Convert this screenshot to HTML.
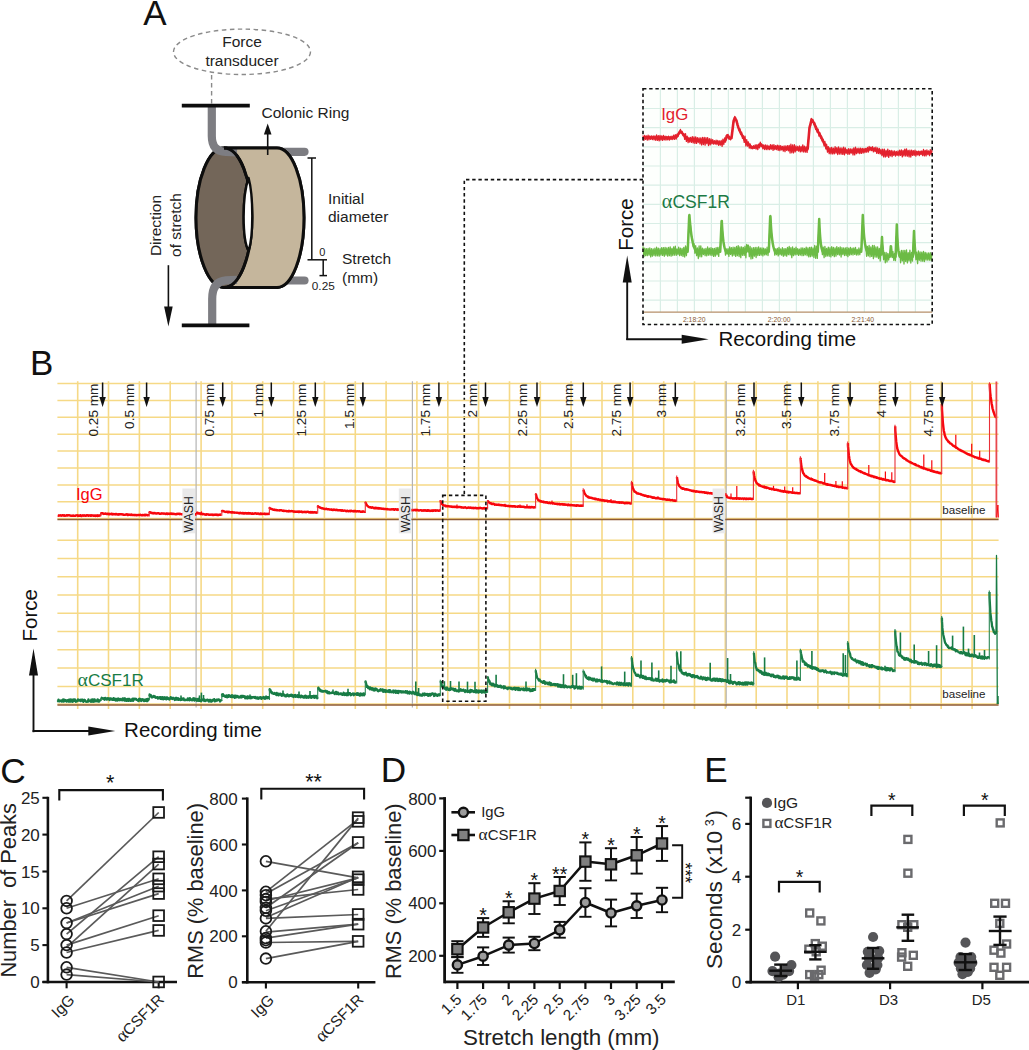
<!DOCTYPE html>
<html lang="en"><head><meta charset="utf-8"><title>Figure</title>
<style>html,body{margin:0;padding:0;background:#fff}svg{display:block}text{font-family:'Liberation Sans', Arial, sans-serif}</style></head><body>
<svg width="1029" height="1050" viewBox="0 0 1029 1050">
<rect width="1029" height="1050" fill="#fff"/>
<g id="panelA">
<text x="143.3" y="24.5" font-size="35" fill="#111" text-anchor="start">A</text>
<ellipse cx="242" cy="51.8" rx="68.5" ry="22.7" fill="none" stroke="#8a8a8a" stroke-width="1.4" stroke-dasharray="4.5 3.5"/>
<text x="242" y="46.5" font-size="15.5" fill="#222" text-anchor="middle">Force</text>
<text x="242" y="65.5" font-size="15.5" fill="#222" text-anchor="middle">transducer</text>
<line x1="211.6" y1="75" x2="211.6" y2="104" stroke="#8a8a8a" stroke-width="1.4" stroke-dasharray="4.5 3.5"/>
<line x1="283" y1="151.8" x2="304.5" y2="151.8" stroke="#7d7d82" stroke-width="8.2" stroke-linecap="round"/>
<line x1="283" y1="280.5" x2="304.5" y2="280.5" stroke="#7d7d82" stroke-width="8.2" stroke-linecap="round"/>
<path d="M224,148 L277,148 A27,69.7 0 0 1 277,287.4 L224,287.4 A28,69.7 0 0 1 224,148 Z" fill="#c5b69c" stroke="#0d0d0d" stroke-width="3" stroke-linejoin="round"/>
<ellipse cx="224" cy="217.7" rx="28" ry="69.7" fill="#736659" stroke="#0d0d0d" stroke-width="3"/>
<path d="M248.6,178 C242,196 242,239 248.6,251 C253.5,236 253.5,196 248.6,178 Z" fill="#fff" stroke="#0d0d0d" stroke-width="2.4" stroke-linejoin="round"/>
<path d="M211.8,107 L211.8,136 C211.8,147 217,151.5 226,152 L237,152.5" fill="none" stroke="#7d7d82" stroke-width="8.2" stroke-linecap="butt"/>
<path d="M212.2,324 L212.2,299 C212.2,287 217,281 226,280.3 L237,279.8" fill="none" stroke="#7d7d82" stroke-width="8.2" stroke-linecap="butt"/>
<path d="M236,148 L277,148 A27,69.7 0 0 1 277,287.4 L236,287.4 C244,279 252,250 252,217.7 C252,186 244,157 236,148 Z" fill="#c5b69c"/>
<path d="M224,148 L277,148 A27,69.7 0 0 1 277,287.4 L224,287.4" fill="none" stroke="#0d0d0d" stroke-width="3"/>
<path d="M224,148 A28,69.7 0 0 1 224,287.4" fill="none" stroke="#0d0d0d" stroke-width="3"/>
<path d="M248.6,178 C242,196 242,239 248.6,251 C253.5,236 253.5,196 248.6,178 Z" fill="#fff" stroke="#0d0d0d" stroke-width="2.4" stroke-linejoin="round"/>
<line x1="181.8" y1="105.6" x2="249.8" y2="105.6" stroke="#0d0d0d" stroke-width="3.6"/>
<line x1="181.8" y1="325.4" x2="249.4" y2="325.4" stroke="#0d0d0d" stroke-width="3.6"/>
<line x1="267.7" y1="155" x2="267.7" y2="133.6" stroke="#111" stroke-width="1.6"/>
<polygon points="267.7,123.6 271.5,134.6 263.9,134.6" fill="#111"/>
<text x="261.5" y="117.5" font-size="15.5" fill="#222" text-anchor="start">Colonic Ring</text>
<line x1="311.8" y1="158" x2="311.8" y2="259.8" stroke="#111" stroke-width="1.5"/>
<line x1="307.5" y1="158" x2="316" y2="158" stroke="#111" stroke-width="1.5"/>
<line x1="307.5" y1="259.8" x2="316" y2="259.8" stroke="#111" stroke-width="1.5"/>
<text x="328" y="204" font-size="15.5" fill="#222" text-anchor="start">Initial</text>
<text x="328" y="222" font-size="15.5" fill="#222" text-anchor="start">diameter</text>
<line x1="323.2" y1="260" x2="323.2" y2="275.6" stroke="#111" stroke-width="1.5"/>
<line x1="316" y1="259.8" x2="327" y2="259.8" stroke="#111" stroke-width="1.5"/>
<line x1="319.5" y1="275.6" x2="327" y2="275.6" stroke="#111" stroke-width="1.5"/>
<text x="319.3" y="256" font-size="11" fill="#222" text-anchor="start">0</text>
<text x="311.8" y="289.5" font-size="11.8" fill="#222" text-anchor="start">0.25</text>
<text x="342" y="264" font-size="15.5" fill="#222" text-anchor="start">Stretch</text>
<text x="342" y="282.5" font-size="15.5" fill="#222" text-anchor="start">(mm)</text>
<text x="161.3" y="225.5" font-size="15.5" fill="#222" text-anchor="middle" transform="rotate(-90 161.3 225.5)">Direction</text>
<text x="180.9" y="225" font-size="15.5" fill="#222" text-anchor="middle" transform="rotate(-90 180.9 225)">of stretch</text>
<line x1="168.4" y1="265.2" x2="168.4" y2="307.5" stroke="#111" stroke-width="1.6"/>
<polygon points="168.4,326.5 164.1,306.5 172.7,306.5" fill="#111"/>
</g>
<g id="inset">
<rect x="643" y="88.8" width="289.2" height="235.7" fill="#fdfffd"/>
<line x1="660.4" y1="88.8" x2="660.4" y2="312" stroke="#d9eee6" stroke-width="1.2"/>
<line x1="677.4" y1="88.8" x2="677.4" y2="312" stroke="#d9eee6" stroke-width="1.2"/>
<line x1="694.4" y1="88.8" x2="694.4" y2="312" stroke="#d9eee6" stroke-width="1.2"/>
<line x1="711.4" y1="88.8" x2="711.4" y2="312" stroke="#d9eee6" stroke-width="1.2"/>
<line x1="728.4" y1="88.8" x2="728.4" y2="312" stroke="#d9eee6" stroke-width="1.2"/>
<line x1="745.4" y1="88.8" x2="745.4" y2="312" stroke="#d9eee6" stroke-width="1.2"/>
<line x1="762.4" y1="88.8" x2="762.4" y2="312" stroke="#d9eee6" stroke-width="1.2"/>
<line x1="779.4" y1="88.8" x2="779.4" y2="312" stroke="#d9eee6" stroke-width="1.2"/>
<line x1="796.4" y1="88.8" x2="796.4" y2="312" stroke="#d9eee6" stroke-width="1.2"/>
<line x1="813.4" y1="88.8" x2="813.4" y2="312" stroke="#d9eee6" stroke-width="1.2"/>
<line x1="830.4" y1="88.8" x2="830.4" y2="312" stroke="#d9eee6" stroke-width="1.2"/>
<line x1="847.4" y1="88.8" x2="847.4" y2="312" stroke="#d9eee6" stroke-width="1.2"/>
<line x1="864.4" y1="88.8" x2="864.4" y2="312" stroke="#d9eee6" stroke-width="1.2"/>
<line x1="881.4" y1="88.8" x2="881.4" y2="312" stroke="#d9eee6" stroke-width="1.2"/>
<line x1="898.4" y1="88.8" x2="898.4" y2="312" stroke="#d9eee6" stroke-width="1.2"/>
<line x1="915.4" y1="88.8" x2="915.4" y2="312" stroke="#d9eee6" stroke-width="1.2"/>
<line x1="643" y1="108.5" x2="932.2" y2="108.5" stroke="#d9eee6" stroke-width="1.2"/>
<line x1="643" y1="127.7" x2="932.2" y2="127.7" stroke="#d9eee6" stroke-width="1.2"/>
<line x1="643" y1="146.8" x2="932.2" y2="146.8" stroke="#d9eee6" stroke-width="1.2"/>
<line x1="643" y1="166" x2="932.2" y2="166" stroke="#d9eee6" stroke-width="1.2"/>
<line x1="643" y1="185.2" x2="932.2" y2="185.2" stroke="#d9eee6" stroke-width="1.2"/>
<line x1="643" y1="204.4" x2="932.2" y2="204.4" stroke="#d9eee6" stroke-width="1.2"/>
<line x1="643" y1="223.5" x2="932.2" y2="223.5" stroke="#d9eee6" stroke-width="1.2"/>
<line x1="643" y1="242.7" x2="932.2" y2="242.7" stroke="#d9eee6" stroke-width="1.2"/>
<line x1="643" y1="261.9" x2="932.2" y2="261.9" stroke="#d9eee6" stroke-width="1.2"/>
<line x1="643" y1="281" x2="932.2" y2="281" stroke="#d9eee6" stroke-width="1.2"/>
<line x1="643" y1="300.2" x2="932.2" y2="300.2" stroke="#d9eee6" stroke-width="1.2"/>
<line x1="643" y1="312.2" x2="932.2" y2="312.2" stroke="#b58f68" stroke-width="1.2"/>
<text x="694.3" y="321.9" font-size="6.8" fill="#8a5a35" text-anchor="middle">2:18:20</text>
<text x="779.2" y="321.9" font-size="6.8" fill="#8a5a35" text-anchor="middle">2:20:00</text>
<text x="862.8" y="321.9" font-size="6.8" fill="#8a5a35" text-anchor="middle">2:21:40</text>
<polyline points="643,137.5 643.3,137.5 643.6,137.5 643.9,137.5 644.2,137.5 644.5,137.5 644.8,137.5 645.1,137.5 645.4,137.5 645.7,137.5 646,137.6 646.3,137.6 646.6,137.6 646.9,137.6 647.2,137.6 647.5,137.6 647.8,137.6 648.1,137.6 648.4,137.6 648.7,137.6 649,137.6 649.3,137.6 649.6,137.6 649.9,137.6 650.2,137.6 650.5,137.6 650.8,137.6 651.1,137.6 651.4,137.6 651.7,137.6 652,137.7 652.3,137.7 652.6,137.7 652.9,137.7 653.2,137.7 653.5,137.7 653.8,137.7 654.1,137.7 654.4,137.7 654.7,137.7 655,137.7 655.3,137.7 655.6,137.7 655.9,137.7 656.2,137.7 656.5,137.7 656.8,137.7 657.1,137.7 657.4,137.7 657.7,137.8 658,137.8 658.3,137.8 658.6,137.8 658.9,137.8 659.2,137.8 659.5,137.8 659.8,137.8 660.1,137.8 660.4,137.8 660.7,137.8 661,137.8 661.3,137.8 661.6,137.8 661.9,137.8 662.2,137.8 662.5,137.8 662.8,137.8 663.1,137.8 663.4,137.9 663.7,137.9 664,137.9 664.3,137.9 664.6,137.9 664.9,137.9 665.2,137.9 665.5,137.9 665.8,137.9 666.1,137.9 666.4,137.9 666.7,137.9 667,137.9 667.3,137.9 667.6,137.9 667.9,137.9 668.2,137.9 668.5,137.9 668.8,137.9 669.1,137.9 669.4,138 669.7,138 670,138 670.3,138 670.6,138 670.9,138 671.2,138 671.5,138 671.8,138 672.1,138 672.4,137.9 672.7,137.8 673,137.7 673.3,137.6 673.6,137.5 673.9,137.4 674.2,137.3 674.5,137.3 674.8,137.2 675.1,137.1 675.4,137 675.7,136.9 676,136.8 676.3,136.7 676.6,136.6 676.9,136.5 677.2,136.2 677.5,135.7 677.8,135.2 678.1,134.7 678.4,134.2 678.7,133.7 679,133.2 679.3,132.7 679.6,132.2 679.9,131.7 680.2,131.2 680.5,131.2 680.8,131.6 681.1,131.9 681.4,132.2 681.7,132.6 682,132.9 682.3,133.2 682.6,133.6 682.9,133.9 683.2,134.3 683.5,134.6 683.8,135 684.1,135.4 684.4,135.8 684.7,136.2 685,136.6 685.3,137 685.6,137.4 685.9,137.8 686.2,138.2 686.5,138.5 686.8,138.9 687.1,139.2 687.4,139.2 687.7,139.3 688,139.3 688.3,139.3 688.6,139.4 688.9,139.4 689.2,139.4 689.5,139.4 689.8,139.5 690.1,139.5 690.4,139.5 690.7,139.6 691,139.6 691.3,139.6 691.6,139.7 691.9,139.7 692.2,139.7 692.5,139.7 692.8,139.8 693.1,139.8 693.4,139.8 693.7,139.9 694,139.9 694.3,139.9 694.6,140 694.9,140 695.2,140 695.5,140 695.8,140.1 696.1,140.1 696.4,140.1 696.7,140.2 697,140.2 697.3,140.2 697.6,140.3 697.9,140.3 698.2,140.3 698.5,140.3 698.8,140.4 699.1,140.4 699.4,140.4 699.7,140.5 700,140.5 700.3,140.5 700.6,140.6 700.9,140.6 701.2,140.6 701.5,140.7 701.8,140.7 702.1,140.8 702.4,140.8 702.7,140.8 703,140.9 703.3,140.9 703.6,140.9 703.9,141 704.2,141 704.5,141.1 704.8,141.1 705.1,141.1 705.4,141.2 705.7,141.2 706,141.2 706.3,141.3 706.6,141.3 706.9,141.3 707.2,141.4 707.5,141.4 707.8,141.5 708.1,141.5 708.4,141.5 708.7,141.6 709,141.6 709.3,141.6 709.6,141.7 709.9,141.7 710.2,141.8 710.5,141.8 710.8,141.8 711.1,141.9 711.4,141.9 711.7,141.9 712,142 712.3,142 712.6,142 712.9,142.1 713.2,142.1 713.5,142.2 713.8,142.2 714.1,142.2 714.4,142.3 714.7,142.3 715,142.3 715.3,142.4 715.6,142.4 715.9,142.5 716.2,142.5 716.5,142.5 716.8,142.6 717.1,142.6 717.4,142.6 717.7,142.7 718,142.7 718.3,142.7 718.6,142.8 718.9,142.8 719.2,142.9 719.5,142.9 719.8,142.9 720.1,143 720.4,143 720.7,143 721,143.1 721.3,143.1 721.6,143.2 721.9,143.2 722.2,143 722.5,142.7 722.8,142.5 723.1,142.2 723.4,141.9 723.7,141.6 724,141.4 724.3,141.1 724.6,140.8 724.9,140.5 725.2,140.3 725.5,140 725.8,139.2 726.1,138.4 726.4,137.7 726.7,136.9 727,136.1 727.3,135.3 727.6,135.7 727.9,136.2 728.2,136.6 728.5,137 728.8,137.5 729.1,137.9 729.4,138.4 729.7,138.5 730,138.4 730.3,138.3 730.6,138.2 730.9,138.2 731.2,138.1 731.5,138 731.8,135.6 732.1,133.1 732.4,130.7 732.7,128.3 733,125.9 733.3,123.4 733.6,121 733.9,120.2 734.2,119.4 734.5,118.6 734.8,117.8 735.1,117.9 735.4,118.6 735.7,119.2 736,119.9 736.3,120.6 736.6,121.3 736.9,122.4 737.2,123.4 737.5,124.5 737.8,125.5 738.1,126.6 738.4,127.6 738.7,128.4 739,129.1 739.3,129.8 739.6,130.4 739.9,131.1 740.2,131.7 740.5,132.4 740.8,133.1 741.1,133.7 741.4,134.2 741.7,134.7 742,135.2 742.3,135.7 742.6,136.2 742.9,136.7 743.2,137.2 743.5,137.7 743.8,138.3 744.1,138.8 744.4,139.3 744.7,139.8 745,140.3 745.3,140.8 745.6,141.3 745.9,141.8 746.2,142.2 746.5,142.5 746.8,142.7 747.1,143 747.4,143.3 747.7,143.6 748,143.8 748.3,144.1 748.6,144.4 748.9,144.7 749.2,144.9 749.5,145.2 749.8,145.5 750.1,145.8 750.4,146 750.7,146.3 751,146.6 751.3,146.9 751.6,147.1 751.9,147.4 752.2,147.5 752.5,147.5 752.8,147.4 753.1,147.4 753.4,147.4 753.7,147.4 754,147.3 754.3,147.3 754.6,147.3 754.9,147.3 755.2,147.2 755.5,147.2 755.8,147.2 756.1,147.2 756.4,147.1 756.7,147.1 757,147.1 757.3,147.1 757.6,147 757.9,147 758.2,146.8 758.5,146.4 758.8,146 759.1,145.7 759.4,145.3 759.7,145 760,144.6 760.3,144.2 760.6,144.1 760.9,144.5 761.2,144.8 761.5,145.2 761.8,145.6 762.1,145.9 762.4,146.3 762.7,146.6 763,147 763.3,147 763.6,147 763.9,147 764.2,147.1 764.5,147.1 764.8,147.1 765.1,147.1 765.4,147.1 765.7,147.1 766,147.2 766.3,147.2 766.6,147.2 766.9,147.2 767.2,147.2 767.5,147.2 767.8,147.3 768.1,147.3 768.4,147.3 768.7,147.3 769,147.3 769.3,147.3 769.6,147.4 769.9,147.4 770.2,147.4 770.5,147.4 770.8,147.4 771.1,147.4 771.4,147.5 771.7,147.5 772,147.5 772.3,147.5 772.6,147.5 772.9,147.5 773.2,147.6 773.5,147.6 773.8,147.6 774.1,147.6 774.4,147.6 774.7,147.6 775,147.7 775.3,147.7 775.6,147.7 775.9,147.7 776.2,147.7 776.5,147.7 776.8,147.8 777.1,147.8 777.4,147.8 777.7,147.8 778,147.8 778.3,147.8 778.6,147.9 778.9,147.9 779.2,147.9 779.5,147.9 779.8,147.9 780.1,147.9 780.4,148 780.7,148 781,148 781.3,148 781.6,148 781.9,148 782.2,148.1 782.5,148.1 782.8,148.1 783.1,148.1 783.4,148.1 783.7,148.1 784,148.2 784.3,148.2 784.6,148.2 784.9,148.2 785.2,148.2 785.5,148.2 785.8,148.3 786.1,148.3 786.4,148.3 786.7,148.3 787,148.3 787.3,148.3 787.6,148.4 787.9,148.4 788.2,148.4 788.5,148.4 788.8,148.4 789.1,148.4 789.4,148.5 789.7,148.5 790,148.5 790.3,148.5 790.6,148.5 790.9,148.6 791.2,148.6 791.5,148.6 791.8,148.6 792.1,148.6 792.4,148.6 792.7,148.7 793,148.7 793.3,148.7 793.6,148.7 793.9,148.7 794.2,148.7 794.5,148.8 794.8,148.8 795.1,148.8 795.4,148.8 795.7,148.8 796,148.8 796.3,148.9 796.6,148.9 796.9,148.9 797.2,148.9 797.5,148.9 797.8,148.9 798.1,149 798.4,149 798.7,149 799,149 799.3,149 799.6,149 799.9,149.1 800.2,149.1 800.5,149.1 800.8,149.1 801.1,149.1 801.4,149.1 801.7,149.2 802,149.2 802.3,149.2 802.6,149.2 802.9,149.2 803.2,149.2 803.5,149.3 803.8,149.3 804.1,149.3 804.4,149.3 804.7,149.3 805,149.4 805.3,149.4 805.6,149.4 805.9,149.4 806.2,149.4 806.5,149.4 806.8,149.5 807.1,149.5 807.4,149.5 807.7,148.4 808,145 808.3,141.6 808.6,138.2 808.9,134.8 809.2,131.4 809.5,128 809.8,126.8 810.1,125.6 810.4,124.4 810.7,123.1 811,121.9 811.3,120.7 811.6,119.5 811.9,119.9 812.2,120.4 812.5,120.8 812.8,121.2 813.1,121.7 813.4,122.1 813.7,122.6 814,123 814.3,123.7 814.6,124.4 814.9,125.1 815.2,125.8 815.5,126.5 815.8,127.2 816.1,127.9 816.4,128.6 816.7,129.3 817,130 817.3,130.5 817.6,131 817.9,131.5 818.2,132 818.5,132.5 818.8,133 819.1,133.5 819.4,134 819.7,134.5 820,135 820.3,135.6 820.6,136.2 820.9,136.8 821.2,137.4 821.5,138 821.8,138.6 822.1,139.2 822.4,139.8 822.7,140.4 823,141 823.3,141.6 823.6,142.2 823.9,142.8 824.2,143.3 824.5,143.8 824.8,144.3 825.1,144.8 825.4,145.3 825.7,145.8 826,146.3 826.3,146.8 826.6,147.3 826.9,147.8 827.2,148.3 827.5,148.8 827.8,149.3 828.1,149.8 828.4,150.3 828.7,150.5 829,150.5 829.3,150.5 829.6,150.6 829.9,150.6 830.2,150.6 830.5,150.6 830.8,150.6 831.1,150.6 831.4,150.6 831.7,150.6 832,150.7 832.3,150.7 832.6,150.7 832.9,150.7 833.2,150.7 833.5,150.7 833.8,150.7 834.1,150.8 834.4,150.8 834.7,150.8 835,150.8 835.3,150.8 835.6,150.8 835.9,150.8 836.2,150.9 836.5,150.9 836.8,150.9 837.1,150.9 837.4,150.9 837.7,150.9 838,150.9 838.3,151 838.6,151 838.9,151 839.2,151 839.5,151 839.8,151 840.1,151 840.4,151.1 840.7,151.1 841,151.1 841.3,151.1 841.6,151.1 841.9,151.1 842.2,151.1 842.5,151.2 842.8,151.2 843.1,151.2 843.4,151.2 843.7,151.2 844,151.2 844.3,151.2 844.6,151.2 844.9,151.3 845.2,151.3 845.5,151.3 845.8,151.3 846.1,151.3 846.4,151.3 846.7,151.3 847,151.4 847.3,151.4 847.6,151.4 847.9,151.4 848.2,151.4 848.5,151.4 848.8,151.4 849.1,151.5 849.4,151.5 849.7,151.5 850,151.5 850.3,151.5 850.6,151.5 850.9,151.4 851.2,151.4 851.5,151.4 851.8,151.4 852.1,151.4 852.4,151.3 852.7,151.3 853,151.3 853.3,151.3 853.6,151.2 853.9,151.2 854.2,151.2 854.5,151.2 854.8,151.2 855.1,151.1 855.4,151.1 855.7,151.1 856,151.1 856.3,151.1 856.6,151 856.9,151 857.2,151 857.5,151 857.8,150.9 858.1,150.9 858.4,150.9 858.7,150.9 859,150.9 859.3,150.8 859.6,150.8 859.9,150.8 860.2,150.8 860.5,150.8 860.8,150.7 861.1,150.7 861.4,150.7 861.7,150.7 862,150.6 862.3,150.6 862.6,150.6 862.9,150.6 863.2,150.6 863.5,150.5 863.8,150.5 864.1,150.5 864.4,150.4 864.7,150.3 865,150.2 865.3,150.1 865.6,150 865.9,149.9 866.2,149.8 866.5,149.7 866.8,149.6 867.1,149.5 867.4,149.4 867.7,149.3 868,149.2 868.3,149.1 868.6,149 868.9,148.9 869.2,148.8 869.5,148.7 869.8,148.6 870.1,148.5 870.4,148.6 870.7,148.7 871,148.7 871.3,148.8 871.6,148.9 871.9,149 872.2,149 872.5,149.1 872.8,149.2 873.1,149.3 873.4,149.3 873.7,149.4 874,149.5 874.3,149.6 874.6,149.6 874.9,149.7 875.2,149.8 875.5,149.9 875.8,149.9 876.1,150 876.4,150.2 876.7,150.3 877,150.4 877.3,150.6 877.6,150.7 877.9,150.8 878.2,151 878.5,151.1 878.8,151.2 879.1,151.4 879.4,151.5 879.7,151.6 880,151.7 880.3,151.9 880.6,152 880.9,152.1 881.2,152.3 881.5,152.4 881.8,152.5 882.1,152.7 882.4,152.8 882.7,152.9 883,153.1 883.3,153.2 883.6,153.3 883.9,153.5 884.2,153.5 884.5,153.5 884.8,153.5 885.1,153.5 885.4,153.5 885.7,153.5 886,153.5 886.3,153.5 886.6,153.5 886.9,153.5 887.2,153.5 887.5,153.5 887.8,153.4 888.1,153.4 888.4,153.4 888.7,153.4 889,153.4 889.3,153.4 889.6,153.4 889.9,153.4 890.2,153.4 890.5,153.4 890.8,153.4 891.1,153.4 891.4,153.4 891.7,153.4 892,153.4 892.3,153.4 892.6,153.4 892.9,153.4 893.2,153.4 893.5,153.4 893.8,153.4 894.1,153.4 894.4,153.4 894.7,153.3 895,153.3 895.3,153.3 895.6,153.3 895.9,153.3 896.2,153.3 896.5,153.3 896.8,153.3 897.1,153.3 897.4,153.3 897.7,153.3 898,153.3 898.3,153.3 898.6,153.3 898.9,153.3 899.2,153.3 899.5,153.3 899.8,153.3 900.1,153.3 900.4,153.3 900.7,153.3 901,153.3 901.3,153.3 901.6,153.2 901.9,153.2 902.2,153.2 902.5,153.2 902.8,153.2 903.1,153.2 903.4,153.2 903.7,153.2 904,153.2 904.3,153.2 904.6,153.2 904.9,153.2 905.2,153.2 905.5,153.2 905.8,153.2 906.1,153.2 906.4,153.2 906.7,153.2 907,153.2 907.3,153.1 907.6,153.1 907.9,153.1 908.2,153.1 908.5,153.1 908.8,153.1 909.1,153.1 909.4,153.1 909.7,153.1 910,153.1 910.3,153.1 910.6,153.1 910.9,153.1 911.2,153.1 911.5,153.1 911.8,153.1 912.1,153 912.4,153 912.7,153 913,153 913.3,153 913.6,153 913.9,153 914.2,153 914.5,153 914.8,153 915.1,153 915.4,153 915.7,153 916,153 916.3,153 916.6,152.9 916.9,152.9 917.2,152.9 917.5,152.9 917.8,152.9 918.1,152.9 918.4,152.9 918.7,152.9 919,152.9 919.3,152.9 919.6,152.9 919.9,152.9 920.2,152.9 920.5,152.9 920.8,152.9 921.1,152.8 921.4,152.8 921.7,152.8 922,152.8 922.3,152.8 922.6,152.8 922.9,152.8 923.2,152.8 923.5,152.8 923.8,152.8 924.1,152.8 924.4,152.8 924.7,152.8 925,152.8 925.3,152.8 925.6,152.7 925.9,152.7 926.2,152.7 926.5,152.7 926.8,152.7 927.1,152.7 927.4,152.7 927.7,152.7 928,152.7 928.3,152.7 928.6,152.7 928.9,152.7 929.2,152.7 929.5,152.7 929.8,152.7 930.1,152.6 930.4,152.6 930.7,152.6 931,152.6 931.3,152.6 931.6,152.6 931.9,152.6 932.2,152.6" fill="none" stroke="#e3212d" stroke-width="2.6" stroke-linejoin="round"/>
<polyline points="643,135.5 643.9,140.3 644.7,135.3 645.6,139.4 646.4,135.8 647.3,140.2 648.1,135.1 649,139.9 649.8,135.8 650.7,139.4 651.5,135.8 652.4,139.7 653.2,136 654.1,139.9 654.9,135.9 655.8,140.3 656.6,135 657.5,140.3 658.3,135.6 659.2,140.9 660,135.3 660.9,140.1 661.7,135.9 662.6,140.3 663.4,135.5 664.3,139.9 665.1,136.2 666,140.2 666.8,136.4 667.7,139.8 668.5,136.2 669.4,140 670.2,136.4 671.1,139.5 671.9,136.2 672.8,139.5 673.6,135.2 674.5,139.4 675.3,134.6 676.2,139.1 677,134.1 677.9,136.7 678.7,132.3 679.6,133.6 680.4,129.3 681.3,133.2 682.1,131.3 683,135.7 683.8,133.7 684.7,139.3 685.5,133.6 686.4,141.3 687.2,136.2 688.1,142.6 688.9,137.4 689.8,142.1 690.6,137.3 691.5,142.4 692.3,136.7 693.2,142.9 694,136.9 694.9,143.3 695.7,136.9 696.6,143.4 697.4,137.7 698.3,142.5 699.1,137.9 700,143.8 700.8,137.9 701.7,145 702.5,137.5 703.4,144.5 704.2,137.3 705.1,145.1 705.9,137.7 706.8,143.7 707.6,137.6 708.5,145.5 709.3,138.6 710.2,144.9 711,138.8 711.9,143.8 712.7,139.6 713.6,144.2 714.4,140.7 715.3,144.2 716.1,140.1 717,144.5 717.8,140.3 718.7,145.4 719.5,140.8 720.4,145.2 721.2,140.5 722.1,146.4 722.9,139.2 723.8,144.5 724.6,138 725.5,142.2 726.3,135.4 727.2,137.3 728,134.4 728.9,139 729.7,136.1 730.6,139.9 731.4,136.9 732.3,133.1 733.1,123.6 734,121.5 734.8,116.3 735.7,120.3 736.5,119.4 737.4,125.6 738.2,125.3 739.1,130.5 739.9,128.9 740.8,134.3 741.6,132.2 742.5,138.4 743.3,135.9 744.2,142.3 745,136.2 745.9,146 746.7,139.7 747.6,146.2 748.4,141.8 749.3,148.1 750.1,143.9 751,148.7 751.8,146.3 752.7,148.8 753.5,145.7 754.4,148.3 755.2,144.8 756.1,149.2 756.9,144.6 757.8,149.6 758.6,144.2 759.5,147.9 760.3,142.2 761.2,146.3 762,144.3 762.9,148.9 763.7,144.8 764.6,149.5 765.4,145 766.3,149.6 767.1,145.1 768,149.7 768.8,145.9 769.7,149.7 770.5,144.6 771.4,149.1 772.2,144.9 773.1,150.3 773.9,144.6 774.8,149.6 775.6,145.7 776.5,149.7 777.3,145.1 778.2,150.4 779,145.4 779.9,150.7 780.7,145.6 781.6,149.9 782.4,146.3 783.3,151.2 784.1,145.9 785,151.7 785.8,146 786.7,150.4 787.5,145.7 788.4,150.9 789.2,145.4 790.1,153 790.9,144.2 791.8,152.8 792.6,145 793.5,152.9 794.3,144.7 795.2,151.8 796,146 796.9,150.6 797.7,146.5 798.6,151.2 799.4,146 800.3,151.9 801.1,146.5 802,151.6 802.8,144.8 803.7,152 804.5,146.1 805.4,152.1 806.2,146.9 807.1,152.4 807.9,142.7 808.8,138.1 809.6,125.4 810.5,126 811.3,118.5 812.2,122.4 813,119.9 813.9,124.5 814.7,122.8 815.6,129.4 816.4,126.3 817.3,132.3 818.1,129.2 819,136.1 819.8,132.6 820.7,138.1 821.5,136.1 822.4,141.4 823.2,139.4 824.1,145.8 824.9,141.5 825.8,148.8 826.6,144.2 827.5,152.1 828.3,146.7 829.2,153.7 830,147.7 830.9,153.9 831.7,147.3 832.6,153.9 833.4,148.2 834.3,153.8 835.1,146.7 836,153.1 836.8,147.7 837.7,154.5 838.5,146.9 839.4,154 840.2,148 841.1,154.1 841.9,147.8 842.8,154.4 843.6,147.2 844.5,154.8 845.3,147.9 846.2,153.4 847,149.4 847.9,154.3 848.7,148.6 849.6,154.1 850.4,148.8 851.3,153.2 852.1,148.9 853,154.9 853.8,147.9 854.7,154.9 855.5,147.1 856.4,153.7 857.2,148.5 858.1,153.2 858.9,148.1 859.8,153.6 860.6,148.1 861.5,153.4 862.3,148.3 863.2,153 864,148.3 864.9,152.6 865.7,148.3 866.6,152.2 867.4,147.5 868.3,152.1 869.1,146.5 870,150.5 870.8,147.1 871.7,150.7 872.5,146.7 873.4,151.9 874.2,147.7 875.1,151.7 875.9,147.1 876.8,153.3 877.6,148 878.5,153.5 879.3,148.4 880.2,154 881,149.5 881.9,155.5 882.7,149.1 883.6,156.9 884.4,149.2 885.3,157 886.1,150.5 887,156.3 887.8,149.1 888.7,157.4 889.5,150.3 890.4,155.8 891.2,150.4 892.1,156.6 892.9,150.9 893.8,155.4 894.6,151 895.5,156.1 896.3,151.3 897.2,155.3 898,151 898.9,155.8 899.7,150.2 900.6,155.3 901.4,150 902.3,156.8 903.1,150.3 904,155.9 904.8,149.1 905.7,156 906.5,148.9 907.4,156.2 908.2,150.4 909.1,156.9 909.9,150.2 910.8,157 911.6,150.2 912.5,155.3 913.3,150.6 914.2,155.4 915,150.1 915.9,156.2 916.7,151.2 917.6,154.9 918.4,151.1 919.3,155.7 920.1,151.2 921,154.6 921.8,150.9 922.7,155.6 923.5,149.5 924.4,155.9 925.2,150.3 926.1,155.8 926.9,149.9 927.8,154.6 928.6,151 929.5,155.6 930.3,149.6 931.2,154.4 932,150.2" fill="none" stroke="#e3212d" stroke-width="1.3" stroke-linejoin="round"/>
<polyline points="643,251.8 643.2,251.8 643.4,251.8 643.6,251.8 643.8,251.8 644,251.8 644.2,251.8 644.4,251.8 644.6,251.8 644.8,251.8 645,251.8 645.2,251.8 645.4,251.8 645.6,251.8 645.8,251.8 646,251.8 646.2,251.8 646.4,251.8 646.6,251.8 646.8,251.8 647,251.8 647.2,251.8 647.4,251.8 647.6,251.8 647.8,251.8 648,251.8 648.2,251.8 648.4,251.8 648.6,251.8 648.8,251.8 649,251.8 649.2,251.8 649.4,251.8 649.6,251.8 649.8,251.8 650,251.8 650.2,251.8 650.4,251.8 650.6,251.8 650.8,251.8 651,251.8 651.2,251.8 651.4,251.8 651.6,251.8 651.8,251.8 652,251.8 652.2,251.8 652.4,251.8 652.6,251.8 652.8,251.8 653,251.8 653.2,251.8 653.4,251.8 653.6,251.8 653.8,251.8 654,251.8 654.2,251.8 654.4,251.8 654.6,251.8 654.8,251.8 655,251.8 655.2,251.8 655.4,251.8 655.6,251.8 655.8,251.8 656,251.8 656.2,251.8 656.4,251.8 656.6,251.8 656.8,251.8 657,251.8 657.2,251.8 657.4,251.8 657.6,251.8 657.8,251.8 658,251.8 658.2,251.8 658.4,251.8 658.6,251.8 658.8,251.8 659,251.8 659.2,251.8 659.4,251.8 659.6,251.8 659.8,251.8 660,251.8 660.2,251.8 660.4,251.8 660.6,251.8 660.8,251.8 661,251.8 661.2,251.8 661.4,251.8 661.6,251.8 661.8,251.8 662,251.8 662.2,251.8 662.4,251.8 662.6,251.8 662.8,251.8 663,251.8 663.2,251.8 663.4,251.8 663.6,251.8 663.8,251.8 664,251.8 664.2,251.8 664.4,251.8 664.6,251.8 664.8,251.8 665,251.8 665.2,251.8 665.4,251.8 665.6,251.8 665.8,251.8 666,251.8 666.2,251.8 666.4,251.8 666.6,251.8 666.8,251.8 667,251.8 667.2,251.8 667.4,251.8 667.6,251.8 667.8,251.8 668,251.8 668.2,251.8 668.4,251.8 668.6,251.8 668.8,251.8 669,251.8 669.2,251.8 669.4,251.8 669.6,251.8 669.8,251.8 670,251.8 670.2,251.8 670.4,251.8 670.6,251.8 670.8,251.8 671,251.8 671.2,251.8 671.4,251.8 671.6,251.8 671.8,251.8 672,251.8 672.2,251.8 672.4,251.8 672.6,251.8 672.8,251.8 673,251.8 673.2,251.8 673.4,251.8 673.6,251.8 673.8,251.8 674,251.8 674.2,251.8 674.4,251.8 674.6,251.8 674.8,251.8 675,251.8 675.2,251.8 675.4,251.8 675.6,251.8 675.8,251.8 676,251.8 676.2,251.8 676.4,251.8 676.6,251.8 676.8,251.8 677,251.8 677.2,251.8 677.4,251.8 677.6,251.8 677.8,251.8 678,251.8 678.2,251.8 678.4,251.8 678.6,251.8 678.8,251.8 679,251.8 679.2,251.8 679.4,251.8 679.6,251.8 679.8,251.8 680,251.8 680.2,251.8 680.4,251.8 680.6,251.8 680.8,251.8 681,251.8 681.2,251.8 681.4,251.8 681.6,251.8 681.8,251.8 682,251.8 682.2,251.8 682.4,251.8 682.6,251.8 682.8,251.8 683,251.8 683.2,251.8 683.4,251.8 683.6,251.8 683.8,251.8 684,251.8 684.2,251.8 684.4,251.8 684.6,251.8 684.8,251.8 685,251.8 685.2,251.8 685.4,251.8 685.6,251.8 685.8,251.8 686,251.8 686.2,251.8 686.4,251.8 686.6,251.8 686.8,251.8 687,251.8 687.2,251.8 687.4,251.8 687.6,251.8 687.8,249.4 688,244.6 688.2,239.8 688.4,235 688.6,230.3 688.8,225.5 689,220.7 689.2,215.9 689.4,214.9 689.6,217.6 689.8,220.1 690,222.4 690.2,224.6 690.4,226.6 690.6,228.5 690.8,230.3 691,231.9 691.2,233.5 691.4,234.9 691.6,236.2 691.8,237.5 692,238.6 692.2,239.7 692.4,240.7 692.6,241.7 692.8,242.6 693,243.4 693.2,244.2 693.4,244.9 693.6,245.6 693.8,246.2 694,246.8 694.2,247.3 694.4,247.8 694.6,248.3 694.8,248.7 695,249.1 695.2,249.5 695.4,249.9 695.6,250.2 695.8,250.5 696,250.8 696.2,251.1 696.4,251.3 696.6,251.6 696.8,251.8 697,251.8 697.2,251.8 697.4,251.8 697.6,251.8 697.8,251.8 698,251.8 698.2,251.8 698.4,251.8 698.6,251.8 698.8,251.8 699,251.8 699.2,251.8 699.4,251.8 699.6,251.8 699.8,251.8 700,251.8 700.2,251.8 700.4,251.8 700.6,251.8 700.8,251.8 701,251.8 701.2,251.8 701.4,251.8 701.6,251.8 701.8,251.8 702,251.8 702.2,251.8 702.4,251.8 702.6,251.8 702.8,251.8 703,251.8 703.2,251.8 703.4,251.8 703.6,251.8 703.8,251.8 704,251.8 704.2,251.8 704.4,251.8 704.6,251.8 704.8,251.8 705,251.8 705.2,251.8 705.4,251.8 705.6,251.8 705.8,251.8 706,251.8 706.2,251.8 706.4,251.8 706.6,251.8 706.8,251.8 707,251.8 707.2,251.8 707.4,251.8 707.6,251.8 707.8,251.8 708,251.8 708.2,251.8 708.4,251.8 708.6,251.8 708.8,251.8 709,251.8 709.2,251.8 709.4,251.8 709.6,251.8 709.8,251.8 710,251.8 710.2,251.8 710.4,251.8 710.6,251.8 710.8,251.8 711,251.8 711.2,251.8 711.4,251.8 711.6,251.8 711.8,251.8 712,251.8 712.2,251.8 712.4,251.8 712.6,251.8 712.8,251.8 713,251.8 713.2,251.8 713.4,251.8 713.6,251.8 713.8,251.8 714,251.8 714.2,251.8 714.4,251.8 714.6,251.8 714.8,251.8 715,251.8 715.2,251.8 715.4,251.8 715.6,251.8 715.8,251.8 716,251.8 716.2,251.8 716.4,251.8 716.6,251.8 716.8,251.8 717,251.8 717.2,251.8 717.4,251.8 717.6,251.8 717.8,251.8 718,251.8 718.2,251.8 718.4,251.8 718.6,251.8 718.8,251.8 719,251.8 719.2,251.8 719.4,251.8 719.6,251.8 719.8,251.8 720,251.8 720.2,251.8 720.4,247.4 720.6,243.1 720.8,238.7 721,234.3 721.2,229.9 721.4,225.6 721.6,221.2 721.8,221 722,224.6 722.2,227.9 722.4,230.8 722.6,233.4 722.8,235.7 723,237.7 723.2,239.5 723.4,241.2 723.6,242.6 723.8,243.9 724,245.1 724.2,246.1 724.4,247 724.6,247.8 724.8,248.5 725,249.2 725.2,249.7 725.4,250.3 725.6,250.7 725.8,251.1 726,251.5 726.2,251.8 726.4,251.8 726.6,251.8 726.8,251.8 727,251.8 727.2,251.8 727.4,251.8 727.6,251.8 727.8,251.8 728,251.8 728.2,251.8 728.4,251.8 728.6,251.8 728.8,251.8 729,251.8 729.2,251.8 729.4,251.8 729.6,251.8 729.8,251.8 730,251.8 730.2,251.8 730.4,251.8 730.6,251.8 730.8,251.8 731,251.8 731.2,251.8 731.4,251.8 731.6,251.8 731.8,251.8 732,251.8 732.2,251.8 732.4,251.8 732.6,251.8 732.8,251.8 733,251.8 733.2,251.8 733.4,251.8 733.6,251.8 733.8,251.8 734,251.8 734.2,251.8 734.4,251.8 734.6,251.8 734.8,251.8 735,251.8 735.2,251.8 735.4,251.8 735.6,251.8 735.8,251.8 736,251.8 736.2,251.8 736.4,251.8 736.6,251.8 736.8,251.8 737,251.8 737.2,251.8 737.4,251.8 737.6,251.8 737.8,251.8 738,251.8 738.2,251.8 738.4,251.8 738.6,251.8 738.8,251.8 739,251.8 739.2,251.8 739.4,251.8 739.6,251.8 739.8,251.8 740,251.8 740.2,251.8 740.4,251.8 740.6,251.8 740.8,251.8 741,251.8 741.2,251.8 741.4,251.8 741.6,251.8 741.8,251.8 742,251.8 742.2,251.8 742.4,251.8 742.6,251.8 742.8,251.8 743,251.8 743.2,251.8 743.4,251.8 743.6,251.8 743.8,251.8 744,251.8 744.2,251.8 744.4,251.8 744.6,251.8 744.8,251.8 745,251.8 745.2,251.8 745.4,251.8 745.6,251.8 745.8,251.8 746,251.8 746.2,251.8 746.4,251.8 746.6,251.2 746.8,249.9 747,248.6 747.2,247.4 747.4,246.1 747.6,246.3 747.8,247.7 748,248.8 748.2,249.6 748.4,250.2 748.6,250.7 748.8,251 749,251.3 749.2,251.6 749.4,251.7 749.6,251.8 749.8,251.8 750,251.8 750.2,251.8 750.4,251.8 750.6,251.8 750.8,251.8 751,251.8 751.2,251.8 751.4,251.8 751.6,251.8 751.8,251.8 752,251.8 752.2,251.8 752.4,251.8 752.6,251.8 752.8,251.8 753,251.8 753.2,251.8 753.4,251.8 753.6,251.8 753.8,251.8 754,251.8 754.2,251.8 754.4,251.8 754.6,251.8 754.8,251.8 755,251.8 755.2,251.8 755.4,251.8 755.6,251.8 755.8,251.8 756,251.8 756.2,251.8 756.4,251.8 756.6,251.8 756.8,251.8 757,251.8 757.2,251.8 757.4,251.8 757.6,251.8 757.8,251.8 758,251.8 758.2,251.8 758.4,251.8 758.6,251.8 758.8,251.8 759,251.8 759.2,251.8 759.4,251.8 759.6,251.8 759.8,251.8 760,251.8 760.2,251.8 760.4,251.8 760.6,251.8 760.8,251.8 761,251.8 761.2,251.8 761.4,251.8 761.6,251.8 761.8,251.8 762,251.8 762.2,251.8 762.4,251.8 762.6,251.8 762.8,251.8 763,251.8 763.2,251.8 763.4,251.8 763.6,251.8 763.8,251.8 764,251.8 764.2,251.8 764.4,251.8 764.6,251.8 764.8,251.8 765,251.8 765.2,251.8 765.4,251.8 765.6,251.8 765.8,251.8 766,251.8 766.2,251.8 766.4,251.8 766.6,251.8 766.8,251.8 767,251.8 767.2,251.8 767.4,251.8 767.6,251.8 767.8,251.8 768,251.8 768.2,251.8 768.4,251.8 768.6,251.8 768.8,251.8 769,246.8 769.2,241.7 769.4,236.7 769.6,231.6 769.8,226.6 770,221.6 770.2,216.5 770.4,216.1 770.6,219.9 770.8,223.3 771,226.5 771.2,229.3 771.4,231.8 771.6,234.1 771.8,236.1 772,238 772.2,239.6 772.4,241.1 772.6,242.5 772.8,243.7 773,244.8 773.2,245.8 773.4,246.7 773.6,247.5 773.8,248.2 774,248.9 774.2,249.5 774.4,250 774.6,250.5 774.8,250.9 775,251.3 775.2,251.6 775.4,251.8 775.6,251.8 775.8,251.8 776,251.8 776.2,251.8 776.4,251.8 776.6,251.8 776.8,251.8 777,251.8 777.2,251.8 777.4,251.8 777.6,251.8 777.8,251.8 778,251.8 778.2,251.8 778.4,251.8 778.6,251.8 778.8,251.8 779,251.8 779.2,251.8 779.4,251.8 779.6,251.8 779.8,251.8 780,251.8 780.2,251.8 780.4,251.8 780.6,251.8 780.8,251.8 781,251.8 781.2,251.8 781.4,251.8 781.6,251.8 781.8,251.8 782,251.8 782.2,251.8 782.4,251.8 782.6,251.8 782.8,251.8 783,251.8 783.2,251.8 783.4,251.8 783.6,251.8 783.8,251.8 784,251.8 784.2,251.8 784.4,251.8 784.6,251.8 784.8,251.8 785,251.8 785.2,251.8 785.4,251.8 785.6,251.8 785.8,251.8 786,251.8 786.2,251.8 786.4,251.8 786.6,251.8 786.8,251.8 787,251.8 787.2,251.8 787.4,251.8 787.6,251.8 787.8,251.8 788,251.8 788.2,251.8 788.4,251.8 788.6,251.8 788.8,251.8 789,251.8 789.2,251.8 789.4,251.8 789.6,251.8 789.8,251.8 790,251.8 790.2,251.8 790.4,251.8 790.6,251.8 790.8,251.8 791,251.8 791.2,251.8 791.4,251.8 791.6,251.8 791.8,251.8 792,251.8 792.2,251.8 792.4,251.8 792.6,251.8 792.8,251.8 793,251.8 793.2,251.8 793.4,251.8 793.6,251.8 793.8,251.8 794,251.8 794.2,251.8 794.4,251.8 794.6,251.8 794.8,251.8 795,251.8 795.2,251.8 795.4,251.8 795.6,251.8 795.8,251.8 796,251.8 796.2,251.8 796.4,251.8 796.6,251.8 796.8,251.8 797,251.8 797.2,251.8 797.4,251.8 797.6,251.8 797.8,251.8 798,251.8 798.2,251.8 798.4,251.8 798.6,251.8 798.8,251.8 799,251.8 799.2,251.8 799.4,251.8 799.6,251.8 799.8,251.8 800,251.8 800.2,251.8 800.4,251.8 800.6,251.8 800.8,251.8 801,251.8 801.2,251.8 801.4,251.8 801.6,251.8 801.8,251.8 802,251.8 802.2,251.8 802.4,251.8 802.6,251.8 802.8,251.8 803,251.8 803.2,251.8 803.4,251.8 803.6,251.8 803.8,251.8 804,251.8 804.2,251.8 804.4,251.8 804.6,251.8 804.8,251.8 805,251.8 805.2,251.8 805.4,251.8 805.6,251.8 805.8,251.8 806,251.8 806.2,251.8 806.4,251.8 806.6,251.8 806.8,251.8 807,251.8 807.2,251.8 807.4,251.8 807.6,251.8 807.8,251.8 808,251.8 808.2,251.8 808.4,251.8 808.6,251.8 808.8,251.8 809,251.8 809.2,251.8 809.4,251.8 809.6,251.8 809.8,251.8 810,251.8 810.2,251.8 810.4,251.8 810.6,251.8 810.8,251.8 811,251.8 811.2,251.8 811.4,251.8 811.6,251.8 811.8,251.8 812,251.8 812.2,251.8 812.4,251.8 812.6,251.8 812.8,251.8 813,251.8 813.2,251.8 813.4,251.8 813.6,251.8 813.8,251.8 814,251.8 814.2,251.8 814.4,251.8 814.6,251.8 814.8,251.8 815,251.8 815.2,251.8 815.4,251.8 815.6,251.8 815.8,251.8 816,251.8 816.2,251.8 816.4,251.8 816.6,251.8 816.8,251.8 817,251.8 817.2,251.8 817.4,251.8 817.6,251.8 817.8,251.8 818,247.1 818.2,242.4 818.4,237.7 818.6,233.1 818.8,228.4 819,223.7 819.2,219 819.4,223.8 819.6,227.9 819.8,231.5 820,234.5 820.2,237.2 820.4,239.5 820.6,241.5 820.8,243.3 821,244.8 821.2,246.1 821.4,247.2 821.6,248.2 821.8,249 822,249.7 822.2,250.4 822.4,250.9 822.6,251.4 822.8,251.8 823,251.8 823.2,251.8 823.4,251.8 823.6,251.8 823.8,251.8 824,251.8 824.2,251.8 824.4,251.8 824.6,251.8 824.8,251.8 825,251.8 825.2,251.8 825.4,251.8 825.6,251.8 825.8,251.8 826,251.8 826.2,251.8 826.4,251.8 826.6,251.8 826.8,251.8 827,251.8 827.2,251.8 827.4,251.8 827.6,251.8 827.8,251.8 828,251.8 828.2,251.8 828.4,251.8 828.6,251.8 828.8,251.8 829,251.8 829.2,251.8 829.4,251.8 829.6,251.8 829.8,251.8 830,251.8 830.2,251.8 830.4,251.8 830.6,251.8 830.8,251.8 831,251.8 831.2,251.8 831.4,251.8 831.6,251.8 831.8,251.8 832,251.8 832.2,251.8 832.4,251.8 832.6,251.8 832.8,251.8 833,251.8 833.2,251.8 833.4,251.8 833.6,251.8 833.8,251.8 834,251.8 834.2,251.8 834.4,251.8 834.6,251.8 834.8,251.8 835,251.8 835.2,251.8 835.4,251.8 835.6,251.8 835.8,251.8 836,251.8 836.2,251.8 836.4,251.8 836.6,251.8 836.8,251.8 837,251.8 837.2,251.8 837.4,251.8 837.6,251.8 837.8,251.8 838,251.8 838.2,251.8 838.4,251.8 838.6,251.8 838.8,251.8 839,251.8 839.2,251.8 839.4,251.8 839.6,251.8 839.8,251.8 840,251.8 840.2,251.8 840.4,251.8 840.6,251.8 840.8,251.8 841,251.8 841.2,251.8 841.4,251.8 841.6,251.8 841.8,251.8 842,251.8 842.2,251.8 842.4,251.8 842.6,251.8 842.8,251.8 843,251.8 843.2,251.8 843.4,251.8 843.6,251.8 843.8,251.8 844,251.8 844.2,251.8 844.4,251.8 844.6,251.8 844.8,251.8 845,251.8 845.2,251.8 845.4,251.8 845.6,251.8 845.8,251.8 846,251.8 846.2,251.8 846.4,251.8 846.6,251.8 846.8,251.8 847,251.8 847.2,251.8 847.4,251.8 847.6,251.8 847.8,251.8 848,251.8 848.2,251.8 848.4,251.8 848.6,251.8 848.8,251.8 849,251.8 849.2,251.8 849.4,251.8 849.6,251.8 849.8,251.8 850,251.8 850.2,251.8 850.4,251.8 850.6,251.8 850.8,251.8 851,251.8 851.2,251.8 851.4,251.8 851.6,251.8 851.8,251.8 852,251.8 852.2,251.8 852.4,251.8 852.6,251.8 852.8,251.8 853,251.8 853.2,251.8 853.4,251.8 853.6,251.8 853.8,251.8 854,251.8 854.2,251.8 854.4,251.8 854.6,251.8 854.8,251.8 855,251.8 855.2,251.8 855.4,251.8 855.6,251.8 855.8,251.8 856,251.8 856.2,251.8 856.4,251.8 856.6,251.8 856.8,251.8 857,251.8 857.2,251.8 857.4,251.8 857.6,251.8 857.8,251.8 858,251.8 858.2,251.8 858.4,251.8 858.6,251.8 858.8,251.8 859,251.8 859.2,251.8 859.4,251.8 859.6,251.8 859.8,251.8 860,251.8 860.2,251.8 860.4,251.8 860.6,251.8 860.8,251.8 861,251.8 861.2,251.8 861.4,249.3 861.6,244.4 861.8,239.5 862,234.6 862.2,229.7 862.4,224.8 862.6,219.9 862.8,215 863,219.3 863.2,223.2 863.4,226.6 863.6,229.7 863.8,232.4 864,234.9 864.2,237 864.4,239 864.6,240.7 864.8,242.2 865,243.6 865.2,244.8 865.4,245.9 865.6,246.9 865.8,247.7 866,248.5 866.2,249.2 866.4,249.8 866.6,250.3 866.8,250.8 867,251.2 867.2,251.6 867.4,251.8 867.6,251.8 867.8,251.8 868,251.8 868.2,251.8 868.4,251.8 868.6,251.8 868.8,251.8 869,251.8 869.2,251.8 869.4,251.8 869.6,251.8 869.8,251.8 870,251.8 870.2,251.8 870.4,251.8 870.6,251.8 870.8,251.8 871,251.8 871.2,251.8 871.4,251.8 871.6,251.8 871.8,251.8 872,251.8 872.2,251.8 872.4,251.8 872.6,251.8 872.8,251.8 873,251.8 873.2,251.8 873.4,251.8 873.6,251.8 873.8,251.8 874,251.8 874.2,251.8 874.4,251.8 874.6,251.8 874.8,251.8 875,251.8 875.2,251.9 875.4,252 875.6,252.1 875.8,252.2 876,252.3 876.2,252.4 876.4,252.5 876.6,252.6 876.8,252.7 877,252.8 877.2,252.9 877.4,253 877.6,253.1 877.8,253.2 878,253.3 878.2,253.4 878.4,253.5 878.6,253.6 878.8,253.7 879,253.8 879.2,253.9 879.4,254 879.6,254.1 879.8,254.2 880,254.3 880.2,254.4 880.4,254.5 880.6,254.6 880.8,254.7 881,254.8 881.2,251.3 881.4,247.8 881.6,244.2 881.8,240.6 882,237 882.2,241.2 882.4,244.5 882.6,247.2 882.8,249.4 883,251.1 883.2,252.5 883.4,253.6 883.6,254.5 883.8,255.3 884,255.9 884.2,256.4 884.4,256.5 884.6,256.6 884.8,256.7 885,256.8 885.2,256.8 885.4,256.8 885.6,256.8 885.8,256.8 886,256.8 886.2,256.8 886.4,256.8 886.6,256.8 886.8,256.8 887,256.8 887.2,256.8 887.4,256.8 887.6,256.8 887.8,256.8 888,256.8 888.2,256.8 888.4,256.8 888.6,256.8 888.8,256.8 889,256.8 889.2,256.8 889.4,256.8 889.6,256.8 889.8,256.8 890,255.6 890.2,253.3 890.4,250.9 890.6,248.5 890.8,246.2 891,246.4 891.2,248.8 891.4,250.7 891.6,252.2 891.8,253.3 892,254.3 892.2,255 892.4,255.6 892.6,256 892.8,256.4 893,256.7 893.2,256.8 893.4,256.8 893.6,256.8 893.8,256.8 894,256.8 894.2,256.8 894.4,256.8 894.6,256.8 894.8,256.8 895,256.8 895.2,256.8 895.4,256.8 895.6,256.8 895.8,251.4 896,246 896.2,240.6 896.4,235.3 896.6,229.9 896.8,224.5 897,230.1 897.2,234.7 897.4,238.6 897.6,241.9 897.8,244.7 898,247.1 898.2,249 898.4,250.7 898.6,252.1 898.8,253.2 899,254.2 899.2,255 899.4,255.7 899.6,256.3 899.8,256.8 900,256.8 900.2,256.8 900.4,256.8 900.6,256.8 900.8,256.8 901,256.8 901.2,256.8 901.4,256.8 901.6,256.8 901.8,256.8 902,256.8 902.2,256.8 902.4,256.8 902.6,256.8 902.8,256.8 903,256.8 903.2,256.8 903.4,256.8 903.6,256.8 903.8,256.8 904,256.8 904.2,256.8 904.4,256.8 904.6,256.8 904.8,256.8 905,256.8 905.2,256.8 905.4,256.8 905.6,256.8 905.8,256.8 906,256.8 906.2,256.8 906.4,256.8 906.6,256.8 906.8,256.8 907,256.8 907.2,256.8 907.4,256.8 907.6,256.8 907.8,256.8 908,256.8 908.2,256.8 908.4,256.8 908.6,256.8 908.8,256.8 909,256.8 909.2,256.8 909.4,256.8 909.6,256.8 909.8,256.8 910,256.8 910.2,256.8 910.4,256.8 910.6,256.8 910.8,256.8 911,256.8 911.2,256.8 911.4,256.8 911.6,256.8 911.8,256.8 912,256.8 912.2,256.8 912.4,256.8 912.6,256.8 912.8,256.8 913,254.5 913.2,249.8 913.4,245.1 913.6,240.4 913.8,235.7 914,231 914.2,236.1 914.4,240.2 914.6,243.6 914.8,246.3 915,248.6 915.2,250.5 915.4,252 915.6,253.2 915.8,254.3 916,255.1 916.2,255.8 916.4,256.3 916.6,256.8 916.8,256.8 917,256.8 917.2,256.8 917.4,256.8 917.6,256.8 917.8,256.8 918,256.8 918.2,256.8 918.4,256.8 918.6,256.8 918.8,256.8 919,256.8 919.2,256.8 919.4,256.8 919.6,256.8 919.8,256.8 920,256.8 920.2,256.8 920.4,256.8 920.6,256.8 920.8,256.8 921,256.8 921.2,256.8 921.4,256.8 921.6,256.8 921.8,256.8 922,256.8 922.2,256.8 922.4,256.8 922.6,256.8 922.8,256.8 923,256.8 923.2,256.8 923.4,256.8 923.6,256.8 923.8,256.8 924,256.8 924.2,256.8 924.4,256.8 924.6,256.8 924.8,256.8 925,256.8 925.2,256.8 925.4,256.8 925.6,256.8 925.8,256.8 926,256.8 926.2,256.8 926.4,256.8 926.6,256.8 926.8,256.8 927,256.8 927.2,256.8 927.4,256.8 927.6,256.8 927.8,256.8 928,256.8 928.2,256.8 928.4,256.8 928.6,256.8 928.8,256.8 929,256.8 929.2,256.8 929.4,256.8 929.6,256.8 929.8,256.8 930,256.8 930.2,256.8 930.4,256.8 930.6,256.8 930.8,256.8 931,256.8 931.2,256.8 931.4,256.8 931.6,256.8 931.8,256.8 932,256.8" fill="none" stroke="#6cbb45" stroke-width="2.5" stroke-linejoin="round"/>
<polyline points="643,246.4 643.9,256.7 644.7,248.2 645.6,255.7 646.4,248.6 647.3,255.7 648.1,248.4 649,255.2 649.8,248 650.7,256.9 651.5,248.7 652.4,256.1 653.2,249 654.1,255.5 654.9,248.2 655.8,256 656.6,247.2 657.5,255.8 658.3,248.2 659.2,256.2 660,248.7 660.9,255.1 661.7,247.6 662.6,255.4 663.4,247.6 664.3,256.3 665.1,247.3 666,255.1 666.8,247.8 667.7,256.1 668.5,247.5 669.4,255.6 670.2,246.8 671.1,256.2 671.9,248.3 672.8,255.5 673.6,246.8 674.5,255.1 675.3,246.1 676.2,255.3 677,248.8 677.9,254.5 678.7,247.1 679.6,255.7 680.4,248.2 681.3,255.5 682.1,248.5 683,256.4 683.8,247.4 684.7,257 685.5,245.9 686.4,255.6 687.2,246.8 688.1,245.1 688.9,220.9 689.8,221.9 690.6,226.2 691.5,236.7 692.3,237.7 693.2,246.8 694,243.9 694.9,253.3 695.7,245.7 696.6,255.7 697.4,248 698.3,258.5 699.1,245.9 700,256.8 700.8,245.9 701.7,256.8 702.5,248.2 703.4,254.5 704.2,249 705.1,255.7 705.9,248.5 706.8,255.8 707.6,247 708.5,255.2 709.3,248.1 710.2,255.1 711,247.6 711.9,255.5 712.7,248.3 713.6,256.4 714.4,248.3 715.3,256.2 716.1,247.7 717,254.8 717.8,247.4 718.7,256.4 719.5,246.8 720.4,250.2 721.2,228 722.1,227.3 722.9,235.3 723.8,245.8 724.6,246.5 725.5,255.2 726.3,248.8 727.2,254.2 728,248.6 728.9,256.4 729.7,247 730.6,254.4 731.4,247.6 732.3,256 733.1,247.2 734,255.3 734.8,247.3 735.7,256.4 736.5,246.3 737.4,255.7 738.2,245.6 739.1,256.5 739.9,246.9 740.8,257.7 741.6,246.8 742.5,255.3 743.3,247.3 744.2,255.4 745,246.2 745.9,257.8 746.7,244.5 747.6,248.3 748.4,245.1 749.3,256.6 750.1,246.5 751,258.9 751.8,247.8 752.7,258.5 753.5,247.7 754.4,256.1 755.2,247.4 756.1,257.5 756.9,247.5 757.8,255.5 758.6,246.8 759.5,255.4 760.3,248 761.2,255.2 762,247.9 762.9,255.9 763.7,248.1 764.6,254.9 765.4,248.8 766.3,254.8 767.1,247.2 768,255.5 768.8,248 769.7,231.4 770.5,216.7 771.4,232.8 772.2,238.3 773.1,246.1 773.9,247.2 774.8,255.1 775.6,248.9 776.5,254.6 777.3,248.3 778.2,255.9 779,247.3 779.9,254.7 780.7,249 781.6,255.2 782.4,247.7 783.3,256.3 784.1,248.6 785,255.7 785.8,248.6 786.7,256.1 787.5,247.4 788.4,254.7 789.2,246.5 790.1,254.9 790.9,247.6 791.8,257.6 792.6,247 793.5,255.7 794.3,248.4 795.2,254.9 796,247.2 796.9,254.7 797.7,248.6 798.6,255.3 799.4,249.1 800.3,255 801.1,247.9 802,255.6 802.8,247.9 803.7,255.5 804.5,248.4 805.4,254.8 806.2,247.1 807.1,255.6 807.9,247.8 808.8,256.9 809.6,247.3 810.5,256.7 811.3,247.1 812.2,256.2 813,248 813.9,257.5 814.7,245.5 815.6,258.3 816.4,246.1 817.3,258.4 818.1,242.6 819,227 819.8,229.4 820.7,244 821.5,245.4 822.4,254.7 823.2,247.1 824.1,257.6 824.9,246.4 825.8,256.5 826.6,248.3 827.5,255.9 828.3,247.1 829.2,256.3 830,247.7 830.9,256.9 831.7,246.7 832.6,255.5 833.4,247.4 834.3,256.6 835.1,247.9 836,256.1 836.8,246.6 837.7,254.7 838.5,247.6 839.4,255 840.2,246.9 841.1,257 841.9,247.7 842.8,254.5 843.6,248 844.5,255.5 845.3,248 846.2,255.5 847,247.4 847.9,256.6 848.7,248.2 849.6,255.2 850.4,247.5 851.3,254.6 852.1,248.1 853,255 853.8,247.9 854.7,254.4 855.5,247.5 856.4,255 857.2,249.3 858.1,255 858.9,248 859.8,254.7 860.6,248.5 861.5,249.4 862.3,225.8 863.2,223.7 864,233.7 864.9,243.9 865.7,245.3 866.6,256.3 867.4,246.5 868.3,255.9 869.1,245.4 870,256.9 870.8,247 871.7,256.4 872.5,245.5 873.4,258.6 874.2,245.5 875.1,257 875.9,247 876.8,257.2 877.6,246.8 878.5,258.5 879.3,248.3 880.2,261 881,248.7 881.9,241.7 882.7,246.4 883.6,259.8 884.4,252.6 885.3,262.8 886.1,252.4 887,261.9 887.8,253.5 888.7,260 889.5,253.4 890.4,253 891.2,247.3 892.1,257.5 892.9,251.4 893.8,260.4 894.6,253.3 895.5,260.6 896.3,236.4 897.2,235.3 898,245.1 898.9,255.5 899.7,251.7 900.6,262.8 901.4,250.3 902.3,260.9 903.1,250.4 904,264 904.8,250.4 905.7,261.4 906.5,249.9 907.4,262.9 908.2,252.6 909.1,260.9 909.9,250.1 910.8,263 911.6,252.5 912.5,261 913.3,245.8 914.2,236.6 915,246 915.9,259.8 916.7,252.2 917.6,263.7 918.4,251 919.3,260.3 920.1,252 921,261.1 921.8,252.1 922.7,261.2 923.5,251.3 924.4,261.5 925.2,252.4 926.1,260 926.9,253 927.8,260.2 928.6,253 929.5,260.1 930.3,252.7 931.2,260.3 932,253.8" fill="none" stroke="#6cbb45" stroke-width="1.3" stroke-linejoin="round"/>
<text x="661.2" y="120.3" font-size="16.8" fill="#e3212d" text-anchor="start">IgG</text>
<text x="661.8" y="208" font-size="17.5" fill="#1c7a45" text-anchor="start"><tspan font-family='&quot;Liberation Serif&quot;, &quot;DejaVu Serif&quot;, serif' font-size="20.3">α</tspan>CSF1R</text>
<rect x="643" y="88.8" width="289.2" height="235.7" fill="none" stroke="#111" stroke-width="1.6" stroke-dasharray="3.4 2.8"/>
<path d="M643,179.6 L464.3,179.6 L464.3,495.4" fill="none" stroke="#111" stroke-width="1.6" stroke-dasharray="3.4 2.8"/>
<line x1="627.2" y1="340" x2="627.2" y2="281.5" stroke="#111" stroke-width="1.9"/>
<polygon points="627.2,255.5 631.7,282.5 622.7,282.5" fill="#111"/>
<line x1="626.3" y1="339.2" x2="682.7" y2="339.2" stroke="#111" stroke-width="1.9"/>
<polygon points="708.7,339.2 681.7,343.7 681.7,334.7" fill="#111"/>
<text x="632.6" y="224.5" font-size="20.5" fill="#111" text-anchor="middle" transform="rotate(-90 632.6 224.5)">Force</text>
<text x="718.4" y="346" font-size="20.5" fill="#111" text-anchor="start">Recording time</text>
</g>
<g id="panelB">
<text x="30" y="375.2" font-size="35" fill="#111" text-anchor="start">B</text>
<line x1="57.4" y1="383.5" x2="998.6" y2="383.5" stroke="#f6d986" stroke-width="1.5"/>
<line x1="57.4" y1="400.4" x2="998.6" y2="400.4" stroke="#f6d986" stroke-width="1.5"/>
<line x1="57.4" y1="417.3" x2="998.6" y2="417.3" stroke="#f6d986" stroke-width="1.5"/>
<line x1="57.4" y1="434.2" x2="998.6" y2="434.2" stroke="#f6d986" stroke-width="1.5"/>
<line x1="57.4" y1="451.1" x2="998.6" y2="451.1" stroke="#f6d986" stroke-width="1.5"/>
<line x1="57.4" y1="468" x2="998.6" y2="468" stroke="#f6d986" stroke-width="1.5"/>
<line x1="57.4" y1="484.9" x2="998.6" y2="484.9" stroke="#f6d986" stroke-width="1.5"/>
<line x1="57.4" y1="501.8" x2="998.6" y2="501.8" stroke="#f6d986" stroke-width="1.5"/>
<line x1="57.4" y1="540.2" x2="998.6" y2="540.2" stroke="#f6d986" stroke-width="1.5"/>
<line x1="57.4" y1="558.5" x2="998.6" y2="558.5" stroke="#f6d986" stroke-width="1.5"/>
<line x1="57.4" y1="576.7" x2="998.6" y2="576.7" stroke="#f6d986" stroke-width="1.5"/>
<line x1="57.4" y1="595" x2="998.6" y2="595" stroke="#f6d986" stroke-width="1.5"/>
<line x1="57.4" y1="613.3" x2="998.6" y2="613.3" stroke="#f6d986" stroke-width="1.5"/>
<line x1="57.4" y1="631.6" x2="998.6" y2="631.6" stroke="#f6d986" stroke-width="1.5"/>
<line x1="57.4" y1="649.8" x2="998.6" y2="649.8" stroke="#f6d986" stroke-width="1.5"/>
<line x1="57.4" y1="668.1" x2="998.6" y2="668.1" stroke="#f6d986" stroke-width="1.5"/>
<line x1="57.4" y1="686.4" x2="998.6" y2="686.4" stroke="#f6d986" stroke-width="1.5"/>
<line x1="57.4" y1="518.5" x2="998.6" y2="518.5" stroke="#f6d986" stroke-width="1.5"/>
<line x1="57.4" y1="704.1" x2="998.6" y2="704.1" stroke="#f6d986" stroke-width="1.5"/>
<line x1="77.7" y1="381.3" x2="77.7" y2="709" stroke="#f6d986" stroke-width="1.6"/>
<line x1="108.5" y1="381.3" x2="108.5" y2="709" stroke="#f6d986" stroke-width="1.6"/>
<line x1="139.4" y1="381.3" x2="139.4" y2="709" stroke="#f6d986" stroke-width="1.6"/>
<line x1="170.2" y1="381.3" x2="170.2" y2="709" stroke="#f6d986" stroke-width="1.6"/>
<line x1="201.1" y1="381.3" x2="201.1" y2="709" stroke="#f6d986" stroke-width="1.6"/>
<line x1="231.9" y1="381.3" x2="231.9" y2="709" stroke="#f6d986" stroke-width="1.6"/>
<line x1="262.7" y1="381.3" x2="262.7" y2="709" stroke="#f6d986" stroke-width="1.6"/>
<line x1="293.6" y1="381.3" x2="293.6" y2="709" stroke="#f6d986" stroke-width="1.6"/>
<line x1="324.4" y1="381.3" x2="324.4" y2="709" stroke="#f6d986" stroke-width="1.6"/>
<line x1="355.3" y1="381.3" x2="355.3" y2="709" stroke="#f6d986" stroke-width="1.6"/>
<line x1="386.1" y1="381.3" x2="386.1" y2="709" stroke="#f6d986" stroke-width="1.6"/>
<line x1="416.9" y1="381.3" x2="416.9" y2="709" stroke="#f6d986" stroke-width="1.6"/>
<line x1="447.8" y1="381.3" x2="447.8" y2="709" stroke="#f6d986" stroke-width="1.6"/>
<line x1="478.6" y1="381.3" x2="478.6" y2="709" stroke="#f6d986" stroke-width="1.6"/>
<line x1="509.5" y1="381.3" x2="509.5" y2="709" stroke="#f6d986" stroke-width="1.6"/>
<line x1="540.3" y1="381.3" x2="540.3" y2="709" stroke="#f6d986" stroke-width="1.6"/>
<line x1="571.1" y1="381.3" x2="571.1" y2="709" stroke="#f6d986" stroke-width="1.6"/>
<line x1="602" y1="381.3" x2="602" y2="709" stroke="#f6d986" stroke-width="1.6"/>
<line x1="632.8" y1="381.3" x2="632.8" y2="709" stroke="#f6d986" stroke-width="1.6"/>
<line x1="663.7" y1="381.3" x2="663.7" y2="709" stroke="#f6d986" stroke-width="1.6"/>
<line x1="694.5" y1="381.3" x2="694.5" y2="709" stroke="#f6d986" stroke-width="1.6"/>
<line x1="725.3" y1="381.3" x2="725.3" y2="709" stroke="#f6d986" stroke-width="1.6"/>
<line x1="756.2" y1="381.3" x2="756.2" y2="709" stroke="#f6d986" stroke-width="1.6"/>
<line x1="787" y1="381.3" x2="787" y2="709" stroke="#f6d986" stroke-width="1.6"/>
<line x1="817.9" y1="381.3" x2="817.9" y2="709" stroke="#f6d986" stroke-width="1.6"/>
<line x1="848.7" y1="381.3" x2="848.7" y2="709" stroke="#f6d986" stroke-width="1.6"/>
<line x1="879.5" y1="381.3" x2="879.5" y2="709" stroke="#f6d986" stroke-width="1.6"/>
<line x1="910.4" y1="381.3" x2="910.4" y2="709" stroke="#f6d986" stroke-width="1.6"/>
<line x1="941.2" y1="381.3" x2="941.2" y2="709" stroke="#f6d986" stroke-width="1.6"/>
<line x1="972.1" y1="381.3" x2="972.1" y2="709" stroke="#f6d986" stroke-width="1.6"/>
<line x1="196.1" y1="381.3" x2="196.1" y2="707.5" stroke="#b4b4b4" stroke-width="1.2"/>
<line x1="412.4" y1="381.3" x2="412.4" y2="707.5" stroke="#b4b4b4" stroke-width="1.2"/>
<line x1="726.2" y1="381.3" x2="726.2" y2="707.5" stroke="#b4b4b4" stroke-width="1.2"/>
<line x1="57.4" y1="519.4" x2="998.6" y2="519.4" stroke="#8e5a34" stroke-width="1.5"/>
<line x1="57.4" y1="705" x2="998.6" y2="705" stroke="#8e5a34" stroke-width="1.5"/>
<g transform="translate(0 0.8)">
<polyline points="57.7,514.6 58.1,514.7 58.6,514.9 59.1,514.6 59.5,514.6 60,514.7 60.4,514.4 60.9,514.7 61.3,514.8 61.8,514.9 62.2,514.4 62.7,514.5 63.1,514.4 63.6,514.9 64,514.8 64.5,514.4 64.9,515 65.4,515 65.8,514.8 66.3,514.8 66.7,514.5 67.2,514.4 67.6,514.7 68.1,514.4 68.5,514.5 69,514.6 69.4,514.4 69.9,514.7 70.3,514.7 70.8,515 71.2,514.8 71.7,514.9 72.1,514.8 72.6,514.9 73,514.7 73.5,514.6 73.9,515.1 74.4,515.1 74.8,515 75.3,514.9 75.7,514.6 76.2,514.6 76.6,514.6 77.1,514.5 77.5,515 78,514.7 78.4,515 78.9,514.7 79.3,515.1 79.8,515 80.2,514.4 80.7,514.6 81.1,515.1 81.6,514.8 82,515.1 82.5,514.7 82.9,514.5 83.4,514.9 83.8,515 84.3,514.6 84.7,514.5 85.2,514.7 85.6,515.1 86.1,515 86.5,514.5 87,514.6 87.4,514.5 87.9,514.5 88.3,515 88.8,514.6 89.2,514.8 89.7,514.8 90.1,514.6 90.6,515 91,514.5 91.5,514.9 91.9,514.5 92.4,514.7 92.8,514.6 93.3,514.6 93.7,515.1 94.2,515 94.6,514.7 95.1,515.1 95.5,514.6 96,514.7 96.4,515 96.9,514.9 97.3,514.5 97.8,515.1 98.2,514.6 98.7,514.6 99.1,515 99.6,514.7 100,514.7 100.5,514.5 100.9,514.5" fill="none" stroke="#f8060c" stroke-width="2.4" stroke-linejoin="round"/>
<polyline points="101.2,513.8 101.3,512.4 101.8,512.3 102.2,512.6 102.7,512.5 103.1,512.7 103.6,513.1 104,512.8 104.5,512.9 104.9,513.1 105.4,512.7 105.8,512.7 106.3,513.3 106.7,513.2 107.2,512.9 107.6,512.8 108.1,513.3 108.5,513.4 109,512.9 109.4,513.5 109.9,513.5 110.3,513.3 110.8,513.2 111.2,513 111.7,513 112.1,513.6 112.6,513.2 113,513.5 113.5,513.2 113.9,513.6 114.4,513.5 114.8,513.3 115.3,513.2 115.7,513.6 116.2,513.2 116.6,513.3 117.1,513.6 117.5,513.8 118,513.7 118.4,513.4 118.9,513.9 119.3,513.4 119.8,513.3 120.2,513.5 120.7,513.6 121.1,513.4 121.6,513.5 122,513.6 122.5,513.8 122.9,513.5 123.4,513.7 123.8,514.1 124.3,514.1 124.7,513.9 125.2,514 125.6,513.9 126.1,513.6 126.5,513.5 127,513.5 127.4,514.2 127.9,514 128.3,514.2 128.8,513.6 129.2,514 129.7,513.9 130.1,514.1 130.6,513.9 131,514.3 131.5,513.7 131.9,514 132.4,514.2 132.8,514.3 133.3,514.2 133.7,514.2 134.2,514.3 134.6,514.4 135,514 135.5,514.2 135.9,514.4 136.4,514.4 136.8,514.1 137.3,514.3 137.7,514.4 138.2,514.2 138.6,514.2 139.1,514.1 139.5,514.2 140,514.2 140.4,513.9 140.9,514.3 141.3,514.5 141.8,514.5 142.2,514.4 142.7,514.1 143.1,514.4 143.6,514.3 144,514.2 144.5,514.5 144.9,514 145.4,514.4 145.8,513.9 146.3,514.3 146.7,514.3 147.2,514.1 147.6,514.4 148.1,514.3 148.5,514.4 149,514.6" fill="none" stroke="#f8060c" stroke-width="2.4" stroke-linejoin="round"/>
<polyline points="149.5,512.8 149.6,511.3 150.1,511.3 150.5,511.7 150.9,512.1 151.4,511.8 151.8,511.9 152.3,512.5 152.7,512.4 153.2,512.2 153.6,512.6 154.1,512.2 154.5,512.5 155,512.2 155.4,512.4 155.9,512.7 156.3,512.8 156.8,512.8 157.2,512.5 157.7,512.6 158.1,512.5 158.6,512.4 159,512.6 159.5,512.9 159.9,512.9 160.4,512.8 160.8,513 161.3,512.6 161.7,512.5 162.2,512.7 162.6,512.6 163.1,512.6 163.5,512.8 164,512.9 164.4,512.8 164.9,512.7 165.3,513.1 165.8,513.2 166.2,512.9 166.7,512.6 167.1,512.6 167.6,513.2 168,512.6 168.5,513.1 168.9,513 169.4,512.9 169.8,513.2 170.3,512.7 170.7,512.8 171.2,513 171.6,512.7 172.1,513.3 172.5,512.9 173,512.9 173.4,512.8 173.9,513.2 174.3,513.1 174.8,513.2 175.2,513.3 175.7,513.4 176.1,513.5 176.6,513.3 177,513 177.5,513.2 177.9,513 178.4,512.9 178.8,513.2 179.3,513.4 179.7,513 180.2,513.1 180.6,513.2 181.1,513.4 181.5,513.3 182,513.4 182.4,513.5 182.9,513.2 183.3,513.5 183.8,513.6 184.2,513.1 184.7,513.6 185.1,513.5 185.6,513.1 186,513.3 186.5,513.5 186.9,513.7 187.4,513.3 187.8,513.4 188.3,513.7 188.7,513.6 189.2,513.7 189.6,513.4 190.1,513.5 190.5,513.2 191,513.6 191.4,513.7 191.9,513.5 192.3,513.6 192.8,513.3 193.2,513.7 193.7,513.8 194.1,513.8 194.6,513.5 195,513.7 195.5,513.4 195.9,513.8 196.4,513.7" fill="none" stroke="#f8060c" stroke-width="2.4" stroke-linejoin="round"/>
<polyline points="196.6,513.7 197.1,512 197.6,511.9 198,512.3 198.4,512.5 198.9,512.8 199.3,512.7 199.8,512.5 200.2,513.1 200.7,512.7 201.1,513.3 201.6,512.9 202,513.1 202.5,513.4 202.9,513.1 203.4,513.1 203.8,513.4 204.3,513.6 204.7,513.7 205.2,513.7 205.6,513.9 206.1,513.6 206.5,513.9 207,513.4 207.4,513.5 207.9,513.7 208.3,513.6 208.8,513.9 209.2,513.9 209.7,513.8 210.1,514.1 210.6,513.9 211,513.7 211.5,513.8 211.9,514.1 212.4,514.2 212.8,513.7 213.3,514.1 213.7,514.2 214.2,513.9 214.6,514 215.1,513.7 215.5,514 216,514 216.4,514 216.9,513.6 217.3,514.3 217.8,514 218.2,513.9 218.7,514.2 219.1,514 219.6,514 220,514.1 220.5,513.7 220.9,514 221.4,513.9" fill="none" stroke="#f8060c" stroke-width="2.4" stroke-linejoin="round"/>
<polyline points="222,511.1 222.1,510.1 222.6,510.4 223,510.2 223.4,510.5 223.9,510.4 224.3,510.7 224.8,511 225.2,511.2 225.7,511 226.1,510.9 226.6,510.9 227,511.2 227.5,511.5 227.9,511 228.4,511.5 228.8,511 229.3,511.2 229.7,511.2 230.2,511.6 230.6,511.4 231.1,511.4 231.5,511.7 232,511.3 232.4,511.8 232.9,511.4 233.3,511.7 233.8,511.6 234.2,511.6 234.7,511.9 235.1,511.8 235.6,511.8 236,511.9 236.5,512 236.9,511.8 237.4,511.8 237.8,512.1 238.3,512.2 238.7,512.1 239.2,512.4 239.6,512.2 240.1,512.4 240.5,512 241,512.4 241.4,512.5 241.9,512.6 242.3,512.2 242.8,512.2 243.2,512.7 243.7,512.2 244.1,512.8 244.6,512.7 245,512.2 245.5,512.3 245.9,512.7 246.4,512.3 246.8,512.3 247.3,512.8 247.7,512.5 248.2,512.8 248.6,512.3 249.1,512.6 249.5,512.8 250,512.3 250.4,512.5 250.9,512.8 251.3,513 251.8,513.1 252.2,512.5 252.7,512.8 253.1,513 253.6,512.8 254,512.9 254.5,512.6 254.9,512.5 255.4,512.6 255.8,512.5 256.3,512.9 256.7,512.9 257.2,513 257.6,512.7 258.1,512.7 258.5,512.7 259,513.2 259.4,513.3 259.9,513.3 260.3,512.7 260.8,512.7 261.2,513.3 261.7,513 262.1,513.2 262.6,512.9 263,513 263.5,513.1 263.9,513 264.4,513.2 264.8,512.8 265.3,513.3 265.7,513.4 266.2,512.9 266.6,513.1 267.1,513.3 267.5,513.1 268,513 268.4,512.9 268.9,513.2 269.3,512.9" fill="none" stroke="#f8060c" stroke-width="2.4" stroke-linejoin="round"/>
<polyline points="269.6,508 269.7,507.2 270.1,507.5 270.6,507.8 271,508.2 271.5,508.2 271.9,508.2 272.4,508.5 272.8,508.6 273.3,509 273.7,509 274.2,508.7 274.6,509.2 275.1,509.2 275.5,509.2 276,509.3 276.4,509.1 276.9,509.5 277.3,509.5 277.8,509.5 278.2,509.6 278.7,509.6 279.1,509.4 279.6,509.7 280,509.3 280.5,509.5 280.9,509.6 281.4,509.4 281.8,509.7 282.3,509.9 282.7,509.9 283.2,509.7 283.6,510.2 284.1,510.1 284.5,509.9 285,510.2 285.4,510.1 285.9,510.1 286.3,510.1 286.8,510.5 287.2,510.3 287.7,510.4 288.1,510.5 288.6,510.7 289,510 289.5,510.5 289.9,510.6 290.4,510.3 290.8,510.4 291.3,510.2 291.7,510.3 292.2,510.5 292.6,510.3 293.1,510.5 293.5,510.9 294,510.7 294.4,510.7 294.9,511.1 295.3,510.8 295.8,511.1 296.2,510.9 296.7,511.1 297.1,510.6 297.6,511 298,511.1 298.5,510.6 298.9,511.3 299.4,510.7 299.8,511 300.3,510.8 300.7,511 301.2,511.1 301.6,510.8 302.1,511.4 302.5,511.1 303,511.2 303.4,511.2 303.9,511.1 304.3,511 304.8,511.3 305.2,511.3 305.7,511.1 306.1,511.4 306.6,511.1 307,511 307.5,511.1 307.9,511 308.4,511.1 308.8,511.5 309.3,511.3 309.7,511.7 310.2,511.6 310.6,511.1 311.1,511.8 311.5,511.8 312,511.2 312.4,511.7 312.9,511.4 313.3,511.5 313.8,511.8 314.2,511.3 314.7,511.5 315.1,511.8 315.6,511.7 316,511.5 316.5,511.9 316.9,511.8 317.4,511.7" fill="none" stroke="#f8060c" stroke-width="2.4" stroke-linejoin="round"/>
<polyline points="317.9,506.7 318,505.3 318.4,506.1 318.9,506.3 319.3,506.4 319.8,506.5 320.2,507 320.7,506.9 321.1,507.2 321.6,507.5 322,507.4 322.5,507.4 322.9,507.7 323.4,507.7 323.8,508 324.3,507.9 324.7,508.3 325.2,508.3 325.6,508.2 326.1,508 326.5,507.9 327,508.5 327.4,508.5 327.9,508.5 328.3,508.3 328.8,508.3 329.2,508.7 329.7,508.6 330.1,508.7 330.6,508.8 331,508.9 331.5,508.6 331.9,508.7 332.4,509.2 332.8,509.2 333.3,509.2 333.7,508.7 334.2,508.8 334.6,509 335.1,509.1 335.5,509.3 336,509 336.4,509.3 336.9,509 337.3,509.1 337.8,509.5 338.2,509.5 338.7,509.6 339.1,509.4 339.6,509.5 340,509.4 340.5,509.5 340.9,509.8 341.4,509.9 341.8,509.4 342.3,509.5 342.7,510 343.2,509.9 343.6,510 344.1,509.7 344.5,509.8 345,509.8 345.4,510.2 345.9,509.9 346.3,510.1 346.8,510.4 347.2,509.9 347.7,510.1 348.1,510.3 348.6,510.4 349,510.1 349.5,510.1 349.9,509.9 350.4,510.5 350.8,510 351.3,510 351.7,510.3 352.2,510.3 352.6,510.5 353.1,510.2 353.5,510.6 354,510.1 354.4,510.2 354.9,510.6 355.3,510.2 355.8,510.3 356.2,510.7 356.7,510.6 357.1,510.4 357.6,510.3 358,510.5 358.5,510.7 358.9,510.5 359.4,510.3 359.8,510.8 360.3,510.7 360.7,511 361.2,511 361.6,511 362.1,510.7 362.5,510.9 363,510.6 363.4,510.6 363.9,510.7 364.3,511.1 364.8,511.1 365.2,510.6" fill="none" stroke="#f8060c" stroke-width="2.4" stroke-linejoin="round"/>
<polyline points="365.5,502.5 365.6,501.9 366.1,503.1 366.5,503.9 366.9,504.6 367.4,505 367.8,505.3 368.3,505.8 368.7,506.2 369.2,506.2 369.6,506.6 370.1,506.5 370.5,506.3 371,506.8 371.4,507 371.9,506.6 372.3,506.5 372.8,506.9 373.2,507 373.7,507.1 374.1,507.4 374.6,507.2 375,507.4 375.5,506.9 375.9,507.3 376.4,507.5 376.8,507.1 377.3,507.1 377.7,507.6 378.2,507.8 378.6,507.3 379.1,507.7 379.5,507.4 380,507.8 380.4,507.8 380.9,507.6 381.3,507.6 381.8,508 382.2,507.9 382.7,508.1 383.1,507.9 383.6,507.9 384,508.3 384.5,508.2 384.9,508.1 385.4,508.1 385.8,508.3 386.3,508.3 386.7,508.5 387.2,508.2 387.6,508.5 388.1,508.4 388.5,508.6 389,508.6 389.4,508.6 389.9,508.7 390.3,508.7 390.8,508.6 391.2,508.5 391.7,508.7 392.1,508.7 392.6,508.5 393,508.5 393.5,508.4 393.9,508.8 394.4,509 394.8,508.6 395.3,508.5 395.7,508.5 396.2,508.7 396.6,508.6 397.1,509.1 397.5,508.5 398,508.7 398.4,508.6 398.9,509 399.3,509.1 399.8,508.7 400.2,508.6 400.7,508.9 401.1,509 401.6,509.2 402,508.6 402.5,508.7 402.9,508.8 403.4,508.8 403.8,508.9 404.3,509.2 404.7,509.1 405.2,508.9 405.6,508.9 406.1,509 406.5,508.9 407,509.3 407.4,509 407.9,509.2 408.3,509.4 408.8,509.2 409.2,509 409.7,509.5 410.1,509.5 410.6,509.1 411,509.3 411.5,509.6 411.9,509.3 412.4,509.1 412.8,509" fill="none" stroke="#f8060c" stroke-width="2.4" stroke-linejoin="round"/>
<polyline points="412.8,509 413.3,509.4 413.8,509.3 414.2,509.1 414.6,509.2 415.1,509.2 415.5,509.1 416,509.7 416.4,509.5 416.9,509.2 417.3,509.1 417.8,509.4 418.2,509.4 418.7,509.7 419.1,509.7 419.6,509.6 420,509.3 420.5,509.3 420.9,509.5 421.4,509.4 421.8,509.9 422.3,509.6 422.7,509.7 423.2,510 423.6,509.5 424.1,509.7 424.5,509.4 425,509.9 425.4,509.4 425.9,509.9 426.3,510 426.8,510 427.2,509.4 427.7,509.6 428.1,509.9 428.6,509.5 429,509.7 429.5,509.7 429.9,510.1 430.4,509.8 430.8,510 431.3,509.6 431.7,510 432.2,509.7 432.6,510.1 433.1,509.5 433.5,510 434,509.6 434.4,509.8 434.9,509.8 435.3,509.5 435.8,510 436.2,509.7 436.7,509.7 437.1,509.5 437.6,509.7 438,509.8 438.5,509.9 438.9,509.7 439.4,509.9 439.8,509.5 440.3,509.7" fill="none" stroke="#f8060c" stroke-width="2.4" stroke-linejoin="round"/>
<polyline points="440.5,500.8 440.6,500.3 441.1,501.9 441.5,502.7 441.9,503.3 442.4,503.4 442.8,504 443.3,504.5 443.7,504.4 444.2,504.8 444.6,504.9 445.1,504.7 445.5,505.5 446,505.4 446.4,505.1 446.9,505.4 447.3,505.3 447.8,505.4 448.2,505.5 448.7,505.4 449.1,505.5 449.6,505.6 450,505.8 450.5,505.6 450.9,505.6 451.4,506 451.8,505.7 452.3,506.2 452.7,506 453.2,506.1 453.6,505.9 454.1,506.3 454.5,505.8 455,505.9 455.4,505.9 455.9,506.3 456.3,506.4 456.8,506 457.2,506.2 457.7,506.5 458.1,506.4 458.6,506.1 459,506.2 459.5,506.2 459.9,506.2 460.4,506.4 460.8,506.2 461.3,506.8 461.7,506.5 462.2,506.6 462.6,506.7 463.1,506.8 463.5,506.9 464,506.6 464.4,506.6 464.9,506.7 465.3,506.4 465.8,506.7 466.2,506.9 466.7,507.2 467.1,507.1 467.6,507 468,507 468.5,506.6 468.9,506.8 469.4,506.8 469.8,507.1 470.3,506.7 470.7,506.9 471.2,507 471.6,507.2 472.1,507.3 472.5,507.2 473,506.9 473.4,507.3 473.9,507.4 474.3,507.2 474.8,507.1 475.2,507.2 475.7,506.9 476.1,507.4 476.6,507.6 477,507.2 477.5,507.4 477.9,507.5 478.4,507.1 478.8,507.6 479.3,507.4 479.7,507.1 480.2,507 480.6,507.2 481.1,507.4 481.5,507.5 482,507.3 482.4,507.7 482.9,507.3 483.3,507.4 483.8,507.2 484.2,507.8 484.7,507.2 485.1,507.7 485.6,507.5 486,507.5 486.5,507.5 486.9,507.3 487.4,507.8" fill="none" stroke="#f8060c" stroke-width="2.4" stroke-linejoin="round"/>
<polyline points="487.8,500.8 487.9,500.3 488.4,500.9 488.8,501.4 489.2,501.5 489.7,502.3 490.1,502.2 490.6,502.8 491,502.5 491.5,502.9 491.9,503.2 492.4,502.9 492.8,503.2 493.3,503 493.7,503 494.2,503.2 494.6,503.9 495.1,503.9 495.5,503.8 496,503.6 496.4,503.9 496.9,504 497.3,503.8 497.8,504 498.2,504.2 498.7,503.7 499.1,503.9 499.6,504.2 500,504 500.5,504.2 500.9,504.4 501.4,504.2 501.8,504.5 502.3,504.3 502.7,504.6 503.2,504.5 503.6,504.7 504.1,504.4 504.5,504.8 505,504.5 505.4,505.1 505.9,504.9 506.3,504.9 506.8,504.9 507.2,505.1 507.7,505.2 508.1,505.2 508.6,505.3 509,505.1 509.5,505.5 509.9,505.5 510.4,505.5 510.8,505.2 511.3,505.3 511.7,505.4 512.2,505.7 512.6,505.4 513.1,505.5 513.5,505.4 514,505.8 514.4,505.4 514.9,505.3 515.3,505.8 515.8,505.9 516.2,505.8 516.7,505.8 517.1,505.9 517.6,505.6 518.1,505.9 518.5,505.5 519,505.6 519.4,505.8 519.9,505.9 520.3,505.9 520.8,505.6 521.2,506.1 521.7,506 522.1,505.8 522.6,505.9 523,506 523.5,505.9 523.9,505.8 524.4,506.4 524.8,506.5 525.3,506.3 525.7,506.5 526.2,506.2 526.6,506.5 527.1,506.1 527.5,506.5 528,506.4 528.4,506.6 528.9,506.1 529.3,506.6 529.8,506.1 530.2,506.4 530.7,506.7 531.1,506.1 531.6,506.3 532,506.3 532.5,506.4 532.9,506.2 533.4,506.8 533.8,506.8 534.3,506.5 534.7,506.5 535.2,506.6" fill="none" stroke="#f8060c" stroke-width="2.4" stroke-linejoin="round"/>
<polyline points="535.8,494 535.9,493.6 536.4,495.3 536.8,497.1 537.3,497.6 537.7,498.5 538.2,499.3 538.6,499.7 539.1,499.7 539.5,499.8 540,500.1 540.4,500.7 540.9,500.8 541.3,500.4 541.8,501 542.2,500.8 542.7,501 543.1,500.8 543.6,501.4 544,501.6 544.5,501.1 544.9,501.5 545.4,501.3 545.8,501.8 546.3,501.3 546.7,501.4 547.2,501.9 547.6,501.7 548.1,502.2 548.5,502.2 549,502.2 549.4,501.8 549.9,502.3 550.3,502.5 550.8,502.3 551.2,502.1 551.7,502.2 552.1,502.3 552.6,502.7 553,502.4 553.5,502.4 553.9,502.5 554.4,502.9 554.8,503 555.3,502.8 555.7,503 556.2,503.2 556.6,503.1 557.1,502.9 557.5,503 558,503.5 558.4,503.3 558.9,503.1 559.3,503.4 559.8,503.1 560.2,503.7 560.7,503.4 561.1,503.5 561.6,503.6 562,503.3 562.5,503.7 562.9,503.5 563.4,503.5 563.8,503.9 564.3,503.5 564.7,503.7 565.2,504 565.6,503.7 566.1,503.8 566.5,504 567,503.8 567.4,504.3 567.9,504.4 568.3,503.8 568.8,504.1 569.2,504.3 569.7,504.1 570.1,504.5 570.6,504.3 571,504.1 571.5,504.4 571.9,504.5 572.4,504.3 572.8,504.5 573.3,504.7 573.7,504.5 574.2,504.5 574.6,504.8 575.1,504.7 575.5,504.6 576,504.9 576.4,504.4 576.9,504.9 577.3,504.5 577.8,504.8 578.2,504.6 578.7,504.7 579.1,505 579.6,505 580,505 580.5,504.7 580.9,504.9 581.4,504.7 581.8,505 582.3,505 582.7,504.7 583.2,505.1" fill="none" stroke="#f8060c" stroke-width="2.4" stroke-linejoin="round"/>
<polyline points="583.4,488.9 583.5,489.1 584,490.8 584.4,492.4 584.9,492.9 585.3,493.7 585.8,494.2 586.2,495 586.7,495.3 587.1,495.6 587.6,495.8 588,496.4 588.5,496 588.9,496.8 589.4,496.7 589.8,496.8 590.3,497.1 590.7,496.9 591.2,496.9 591.6,497.2 592.1,497.1 592.5,497.4 593,497.7 593.4,497.8 593.9,497.7 594.3,498 594.8,497.7 595.2,498.4 595.7,498 596.1,498.1 596.6,498.2 597,498.6 597.5,498.8 597.9,498.9 598.4,498.5 598.8,498.8 599.3,498.8 599.7,498.8 600.2,499.4 600.6,498.9 601.1,499.3 601.5,499.5 602,499.8 602.4,499.2 602.9,499.5 603.3,499.8 603.8,499.4 604.2,499.6 604.7,500.1 605.1,499.7 605.6,499.9 606,499.9 606.5,500.1 606.9,499.9 607.4,499.9 607.8,500.7 608.3,500.6 608.7,500.6 609.2,500.3 609.6,500.4 610.1,500.7 610.5,500.5 611,500.7 611.4,501.1 611.9,500.7 612.3,500.8 612.8,501.3 613.2,501.1 613.7,500.7 614.1,501 614.6,501.3 615,500.9 615.5,501.1 615.9,501.4 616.4,501.6 616.8,501.5 617.3,501.7 617.7,501.5 618.2,501.5 618.6,501.8 619.1,501.5 619.5,501.9 620,501.5 620.4,501.6 620.9,501.6 621.3,501.9 621.8,501.6 622.2,501.7 622.7,501.7 623.1,502 623.6,501.9 624,502 624.5,502.4 624.9,502.3 625.4,502.4 625.8,502 626.3,502.2 626.7,502 627.2,502.4 627.6,502.2 628.1,502.2 628.5,502.1 629,502.2 629.4,502.3 629.9,502.4 630.3,502.8 630.8,502.7 631.2,502.4" fill="none" stroke="#f8060c" stroke-width="2.4" stroke-linejoin="round"/>
<polyline points="631.7,481.5 631.8,482.1 632.2,484.4 632.7,486.9 633.2,487.9 633.6,489.2 634.1,490 634.5,490.8 635,490.6 635.4,491.2 635.9,491.6 636.3,491.7 636.8,492.5 637.2,492.3 637.7,492.8 638.1,492.8 638.6,492.7 639,493.1 639.5,493.1 639.9,493.1 640.4,493.3 640.8,493.8 641.3,493.5 641.7,493.9 642.2,494.1 642.6,494.3 643.1,494.1 643.5,494.6 644,494.4 644.4,494.9 644.9,495 645.3,494.7 645.8,494.9 646.2,495 646.7,495.4 647.1,495.3 647.6,495.4 648,495.9 648.5,495.5 648.9,495.7 649.4,495.8 649.8,495.8 650.3,495.8 650.7,495.9 651.2,496.4 651.6,496.4 652.1,496.7 652.5,496.9 653,496.5 653.4,496.9 653.9,497.1 654.3,496.7 654.8,497.1 655.2,497.2 655.7,497.5 656.1,497.5 656.6,497.2 657,497.5 657.5,497.2 657.9,497.5 658.4,497.6 658.8,497.4 659.3,497.7 659.7,497.8 660.2,497.9 660.6,497.9 661.1,497.9 661.5,498.1 662,498.2 662.4,498.1 662.9,498.5 663.3,498.2 663.8,498.2 664.2,498.4 664.7,498.6 665.1,498.4 665.6,498.8 666,498.9 666.5,498.9 666.9,499.1 667.4,498.6 667.8,499 668.3,499 668.7,498.8 669.2,499.1 669.6,498.9 670.1,499.3 670.5,499.4 671,499.4 671.4,499.3 671.9,499.3 672.3,499.2 672.8,499.5 673.2,499.9 673.7,499.7 674.1,499.6 674.6,499.9 675,499.6 675.5,499.9 675.9,500 676.4,500.3" fill="none" stroke="#f8060c" stroke-width="2.4" stroke-linejoin="round"/>
<polyline points="676.9,476.3 677,477 677.5,479.8 677.9,482 678.4,483.4 678.8,484.4 679.3,485.2 679.7,485.7 680.2,486.2 680.6,486.4 681.1,487.1 681.5,487.4 682,487.3 682.4,487.9 682.9,487.4 683.3,487.6 683.8,488 684.2,488 684.7,488.2 685.1,488.7 685.6,488.3 686,488.4 686.5,488.5 686.9,488.9 687.4,488.7 687.8,488.7 688.3,489.1 688.7,489.1 689.2,489.1 689.6,489.4 690.1,489.6 690.5,489.6 691,489.7 691.4,489.8 691.9,490.1 692.3,490.2 692.8,489.9 693.2,490 693.7,490.4 694.1,490.1 694.6,490.5 695,490.5 695.5,490.6 695.9,490.9 696.4,490.8 696.8,490.5 697.3,490.8 697.7,490.8 698.2,490.9 698.6,490.9 699.1,490.9 699.5,491.3 700,491.2 700.4,491.1 700.9,491.1 701.3,491.2 701.8,491.2 702.2,491.5 702.7,491.3 703.1,491.3 703.6,491.4 704,491.4 704.5,491.9 704.9,491.6 705.4,491.9 705.8,492.1 706.3,492 706.7,491.8 707.2,492.4 707.6,492.4 708.1,491.9 708.5,492.1 709,492.3 709.4,492.6 709.9,492.3 710.3,492.6 710.8,492.3 711.2,492.7 711.7,492.5 712.1,492.5 712.6,492.9 713,493 713.5,493 713.9,492.9 714.4,492.8 714.8,493 715.3,493 715.7,493.2 716.2,493.2 716.6,492.8 717.1,493 717.5,493.3 718,493 718.4,493 718.9,492.9 719.3,493.3 719.8,493.6 720.2,493.7 720.7,493.1 721.1,493.6 721.6,493.4 722,493.6 722.5,493.4 722.9,493.9 723.4,493.9 723.8,493.3 724.3,493.8 724.7,493.4 725.2,493.4 725.6,493.6 726.1,493.9 726.5,494.1" fill="none" stroke="#f8060c" stroke-width="2.4" stroke-linejoin="round"/>
<polyline points="726.4,494.1 726.9,496.2 727.4,496.5 727.8,496.4 728.3,496.8 728.7,496.9 729.2,496.9 729.6,496.9 730.1,497.3 730.5,497.4 731,497.1 731.4,497.2 731.9,497.4 732.3,497.6 732.8,497.8 733.2,497.4 733.7,497.7 734.1,497.6 734.6,497.8 735,497.4 735.5,497.4 735.9,497.4 736.4,498 736.8,497.5 737.3,497.7 737.7,497.5 738.2,497.7 738.6,497.5 739.1,497.9 739.5,497.6 740,497.9 740.4,497.7 740.9,497.7 741.3,497.9 741.8,497.8 742.2,497.7 742.7,497.6 743.1,497.6 743.6,498.2 744,497.8 744.5,497.6 744.9,497.7 745.4,497.9 745.8,498.3 746.3,497.7 746.7,498.2 747.2,498 747.6,497.9 748.1,498.2 748.5,497.9 749,497.7 749.4,498 749.9,498.1 750.3,498.1 750.8,497.8 751.2,498.3 751.7,498.2 752.1,498.3 752.6,498 753,498.2" fill="none" stroke="#f8060c" stroke-width="2.4" stroke-linejoin="round"/>
<polyline points="753.6,470.5 753.7,471.8 754.1,474.6 754.6,476.8 755.1,478.6 755.5,479.9 756,480.8 756.4,481.8 756.9,482.7 757.3,482.9 757.8,483.4 758.2,483.4 758.7,483.8 759.1,484.6 759.6,484.1 760,484.7 760.5,485.1 760.9,485.2 761.4,485.4 761.8,485.3 762.3,485.7 762.7,485.9 763.2,486 763.6,486.3 764.1,485.8 764.5,486.6 765,486.3 765.4,486.7 765.9,486.5 766.3,487.1 766.8,486.6 767.2,487.1 767.7,487 768.1,487.2 768.6,487.3 769,487.6 769.5,487.9 769.9,487.7 770.4,488 770.8,487.9 771.3,487.9 771.7,488.5 772.2,488.2 772.6,488.1 773.1,488.4 773.5,488.8 774,488.5 774.4,489 774.9,488.9 775.3,489.1 775.8,488.9 776.2,488.9 776.7,489 777.1,489.3 777.6,489.4 778,489.2 778.5,489.6 778.9,489.7 779.4,489.7 779.8,489.9 780.3,490.3 780.7,489.8 781.2,490.4 781.6,490.1 782.1,490.5 782.5,490.1 783,490.8 783.4,490.5 783.9,490.9 784.3,490.5 784.8,490.7 785.2,490.9 785.7,490.6 786.1,490.8 786.6,491.1 787,491.4 787.5,491 787.9,491 788.4,491.1 788.8,491.6 789.3,491.1 789.7,491.5 790.2,491.4 790.6,491.6 791.1,491.4 791.5,491.7 792,492 792.4,492 792.9,491.9 793.3,491.9 793.8,492 794.2,491.7 794.7,492.3 795.1,492.2 795.6,492.1 796,492.3 796.5,492.2 796.9,492.2 797.4,492.1 797.8,492.4 798.3,492.4 798.7,492.5 799.2,492.2 799.6,492.6 800.1,492.5" fill="none" stroke="#f8060c" stroke-width="2.4" stroke-linejoin="round"/>
<polyline points="800.6,457 800.7,459.1 801.1,463.2 801.6,466.5 802.1,468.2 802.5,470.1 803,471.8 803.4,472.6 803.9,473.1 804.3,474.1 804.8,474.8 805.2,474.8 805.7,475.5 806.1,475.3 806.6,476.2 807,476.2 807.5,476.2 807.9,476.9 808.4,477 808.8,477.4 809.3,477.6 809.7,477.8 810.2,477.8 810.6,478.3 811.1,477.8 811.5,478.6 812,478.7 812.4,478.5 812.9,479.1 813.3,479 813.8,479.3 814.2,479.7 814.7,479.4 815.1,479.6 815.6,480 816,479.8 816.5,480.3 816.9,480.6 817.4,480.6 817.8,480.6 818.3,481.1 818.7,481.3 819.2,481.4 819.6,481.4 820.1,481.8 820.5,481.8 821,481.5 821.4,481.8 821.9,481.8 822.3,481.8 822.8,482.2 823.2,482.7 823.7,482.8 824.1,482.4 824.6,482.6 825,482.9 825.5,483.3 825.9,483.3 826.4,483.6 826.8,483.1 827.3,483.9 827.7,483.4 828.2,483.9 828.6,484.1 829.1,484.1 829.5,483.9 830,484.3 830.4,484.3 830.9,484.1 831.3,484.4 831.8,484.5 832.2,484.8 832.7,484.7 833.1,485 833.6,485.1 834,484.9 834.5,484.9 834.9,485.4 835.4,485.3 835.8,485.2 836.3,485.3 836.7,485.9 837.2,485.8 837.6,485.7 838.1,485.7 838.5,486.3 839,486.2 839.4,486.3 839.9,486.1 840.3,486.1 840.8,486.3 841.2,486.2 841.7,486.6 842.1,486.5 842.6,486.9 843,486.7 843.5,486.8 843.9,486.9 844.4,487.2 844.8,486.9 845.3,487.2 845.7,486.9 846.2,487.2 846.6,487.1 847.1,487.6 847.5,487.2" fill="none" stroke="#f8060c" stroke-width="2.4" stroke-linejoin="round"/>
<polyline points="847.9,442.3 848,445.6 848.5,450.8 848.9,454.6 849.4,457.9 849.8,459.7 850.3,461.6 850.7,462.8 851.2,463.7 851.6,464.2 852.1,465.1 852.5,465.6 853,466.2 853.4,466.9 853.9,466.9 854.3,467.5 854.8,467.8 855.2,467.8 855.7,468.1 856.1,468.2 856.6,469 857,468.8 857.5,469.2 857.9,469.3 858.4,469.9 858.8,470.2 859.3,470.2 859.7,470.4 860.2,470.3 860.6,471.1 861.1,470.7 861.5,471.1 862,471.3 862.4,471.8 862.9,471.9 863.3,471.9 863.8,472.5 864.2,472.7 864.7,472.3 865.1,472.9 865.6,472.9 866,473.1 866.5,473.3 866.9,473.4 867.4,473.8 867.8,473.9 868.3,474.4 868.7,474.5 869.2,474.7 869.6,474.5 870.1,474.9 870.5,475 871,475.1 871.4,475.5 871.9,475 872.3,475.4 872.8,475.5 873.2,475.9 873.7,475.7 874.1,476.4 874.6,476 875,476.2 875.5,476.2 875.9,476.5 876.4,476.9 876.8,476.6 877.3,476.8 877.7,477.2 878.2,477.3 878.6,477.6 879.1,477.3 879.5,477.9 880,477.9 880.4,478.1 880.9,477.7 881.3,478.1 881.8,477.9 882.2,478.6 882.7,478.8 883.1,478.8 883.6,478.3 884,478.7 884.5,478.9 884.9,479 885.4,478.8 885.8,479.4 886.3,479.2 886.7,479.4 887.2,479.2 887.6,479.6 888.1,479.4 888.5,479.5 889,479.9 889.4,479.8 889.9,480.2 890.3,480 890.8,480.2 891.2,480 891.7,480.2 892.1,480.4 892.6,480.6 893,480.6 893.5,481 893.9,480.5 894.4,481.1 894.8,480.7" fill="none" stroke="#f8060c" stroke-width="2.4" stroke-linejoin="round"/>
<polyline points="895.2,425.5 895.3,429.8 895.8,435.8 896.2,440.4 896.7,444 897.1,446.8 897.6,448.9 898,450.1 898.5,451 898.9,452.1 899.4,453.3 899.8,453.9 900.3,454.5 900.7,454.6 901.2,455.3 901.6,455.4 902.1,455.8 902.5,456.3 903,457.1 903.4,457.2 903.9,457.7 904.3,457.4 904.8,458 905.2,458.1 905.7,458.5 906.1,458.6 906.6,459.5 907,459.4 907.5,459.7 907.9,460.1 908.4,460.5 908.8,460.8 909.3,460.8 909.7,461 910.2,461.6 910.6,461.5 911.1,461.6 911.5,462.2 912,462.1 912.4,462.4 912.9,462.7 913.3,462.9 913.8,463.1 914.2,463.3 914.7,463.6 915.1,463.5 915.6,464.3 916,463.9 916.5,464.5 916.9,464.7 917.4,464.8 917.8,464.9 918.3,465 918.7,465.4 919.2,465.5 919.6,465.8 920.1,465.8 920.5,466.4 921,466.4 921.4,466.2 921.9,466.7 922.3,467.2 922.8,466.7 923.2,467.3 923.7,467.7 924.1,467.5 924.6,467.8 925,467.8 925.5,467.9 925.9,468.3 926.4,468.4 926.8,468.4 927.3,468.7 927.7,468.8 928.2,469.2 928.6,468.8 929.1,469 929.5,469.2 930,469.4 930.4,469.9 930.9,469.8 931.3,470.2 931.8,470 932.2,470.1 932.7,470.5 933.1,470.2 933.6,470.9 934,471 934.5,470.7 934.9,470.8 935.4,471.3 935.8,471.4 936.3,471.4 936.7,471.1 937.2,471.7 937.6,471.3 938.1,471.8 938.5,471.9 939,472.3 939.4,472.2 939.9,471.9 940.3,472.6 940.8,472.6 941.2,472.5 941.7,472.2" fill="none" stroke="#f8060c" stroke-width="2.4" stroke-linejoin="round"/>
<polyline points="941.9,403.3 942,408.7 942.5,416.3 942.9,422.2 943.4,426.7 943.8,429.9 944.3,431.8 944.7,434.2 945.2,435.4 945.6,436.8 946.1,437.5 946.5,438.4 947,439 947.4,439.4 947.9,440.1 948.3,440.9 948.8,440.8 949.2,441.3 949.7,442.2 950.1,442.5 950.6,442.7 951,442.8 951.5,443.2 951.9,443.6 952.4,444.4 952.8,444.5 953.3,445.1 953.7,444.9 954.2,445.3 954.6,445.7 955.1,446.2 955.5,446 956,446.9 956.4,446.9 956.9,446.9 957.3,447.4 957.8,447.7 958.2,448.2 958.7,448.6 959.1,448.6 959.6,449 960,449 960.5,449.6 960.9,449.4 961.4,450.1 961.8,449.9 962.3,450.4 962.7,450.4 963.2,450.8 963.6,450.9 964.1,451.2 964.5,451.6 965,451.8 965.4,451.9 965.9,452.3 966.3,452.7 966.8,452.6 967.2,453 967.7,453.1 968.1,453.6 968.6,453.4 969,453.9 969.5,453.7 969.9,454 970.4,454.5 970.8,454.6 971.3,454.5 971.7,454.6 972.2,455.3 972.6,455.2 973.1,455.6 973.5,455.6 974,455.9 974.4,456 974.9,456.5 975.3,456.6 975.8,456.4 976.2,456.6 976.7,456.6 977.1,457.1 977.6,456.8 978,457.1 978.5,457.7 978.9,457.2 979.4,457.8 979.8,457.9 980.3,458 980.7,458 981.2,458 981.6,458.7 982.1,458.7 982.5,458.9 983,458.6 983.4,459.2 983.9,458.9 984.3,459 984.8,459.4 985.2,459.6 985.7,459.3 986.1,459.9 986.6,459.9 987,460.2 987.5,460.4 987.9,460.3 988.4,460.2 988.8,460.7 989.3,460.7" fill="none" stroke="#f8060c" stroke-width="2.4" stroke-linejoin="round"/>
<polyline points="989.7,383 989.8,385.8 990.2,391.8 990.7,396.2 991.2,399.6 991.6,402.6 992.1,405 992.5,407.5 993,409.1 993.4,410.7 993.9,412.1 994.3,413.2 994.8,414.6 995.2,415.4 995.7,416.3 996.1,417.1" fill="none" stroke="#f8060c" stroke-width="2.4" stroke-linejoin="round"/>
<line x1="101" y1="515.5" x2="101" y2="512.3" stroke="#ea3038" stroke-width="1.1"/>
<line x1="149.3" y1="515.6" x2="149.3" y2="511.3" stroke="#ea3038" stroke-width="1.1"/>
<line x1="221.8" y1="514.9" x2="221.8" y2="509.6" stroke="#ea3038" stroke-width="1.1"/>
<line x1="269.4" y1="513.9" x2="269.4" y2="506.5" stroke="#ea3038" stroke-width="1.1"/>
<line x1="317.7" y1="512.7" x2="317.7" y2="505.2" stroke="#ea3038" stroke-width="1.1"/>
<line x1="365.3" y1="511.6" x2="365.3" y2="501" stroke="#ea3038" stroke-width="1.1"/>
<line x1="440.3" y1="510.7" x2="440.3" y2="499.3" stroke="#ea3038" stroke-width="1.1"/>
<line x1="487.6" y1="508.8" x2="487.6" y2="499.3" stroke="#ea3038" stroke-width="1.1"/>
<line x1="535.6" y1="507.6" x2="535.6" y2="492.5" stroke="#ea3038" stroke-width="1.1"/>
<line x1="583.2" y1="506.1" x2="583.2" y2="487.4" stroke="#ea3038" stroke-width="1.1"/>
<line x1="631.5" y1="503.4" x2="631.5" y2="480" stroke="#ea3038" stroke-width="1.1"/>
<line x1="676.7" y1="501.3" x2="676.7" y2="474.8" stroke="#ea3038" stroke-width="1.1"/>
<line x1="753.4" y1="499.2" x2="753.4" y2="469" stroke="#ea3038" stroke-width="1.1"/>
<line x1="800.4" y1="493.5" x2="800.4" y2="455.5" stroke="#ea3038" stroke-width="1.1"/>
<line x1="847.7" y1="488.2" x2="847.7" y2="440.8" stroke="#ea3038" stroke-width="1.1"/>
<line x1="895" y1="481.7" x2="895" y2="424" stroke="#ea3038" stroke-width="1.1"/>
<line x1="941.7" y1="473.2" x2="941.7" y2="401.8" stroke="#ea3038" stroke-width="1.1"/>
<line x1="989.5" y1="461.7" x2="989.5" y2="381.5" stroke="#ea3038" stroke-width="1.1"/>
<line x1="112" y1="513.6" x2="112" y2="512.4" stroke="#f8060c" stroke-width="1.2"/>
<line x1="201.5" y1="512.9" x2="201.5" y2="510.6" stroke="#f8060c" stroke-width="1.2"/>
<line x1="416" y1="509.7" x2="416" y2="508" stroke="#f8060c" stroke-width="1.2"/>
<line x1="380" y1="507.8" x2="380" y2="507" stroke="#f8060c" stroke-width="1.2"/>
<line x1="457" y1="506" x2="457" y2="503.8" stroke="#f8060c" stroke-width="1.2"/>
<line x1="505" y1="504.5" x2="505" y2="503" stroke="#f8060c" stroke-width="1.2"/>
<line x1="520" y1="505.9" x2="520" y2="503.6" stroke="#f8060c" stroke-width="1.2"/>
<line x1="527" y1="506.1" x2="527" y2="503.4" stroke="#f8060c" stroke-width="1.2"/>
<line x1="552" y1="502.3" x2="552" y2="499.8" stroke="#f8060c" stroke-width="1.2"/>
<line x1="611" y1="500.7" x2="611" y2="498.2" stroke="#f8060c" stroke-width="1.2"/>
<line x1="648" y1="495.9" x2="648" y2="494.4" stroke="#f8060c" stroke-width="1.2"/>
<line x1="658" y1="497.5" x2="658" y2="495.4" stroke="#f8060c" stroke-width="1.2"/>
<line x1="690" y1="489.6" x2="690" y2="489.2" stroke="#f8060c" stroke-width="1.2"/>
<line x1="700" y1="491.2" x2="700" y2="490.6" stroke="#f8060c" stroke-width="1.2"/>
<line x1="736.8" y1="497.5" x2="736.8" y2="485.2" stroke="#f8060c" stroke-width="1.2"/>
<line x1="731" y1="497.1" x2="731" y2="492.6" stroke="#f8060c" stroke-width="1.2"/>
<line x1="773.5" y1="488.8" x2="773.5" y2="485" stroke="#f8060c" stroke-width="1.2"/>
<line x1="784.7" y1="490.7" x2="784.7" y2="485.7" stroke="#f8060c" stroke-width="1.2"/>
<line x1="792.7" y1="491.9" x2="792.7" y2="486.5" stroke="#f8060c" stroke-width="1.2"/>
<line x1="824.7" y1="482.6" x2="824.7" y2="472.3" stroke="#f8060c" stroke-width="1.2"/>
<line x1="835.9" y1="485.2" x2="835.9" y2="480.3" stroke="#f8060c" stroke-width="1.2"/>
<line x1="842.3" y1="486.5" x2="842.3" y2="480.5" stroke="#f8060c" stroke-width="1.2"/>
<line x1="868.8" y1="474.5" x2="868.8" y2="464.3" stroke="#f8060c" stroke-width="1.2"/>
<line x1="885.4" y1="478.8" x2="885.4" y2="470.7" stroke="#f8060c" stroke-width="1.2"/>
<line x1="891.8" y1="480.2" x2="891.8" y2="471.5" stroke="#f8060c" stroke-width="1.2"/>
<line x1="923.8" y1="467.7" x2="923.8" y2="453.8" stroke="#f8060c" stroke-width="1.2"/>
<line x1="931.8" y1="470" x2="931.8" y2="459.5" stroke="#f8060c" stroke-width="1.2"/>
<line x1="955.8" y1="446.9" x2="955.8" y2="433.9" stroke="#f8060c" stroke-width="1.2"/>
<line x1="971.7" y1="454.6" x2="971.7" y2="442.9" stroke="#f8060c" stroke-width="1.2"/>
<line x1="979.7" y1="457.9" x2="979.7" y2="449.9" stroke="#f8060c" stroke-width="1.2"/>
</g>
<line x1="996.4" y1="381.5" x2="996.4" y2="517.5" stroke="#e8484e" stroke-width="1.8"/>
<path d="M996.8,517.5 L997.9,505 L998.4,517.5" fill="none" stroke="#f8060c" stroke-width="1"/>
<polyline points="57.7,700.4 58.1,701.3 58.5,699.6 59,701.3 59.4,701.3 59.8,700.7 60.2,700.6 60.6,701 61.1,700.5 61.5,700.9 61.9,701.5 62.3,701.2 62.7,699.9 63.2,699.4 63.6,701.6 64,700.2 64.4,701.2 64.8,699.8 65.3,700.4 65.7,700.2 66.1,701.1 66.5,701.6 66.9,700.5 67.4,700.7 67.8,700.2 68.2,699.9 68.6,701.7 69,699.6 69.5,701.6 69.9,700.9 70.3,699.5 70.7,701.6 71.1,699.6 71.6,700.7 72,699.6 72.4,701.8 72.8,700.1 73.2,701.5 73.7,699.5 74.1,701 74.5,699.5 74.9,699.4 75.3,700.7 75.8,701.8 76.2,701 76.6,701.5 77,701.3 77.4,700.6 77.9,699.5 78.3,700.6 78.7,699.8 79.1,700.6 79.5,700.2 80,700.6 80.4,699.8 80.8,701.1 81.2,700.4 81.6,700.5 82.1,699.5 82.5,700.6 82.9,700.7 83.3,701.8 83.7,700.7 84.2,699.7 84.6,700.1 85,700.2 85.4,701.1 85.8,701.7 86.3,701.8 86.7,701.7 87.1,701.7 87.5,701.5 87.9,701.7 88.4,699.4 88.8,700.6 89.2,700.8 89.6,701.1 90,700.9 90.5,700.9 90.9,701.7 91.3,699.6 91.7,700.6 92.1,701.7 92.6,699.4 93,699.6 93.4,701.5 93.8,701.7 94.2,699.4 94.7,699.4 95.1,701.4 95.5,701.1 95.9,700.6 96.3,700.8 96.8,701.2 97.2,701.4 97.6,699.4 98,699.5 98.4,701.3 98.9,701.8 99.3,701.4 99.7,700.4 100.1,700.2 100.5,700.2 101,699.4" fill="none" stroke="#187c45" stroke-width="2.3" stroke-linejoin="round"/>
<polyline points="101.2,699.7 101.3,699 101.7,697.8 102.1,698.7 102.6,698.6 103,698.2 103.4,699.1 103.8,698.6 104.2,698.1 104.7,699.7 105.1,698 105.5,698 105.9,698.3 106.3,698.9 106.8,699.6 107.2,698.5 107.6,698.3 108,699.4 108.4,698.4 108.9,699.1 109.3,698.4 109.7,700 110.1,698.3 110.5,698.4 111,698.6 111.4,698.7 111.8,699.7 112.2,699.6 112.6,699.9 113.1,699.3 113.5,698.2 113.9,699.9 114.3,698.6 114.7,698.6 115.2,699.1 115.6,700.5 116,699 116.4,699 116.8,700.4 117.3,700.6 117.7,699.1 118.1,698.5 118.5,700.1 118.9,700.1 119.4,699 119.8,700.2 120.2,699.2 120.6,699 121,699.7 121.5,700.1 121.9,699.5 122.3,700.3 122.7,698.3 123.1,699.6 123.6,699.3 124,698.5 124.4,700.6 124.8,698.7 125.2,698.9 125.7,700.6 126.1,700.8 126.5,700.7 126.9,699.3 127.3,700.7 127.8,698.8 128.2,700.2 128.6,700.8 129,698.9 129.4,698.8 129.9,700.2 130.3,700.7 130.7,700.3 131.1,700.9 131.5,699.6 132,699.4 132.4,698.8 132.8,699.2 133.2,700.9 133.6,698.7 134.1,699 134.5,699.4 134.9,698.7 135.3,699.3 135.7,699 136.2,698.9 136.6,699.9 137,700 137.4,700 137.8,700.5 138.3,699.9 138.7,701 139.1,698.8 139.5,699.2 139.9,698.8 140.4,699.4 140.8,700.6 141.2,701 141.6,699.9 142,699.1 142.5,699.5 142.9,700.1 143.3,699.4 143.7,700.7 144.1,701.1 144.6,699.8 145,700.2 145.4,700.8 145.8,699.9 146.2,699.2 146.7,701.1 147.1,701.2 147.5,698.8 147.9,700.6 148.3,699.7 148.8,698.9 149.2,699.2" fill="none" stroke="#187c45" stroke-width="2.3" stroke-linejoin="round"/>
<polyline points="149.5,696.4 149.6,694.5 150,696.3 150.4,695.3 150.9,695.1 151.3,695.8 151.7,697.4 152.1,696.8 152.5,697.2 153,696.9 153.4,696.3 153.8,695.9 154.2,696.7 154.6,696.1 155.1,696.7 155.5,697.7 155.9,697.1 156.3,697.4 156.7,697.8 157.2,697.1 157.6,697.2 158,698.6 158.4,697.9 158.8,697.5 159.3,697.9 159.7,697.7 160.1,697.4 160.5,698.9 160.9,697.2 161.4,699 161.8,698.9 162.2,699 162.6,697.2 163,698.1 163.5,699.3 163.9,697.6 164.3,697.3 164.7,698.8 165.1,697.6 165.6,698.5 166,697.4 166.4,699.4 166.8,697.8 167.2,697.4 167.7,698.9 168.1,698 168.5,698.6 168.9,698.5 169.3,699.6 169.8,698.6 170.2,698.2 170.6,697.3 171,698.6 171.4,698 171.9,698.8 172.3,699 172.7,698.6 173.1,697.7 173.5,698.7 174,698.7 174.4,699.1 174.8,700 175.2,698.2 175.6,698.7 176.1,697.8 176.5,699.6 176.9,698.2 177.3,699.7 177.7,699.6 178.2,698.3 178.6,699.9 179,699 179.4,698.8 179.8,699.1 180.3,700.1 180.7,699 181.1,699 181.5,698.5 181.9,699.9 182.4,699.1 182.8,698.7 183.2,698.3 183.6,698.4 184,700 184.5,699.9 184.9,700.3 185.3,700.2 185.7,699.6 186.1,699.9 186.6,699.7 187,700 187.4,700 187.8,698.4 188.2,700 188.7,698.8 189.1,698.6 189.5,700.3 189.9,698.1 190.3,699.3 190.8,698.9 191.2,700 191.6,699.6 192,700.3 192.4,700.4 192.9,699.7 193.3,698.3 193.7,699.8 194.1,698.4 194.5,700.6 195,700.3 195.4,698.9 195.8,698.6 196.2,699.9" fill="none" stroke="#187c45" stroke-width="2.3" stroke-linejoin="round"/>
<polyline points="196.1,699.9 196.6,700.3 197,700.9 197.4,700.1 197.9,698.9 198.3,700.5 198.7,698.9 199.1,700.9 199.5,700.7 200,700.8 200.4,701 200.8,700.3 201.2,701.3 201.6,700.5 202.1,700.2 202.5,699.9 202.9,699.9 203.3,699.1 203.7,699.4 204.2,701 204.6,699.6 205,700.7 205.4,701 205.8,700.8 206.3,700.4 206.7,699.9 207.1,699.8 207.5,699.6 207.9,700.7 208.4,700.8 208.8,701.5 209.2,699.9 209.6,701.4 210,701.4 210.5,699.9 210.9,701.5 211.3,700.7 211.7,701.5 212.1,701.1 212.6,700 213,699.8 213.4,700.4 213.8,700.4 214.2,699.2 214.7,701.3 215.1,700.5 215.5,700.3 215.9,701 216.3,699.8 216.8,699.6 217.2,700.6 217.6,699.8 218,700 218.4,699.3 218.9,699.3 219.3,700 219.7,700.5 220.1,701.5 220.5,700.7 221,700.2 221.4,700.2 221.8,699.7" fill="none" stroke="#187c45" stroke-width="2.3" stroke-linejoin="round"/>
<polyline points="222,695.7 222.1,694.4 222.5,696 222.9,694.1 223.4,695.1 223.8,695.9 224.2,696.2 224.6,695.8 225,696.1 225.5,696.9 225.9,696.9 226.3,695.3 226.7,696.1 227.1,697.3 227.6,696.2 228,695.4 228.4,696.9 228.8,695.1 229.2,695.4 229.7,696.4 230.1,695.8 230.5,696.9 230.9,697 231.3,696 231.8,697.1 232.2,696.8 232.6,697 233,696.4 233.4,696.4 233.9,695.6 234.3,696.6 234.7,697.8 235.1,697.6 235.5,695.6 236,695.6 236.4,696.2 236.8,697.3 237.2,696.6 237.6,695.9 238.1,696.7 238.5,697 238.9,697.5 239.3,696.7 239.7,697.3 240.2,697.4 240.6,697.3 241,695.9 241.4,697.5 241.8,696.1 242.3,695.9 242.7,697 243.1,695.9 243.5,696 243.9,696.8 244.4,697.1 244.8,696.2 245.2,698.3 245.6,698.1 246,697.2 246.5,697.4 246.9,696.8 247.3,698.5 247.7,696.3 248.1,696.8 248.6,696.6 249,698.2 249.4,697.4 249.8,697.1 250.2,697.1 250.7,698.3 251.1,696.8 251.5,698.1 251.9,697.9 252.3,697.3 252.8,697.1 253.2,697.3 253.6,697.3 254,697 254.4,697.8 254.9,697.3 255.3,697 255.7,698.2 256.1,697.4 256.5,697.5 257,698.5 257.4,697.4 257.8,697.3 258.2,698.6 258.6,698.8 259.1,698.3 259.5,697.4 259.9,698 260.3,698.2 260.7,697.1 261.2,698.2 261.6,698.8 262,698.1 262.4,698.1 262.8,697.5 263.3,698.1 263.7,697 264.1,698.4 264.5,697.8 264.9,698.9 265.4,697.3 265.8,698.3 266.2,696.5 266.6,697.5 267,698.4 267.5,697.2 267.9,698.1 268.3,697.1 268.7,697.5 269.1,699" fill="none" stroke="#187c45" stroke-width="2.3" stroke-linejoin="round"/>
<polyline points="269.6,690.6 269.7,689.1 270.1,691.6 270.5,690.1 271,691.9 271.4,692.9 271.8,693.2 272.2,692.4 272.6,693.1 273.1,693.5 273.5,693.8 273.9,693.9 274.3,693.6 274.7,692.9 275.2,694.1 275.6,693.9 276,693.9 276.4,695.1 276.8,693 277.3,694.7 277.7,693.7 278.1,694.7 278.5,695.4 278.9,693.7 279.4,694.5 279.8,694.5 280.2,694.5 280.6,693.7 281,694.9 281.5,695.7 281.9,695.2 282.3,694.3 282.7,695.6 283.1,694.7 283.6,694.1 284,695.3 284.4,695 284.8,695.2 285.2,696.4 285.7,695.4 286.1,696.4 286.5,694.9 286.9,696 287.3,694.3 287.8,694.9 288.2,696 288.6,696 289,696.4 289.4,695.3 289.9,695.1 290.3,695.3 290.7,695.8 291.1,694.6 291.5,695.5 292,696.2 292.4,695 292.8,695.4 293.2,696.8 293.6,697 294.1,695.4 294.5,695.2 294.9,695.1 295.3,695 295.7,696.8 296.2,696.7 296.6,695.6 297,696.2 297.4,696.7 297.8,695.1 298.3,697.1 298.7,697.2 299.1,695.6 299.5,696.8 299.9,696.9 300.4,696 300.8,697.3 301.2,695.7 301.6,696.4 302,696 302.5,696.3 302.9,697.3 303.3,696.7 303.7,696.8 304.1,697.8 304.6,695.9 305,695.9 305.4,696.9 305.8,695.8 306.2,697.8 306.7,696.3 307.1,696.5 307.5,696.5 307.9,697.5 308.3,697.8 308.8,697.2 309.2,695.9 309.6,696.4 310,697.3 310.4,696.1 310.9,697.8 311.3,697.8 311.7,696.2 312.1,696.5 312.5,696.2 313,697.4 313.4,695.8 313.8,697.4 314.2,695.8 314.6,697.8 315.1,697 315.5,697.2 315.9,695.9 316.3,695.8 316.7,696.6 317.2,698.2 317.6,697.2" fill="none" stroke="#187c45" stroke-width="2.3" stroke-linejoin="round"/>
<polyline points="317.9,688.9 318,689 318.4,687.7 318.8,688.4 319.3,688.7 319.7,690.7 320.1,689.7 320.5,690.1 320.9,691.3 321.4,691.5 321.8,690.7 322.2,691.2 322.6,690.9 323,691.7 323.5,691.2 323.9,691.3 324.3,691.1 324.7,691.3 325.1,691.3 325.6,690.7 326,691.5 326.4,692.3 326.8,691.6 327.2,691.2 327.7,693.1 328.1,692.2 328.5,692.4 328.9,691.9 329.3,693.4 329.8,693.1 330.2,692.9 330.6,693 331,693.1 331.4,692.7 331.9,692.5 332.3,692.5 332.7,692.8 333.1,692.8 333.5,693 334,693 334.4,693.7 334.8,694 335.2,692.4 335.6,691.9 336.1,692.7 336.5,692 336.9,694 337.3,693.6 337.7,692.8 338.2,692.6 338.6,694.3 339,694.2 339.4,693.9 339.8,693.9 340.3,694.1 340.7,693.4 341.1,693.3 341.5,693.7 341.9,694.6 342.4,694.9 342.8,694.7 343.2,694.5 343.6,692.7 344,693.1 344.5,695 344.9,693.9 345.3,693.9 345.7,693.4 346.1,694.8 346.6,693.9 347,695.2 347.4,692.9 347.8,695.2 348.2,692.8 348.7,693.1 349.1,693.8 349.5,694.4 349.9,693.1 350.3,694.3 350.8,695.2 351.2,694 351.6,694.8 352,694.4 352.4,694.4 352.9,693.4 353.3,694.1 353.7,695.2 354.1,694.7 354.5,693.6 355,694.2 355.4,694.4 355.8,693.9 356.2,694.5 356.6,694.7 357.1,693.2 357.5,693.7 357.9,694.8 358.3,693.7 358.7,693.4 359.2,695.1 359.6,694 360,695.6 360.4,694.6 360.8,693.5 361.3,694.8 361.7,693.9 362.1,695.3 362.5,695.1 362.9,695.2 363.4,693.4 363.8,693.4 364.2,695.3 364.6,693.7 365,693.8" fill="none" stroke="#187c45" stroke-width="2.3" stroke-linejoin="round"/>
<polyline points="365.5,682.8 365.6,681.4 366,683.1 366.4,684.9 366.9,686.9 367.3,686 367.7,686.3 368.1,688.1 368.5,686.8 369,688.2 369.4,688.4 369.8,689.3 370.2,687.3 370.6,688.7 371.1,688.4 371.5,689.6 371.9,688.3 372.3,689.5 372.7,688.3 373.2,689.1 373.6,690.4 374,688.7 374.4,688.8 374.8,690.5 375.3,690 375.7,688.5 376.1,688.9 376.5,689.1 376.9,689.3 377.4,690.7 377.8,690.5 378.2,691.2 378.6,690.5 379,690.5 379.5,689.9 379.9,690.8 380.3,690.3 380.7,689.3 381.1,690.4 381.6,690.2 382,690.6 382.4,689.5 382.8,689.5 383.2,691.9 383.7,690.4 384.1,690.4 384.5,690 384.9,691.1 385.3,692 385.8,690.2 386.2,691 386.6,691.1 387,691.8 387.4,691.3 387.9,690.5 388.3,690.4 388.7,691.8 389.1,690.2 389.5,692.2 390,690.2 390.4,690.6 390.8,691.4 391.2,692.3 391.6,691.8 392.1,692.2 392.5,692.2 392.9,692.2 393.3,690.5 393.7,692.5 394.2,690.8 394.6,690.9 395,690.6 395.4,690.6 395.8,692.8 396.3,691.6 396.7,690.8 397.1,690.8 397.5,692.8 397.9,692.2 398.4,693 398.8,690.8 399.2,691.1 399.6,691.5 400,691.3 400.5,691.1 400.9,691.4 401.3,692.5 401.7,691.3 402.1,691.4 402.6,692.3 403,691.9 403.4,691.4 403.8,692.4 404.2,692.3 404.7,692 405.1,692.3 405.5,691.2 405.9,692.7 406.3,691.6 406.8,692 407.2,691.2 407.6,693.4 408,692.7 408.4,692.2 408.9,692.6 409.3,693.6 409.7,691.6 410.1,692.2 410.5,693.1 411,692.2 411.4,693.1 411.8,693.6 412.2,691.4" fill="none" stroke="#187c45" stroke-width="2.3" stroke-linejoin="round"/>
<polyline points="412.2,691.4 412.7,691.6 413.1,691.9 413.5,693.2 414,693.5 414.4,693.4 414.8,694.1 415.2,692.4 415.6,693.1 416.1,694.3 416.5,694.2 416.9,692.7 417.3,695 417.7,694.4 418.2,694.8 418.6,693.6 419,694.3 419.4,695.3 419.8,695.2 420.3,694.4 420.7,695.2 421.1,695.6 421.5,695.2 421.9,694.8 422.4,695.6 422.8,693.6 423.2,694.2 423.6,694.7 424,693.6 424.5,695.3 424.9,693.5 425.3,694.9 425.7,694.1 426.1,694.2 426.6,694.9 427,693.9 427.4,694.5 427.8,695.6 428.2,695.9 428.7,694.1 429.1,694.4 429.5,695.2 429.9,694 430.3,695.6 430.8,694 431.2,694.9 431.6,694.3 432,693.5 432.4,693.5 432.9,693.5 433.3,694.3 433.7,694.2 434.1,696 434.5,695.1 435,693.7 435.4,695.3 435.8,694.1 436.2,694.7 436.6,695.3 437.1,695.7 437.5,695.9 437.9,694.6 438.3,694.3 438.7,694.5 439.2,694.3 439.6,695.4 440,694.7" fill="none" stroke="#187c45" stroke-width="2.3" stroke-linejoin="round"/>
<polyline points="440.5,681.2 440.6,681.8 441,682.2 441.4,685 441.9,686.5 442.3,685.3 442.7,687 443.1,686.3 443.5,686.3 444,687.5 444.4,687.2 444.8,688.7 445.2,688.5 445.6,688.9 446.1,689.7 446.5,687.6 446.9,687.8 447.3,687.7 447.7,688.8 448.2,689.8 448.6,689.5 449,689.3 449.4,690.1 449.8,688.9 450.3,688.4 450.7,689.7 451.1,688.3 451.5,688.8 451.9,688.4 452.4,688.8 452.8,688.6 453.2,689.8 453.6,688.8 454,690.1 454.5,690.7 454.9,689.5 455.3,689 455.7,690.4 456.1,690.6 456.6,691 457,690.3 457.4,690.4 457.8,691.1 458.2,690.7 458.7,691.5 459.1,689.8 459.5,691.1 459.9,690.7 460.3,690.4 460.8,689.3 461.2,690.5 461.6,690 462,690.8 462.4,690.6 462.9,690.7 463.3,689.6 463.7,689.8 464.1,691 464.5,691.2 465,692 465.4,691.6 465.8,690.3 466.2,690.8 466.6,690.9 467.1,691.7 467.5,690.7 467.9,692 468.3,691 468.7,690.8 469.2,691 469.6,690.7 470,692.4 470.4,690 470.8,690.9 471.3,690.1 471.7,691.7 472.1,690.4 472.5,690.4 472.9,691.1 473.4,691.6 473.8,692 474.2,691.2 474.6,690.8 475,691 475.5,692.4 475.9,690.7 476.3,690.2 476.7,692.4 477.1,691.4 477.6,690.6 478,690.6 478.4,692.5 478.8,692.2 479.2,690.5 479.7,692 480.1,690.9 480.5,691.5 480.9,691.9 481.3,690.5 481.8,692.7 482.2,691.2 482.6,690.8 483,692.4 483.4,690.7 483.9,690.5 484.3,692.1 484.7,691.6 485.1,692.7 485.5,692.5 486,691 486.4,690.6 486.8,692 487.2,691.7" fill="none" stroke="#187c45" stroke-width="2.3" stroke-linejoin="round"/>
<polyline points="487.8,677.8 487.9,677.3 488.3,680.4 488.7,679.9 489.2,681.9 489.6,681.2 490,683.9 490.4,684.4 490.8,684 491.3,683.5 491.7,684.8 492.1,685.4 492.5,685.3 492.9,683.6 493.4,684.9 493.8,684.2 494.2,685.3 494.6,686.4 495,686.3 495.5,684.9 495.9,685.8 496.3,685.3 496.7,685 497.1,686.5 497.6,686.7 498,685.7 498.4,686 498.8,686.8 499.2,686.9 499.7,686.4 500.1,685.6 500.5,685.6 500.9,685.9 501.3,687.6 501.8,686.8 502.2,687.3 502.6,686.7 503,686.7 503.4,686.3 503.9,688.4 504.3,687.5 504.7,686.4 505.1,687.9 505.5,687.7 506,687.8 506.4,688.3 506.8,687.9 507.2,688.7 507.6,689 508.1,687.6 508.5,688.3 508.9,687.7 509.3,687.8 509.7,687.7 510.2,688.5 510.6,687.8 511,687.9 511.4,689.2 511.8,689.1 512.3,688.8 512.7,689.3 513.1,688.2 513.5,688.9 513.9,688 514.4,688.2 514.8,687.7 515.2,689.5 515.6,689.8 516,688.3 516.5,688.6 516.9,687.9 517.3,688 517.7,689.3 518.1,690 518.6,688 519,688.5 519.4,689.8 519.8,688.5 520.2,690.2 520.7,688.9 521.1,689.2 521.5,688.6 521.9,688.8 522.3,689.2 522.8,688.9 523.2,690 523.6,688.3 524,689.9 524.4,690.3 524.9,689.1 525.3,688.8 525.7,688.7 526.1,688.6 526.5,690.4 527,690 527.4,688.5 527.8,689.7 528.2,690 528.6,689.4 529.1,688.7 529.5,689.7 529.9,689.5 530.3,691.1 530.7,689.6 531.2,691 531.6,690.9 532,690.2 532.4,689.1 532.8,690.8 533.3,689.1 533.7,690.2 534.1,689.1 534.5,689.1 534.9,689.9 535.4,689.3" fill="none" stroke="#187c45" stroke-width="2.3" stroke-linejoin="round"/>
<polyline points="535.8,670.3 535.9,672.2 536.3,673.6 536.7,676.2 537.2,677.8 537.6,678.4 538,678.9 538.4,679.1 538.8,680.4 539.3,680.6 539.7,679.6 540.1,680.9 540.5,680.8 540.9,681.3 541.4,682 541.8,682.1 542.2,682 542.6,682.7 543,682.9 543.5,681.2 543.9,681.5 544.3,681.3 544.7,681.8 545.1,683.9 545.6,682.4 546,682.8 546.4,683 546.8,683.3 547.2,682.7 547.7,684.1 548.1,683.1 548.5,684.4 548.9,684.4 549.3,682.5 549.8,684 550.2,682.9 550.6,685 551,683.1 551.4,683.7 551.9,685 552.3,684.6 552.7,684.9 553.1,684.4 553.5,684.7 554,684 554.4,684.7 554.8,684.3 555.2,685.4 555.6,684.1 556.1,684.2 556.5,684.4 556.9,685.3 557.3,685.5 557.7,684.2 558.2,686.7 558.6,686.4 559,685.3 559.4,684.8 559.8,686.5 560.3,687 560.7,685 561.1,686.6 561.5,686.8 561.9,687.1 562.4,685.4 562.8,685.2 563.2,685.4 563.6,685.6 564,687.3 564.5,687.4 564.9,686.3 565.3,685.5 565.7,686.1 566.1,685.9 566.6,687 567,687.2 567.4,687.4 567.8,686.6 568.2,686.7 568.7,686.8 569.1,686.6 569.5,686.8 569.9,687.4 570.3,687.5 570.8,686.6 571.2,687.3 571.6,686.2 572,686 572.4,686.9 572.9,686.9 573.3,686.1 573.7,686.3 574.1,687.2 574.5,688.5 575,688.3 575.4,686.3 575.8,687 576.2,687.2 576.6,687.1 577.1,686.7 577.5,687.8 577.9,688.5 578.3,687.4 578.7,686.9 579.2,686.8 579.6,686.6 580,688.5 580.4,687.2 580.8,688.4 581.3,688.6 581.7,686.9 582.1,687.2 582.5,687.5 582.9,688.7" fill="none" stroke="#187c45" stroke-width="2.3" stroke-linejoin="round"/>
<polyline points="583.4,671 583.5,671.5 583.9,672.1 584.3,673.7 584.8,674.4 585.2,675.4 585.6,676.8 586,675.9 586.4,677.7 586.9,678.3 587.3,677.7 587.7,678.9 588.1,679 588.5,677.3 589,679.5 589.4,677.7 589.8,679.3 590.2,677.8 590.6,678.3 591.1,678.8 591.5,679.9 591.9,679.7 592.3,678.6 592.7,680.4 593.2,680.5 593.6,679.7 594,678.6 594.4,679.3 594.8,679.4 595.3,679.9 595.7,681.3 596.1,680.5 596.5,681.2 596.9,679.4 597.4,679.9 597.8,681.2 598.2,680.3 598.6,680.1 599,679.8 599.5,679.9 599.9,680.8 600.3,681.3 600.7,681 601.1,681.5 601.6,680.9 602,680.3 602.4,682 602.8,681.2 603.2,681.7 603.7,681.5 604.1,681.3 604.5,680.8 604.9,681.5 605.3,681.5 605.8,681.1 606.2,681 606.6,682.2 607,681.1 607.4,683.3 607.9,682.1 608.3,682.3 608.7,682.6 609.1,681.4 609.5,681.6 610,683.4 610.4,682.9 610.8,682.8 611.2,682.5 611.6,683.5 612.1,683 612.5,683.7 612.9,683.9 613.3,684.1 613.7,683.7 614.2,683.6 614.6,683.2 615,683.4 615.4,683.5 615.8,683.5 616.3,684.2 616.7,684.4 617.1,682.4 617.5,684.2 617.9,683.9 618.4,683.9 618.8,684.7 619.2,682.6 619.6,683.7 620,683.5 620.5,684.9 620.9,683 621.3,684.1 621.7,683 622.1,684.6 622.6,684 623,684.6 623.4,683.6 623.8,685.1 624.2,682.9 624.7,683.5 625.1,684.8 625.5,685.2 625.9,684.9 626.3,683.7 626.8,683.3 627.2,684.9 627.6,684.9 628,683.3 628.4,685.5 628.9,684.5 629.3,683.3 629.7,684.4 630.1,684.1 630.5,683.6 631,685.5 631.4,685.7" fill="none" stroke="#187c45" stroke-width="2.3" stroke-linejoin="round"/>
<polyline points="631.7,657.5 631.8,658.5 632.2,663 632.6,665.4 633.1,668.5 633.5,668.8 633.9,670.6 634.3,671.7 634.7,672.6 635.2,673.1 635.6,674 636,675.3 636.4,675.6 636.8,675.8 637.3,675.9 637.7,674.6 638.1,674.8 638.5,675.5 638.9,676.2 639.4,676.2 639.8,675.7 640.2,677.5 640.6,675.9 641,675.3 641.5,675.6 641.9,676.1 642.3,677.5 642.7,677.9 643.1,676 643.6,676.6 644,676.7 644.4,678.2 644.8,678.6 645.2,677.1 645.7,676.8 646.1,679.1 646.5,679.2 646.9,678.6 647.3,678.1 647.8,678.9 648.2,679 648.6,678.5 649,678 649.4,678.7 649.9,679.1 650.3,678.4 650.7,679.2 651.1,678.1 651.5,680.2 652,678.4 652.4,678.5 652.8,680.4 653.2,680.5 653.6,680.5 654.1,680.3 654.5,680.4 654.9,680.4 655.3,679.8 655.7,678.7 656.2,680.4 656.6,680.7 657,680.8 657.4,678.8 657.8,678.9 658.3,680.7 658.7,680.1 659.1,681.2 659.5,681.5 659.9,680.2 660.4,680.8 660.8,680.8 661.2,681 661.6,680.2 662,680.9 662.5,679.5 662.9,681.7 663.3,681.3 663.7,681.5 664.1,680.7 664.6,680.1 665,680.8 665.4,681.4 665.8,681.1 666.2,680 666.7,679.8 667.1,680.8 667.5,680.5 667.9,680.5 668.3,680.5 668.8,681 669.2,681.8 669.6,682.3 670,681.8 670.4,680.2 670.9,682.3 671.3,681.7 671.7,682 672.1,681.8 672.5,681.2 673,681.2 673.4,680.5 673.8,682 674.2,680.5 674.6,682.1 675.1,682.7 675.5,682.1 675.9,682 676.3,682.5" fill="none" stroke="#187c45" stroke-width="2.3" stroke-linejoin="round"/>
<polyline points="676.9,652.3 677,655.8 677.4,659.6 677.8,663.2 678.3,664.3 678.7,665 679.1,667.9 679.5,669.1 679.9,670.5 680.4,670.5 680.8,670.5 681.2,670 681.6,672.5 682,672.3 682.5,673.5 682.9,672.8 683.3,673.6 683.7,673.7 684.1,674.4 684.6,673.3 685,674.5 685.4,673.4 685.8,672.6 686.2,673.6 686.7,673.8 687.1,675.6 687.5,674.2 687.9,674.1 688.3,675.2 688.8,673.9 689.2,674.5 689.6,674.9 690,674.3 690.4,675.7 690.9,675.3 691.3,676.4 691.7,675.4 692.1,677.1 692.5,675.2 693,676.2 693.4,675.5 693.8,675.1 694.2,675.9 694.6,677.5 695.1,676.1 695.5,676.7 695.9,676.9 696.3,676.3 696.7,677.1 697.2,676 697.6,676.8 698,676.7 698.4,678.2 698.8,678.1 699.3,678 699.7,677.9 700.1,678.6 700.5,678.4 700.9,676.7 701.4,677 701.8,678.6 702.2,678.9 702.6,679.4 703,678.9 703.5,677.4 703.9,678.5 704.3,678.7 704.7,678.8 705.1,677.6 705.6,679.8 706,678.7 706.4,678.2 706.8,680 707.2,678.6 707.7,677.8 708.1,679.4 708.5,678.4 708.9,678.4 709.3,678.6 709.8,679.5 710.2,678.8 710.6,679.7 711,680.3 711.4,680.6 711.9,680.4 712.3,680.5 712.7,678.9 713.1,680.4 713.5,678.6 714,679.9 714.4,678.6 714.8,678.7 715.2,680.9 715.6,678.9 716.1,680.4 716.5,680 716.9,678.7 717.3,680.7 717.7,678.9 718.2,681 718.6,680.9 719,680.1 719.4,680 719.8,679 720.3,680.7 720.7,679.1 721.1,680.3 721.5,681.4 721.9,680.8 722.4,679.4 722.8,680.9 723.2,680.9 723.6,680 724,681.1 724.5,680.7 724.9,680.3 725.3,680.6 725.7,680 726.1,680.1" fill="none" stroke="#187c45" stroke-width="2.3" stroke-linejoin="round"/>
<polyline points="726,680.1 726.5,681.7 726.9,680.5 727.3,681.8 727.8,681 728.2,680.7 728.6,680.4 729,683 729.4,682.6 729.9,683.3 730.3,682.5 730.7,681.3 731.1,681.6 731.5,681.4 732,682.9 732.4,683 732.8,683.9 733.2,682.3 733.6,682.2 734.1,682.3 734.5,682.1 734.9,681.9 735.3,683.1 735.7,683 736.2,682.9 736.6,684.4 737,682.8 737.4,684.1 737.8,683.4 738.3,682.3 738.7,682.2 739.1,683.7 739.5,684.3 739.9,682.3 740.4,683.9 740.8,682.8 741.2,683.9 741.6,684.3 742,684 742.5,682.9 742.9,682.6 743.3,684.7 743.7,684.6 744.1,684.6 744.6,683.6 745,682.4 745.4,683.2 745.8,684.6 746.2,682.5 746.7,683 747.1,682.4 747.5,684.5 747.9,683.2 748.3,682.5 748.8,683.2 749.2,682.8 749.6,683.4 750,683.9 750.4,684 750.9,682.6 751.3,683.7 751.7,682.5 752.1,683.4 752.5,684.4 753,683 753.4,684.4" fill="none" stroke="#187c45" stroke-width="2.3" stroke-linejoin="round"/>
<polyline points="753.9,652.8 754,654.3 754.4,658.7 754.8,662.7 755.3,663 755.7,666.1 756.1,667.4 756.5,668.8 756.9,670.2 757.4,670.2 757.8,669.6 758.2,669.9 758.6,671 759,670.8 759.5,671.7 759.9,670.8 760.3,672.5 760.7,672.1 761.1,671.3 761.6,671.7 762,673.9 762.4,673.8 762.8,674 763.2,672.9 763.7,674.6 764.1,672.7 764.5,674.2 764.9,674.9 765.3,673.1 765.8,672.8 766.2,673.2 766.6,673.2 767,675.1 767.4,674.7 767.9,674.5 768.3,673.7 768.7,675.1 769.1,674 769.5,674.1 770,675.3 770.4,675.6 770.8,676 771.2,676.2 771.6,674.6 772.1,675.1 772.5,674.8 772.9,675.7 773.3,674.7 773.7,676.8 774.2,676.5 774.6,676.9 775,676.1 775.4,677.3 775.8,677.2 776.3,677.2 776.7,677.2 777.1,675.8 777.5,676.2 777.9,675.6 778.4,677.4 778.8,676.8 779.2,678.1 779.6,676.4 780,676.8 780.5,678 780.9,678.3 781.3,677.8 781.7,678.2 782.1,678.4 782.6,676.8 783,677.7 783.4,676.4 783.8,678 784.2,678.7 784.7,677.7 785.1,676.8 785.5,677.9 785.9,676.7 786.3,677.7 786.8,676.8 787.2,677.7 787.6,678.8 788,678.6 788.4,678.9 788.9,678 789.3,678 789.7,677.1 790.1,678.9 790.5,678.4 791,678.1 791.4,677.5 791.8,678.3 792.2,677.3 792.6,677.5 793.1,677.4 793.5,678.3 793.9,677.6 794.3,679.4 794.7,678.9 795.2,679.6 795.6,678.8 796,677.9 796.4,678.2 796.8,679.6 797.3,679 797.7,679.2 798.1,679.2 798.5,677.8 798.9,678.2 799.4,678.8 799.8,679.8 800.2,680.1" fill="none" stroke="#187c45" stroke-width="2.3" stroke-linejoin="round"/>
<polyline points="800.6,650.2 800.7,651.6 801.1,653.7 801.5,655.4 802,658.3 802.4,659.3 802.8,661.7 803.2,660.7 803.6,661.4 804.1,661.4 804.5,661.9 804.9,664.3 805.3,664.8 805.7,663.3 806.2,663.3 806.6,664.9 807,664.4 807.4,665.5 807.8,666.5 808.3,666.3 808.7,665.3 809.1,666.3 809.5,665.8 809.9,667.1 810.4,666 810.8,667.8 811.2,667.5 811.6,668.2 812,667 812.5,668.7 812.9,667.9 813.3,667.2 813.7,668.4 814.1,667.7 814.6,667.4 815,667.3 815.4,668.9 815.8,668.1 816.2,667.9 816.7,669.7 817.1,668.3 817.5,670 817.9,668.9 818.3,669.3 818.8,670.8 819.2,670.7 819.6,670.8 820,671.3 820.4,670.5 820.9,671.4 821.3,670.8 821.7,670.8 822.1,670.3 822.5,670.5 823,671.1 823.4,670.4 823.8,671.5 824.2,672.1 824.6,671.9 825.1,670.8 825.5,670.4 825.9,671.3 826.3,671.6 826.7,672.7 827.2,672 827.6,672.1 828,672.4 828.4,672.3 828.8,672.7 829.3,672.5 829.7,672.6 830.1,671.9 830.5,671.7 830.9,672.5 831.4,673.7 831.8,674 832.2,672.4 832.6,673.2 833,673.1 833.5,673 833.9,672.4 834.3,674 834.7,672.3 835.1,672.7 835.6,672.9 836,672.8 836.4,672.9 836.8,672.6 837.2,673.8 837.7,673 838.1,674.2 838.5,674.2 838.9,674.3 839.3,674 839.8,674.4 840.2,673.6 840.6,674.1 841,674.7 841.4,673.6 841.9,674.9 842.3,674.6 842.7,675.7 843.1,674.8 843.5,674.7 844,675.3 844.4,674.1 844.8,674.4 845.2,674.6 845.6,675.4 846.1,675.4 846.5,674.1 846.9,676.1 847.3,676.2" fill="none" stroke="#187c45" stroke-width="2.3" stroke-linejoin="round"/>
<polyline points="847.9,642.6 848,644.3 848.4,649 848.8,650.7 849.3,652.1 849.7,652.9 850.1,654 850.5,656.4 850.9,657.4 851.4,657.8 851.8,658.7 852.2,658.3 852.6,659.4 853,659.4 853.5,659.8 853.9,659.8 854.3,660.4 854.7,660.3 855.1,659.4 855.6,661.1 856,661.3 856.4,660.8 856.8,662.4 857.2,661.4 857.7,660.7 858.1,661.8 858.5,661.6 858.9,661.3 859.3,663.2 859.8,661.6 860.2,663.1 860.6,661.9 861,663 861.4,664.3 861.9,662.2 862.3,664.3 862.7,662.3 863.1,664.9 863.5,664.8 864,663.8 864.4,664.4 864.8,664.1 865.2,663.5 865.6,664.1 866.1,664.5 866.5,665.7 866.9,663.9 867.3,665.1 867.7,665.1 868.2,665.4 868.6,666.1 869,665.7 869.4,665.2 869.8,666.9 870.3,666.1 870.7,665.4 871.1,666.2 871.5,667.1 871.9,665.1 872.4,666.7 872.8,666.4 873.2,666 873.6,665.8 874,666.1 874.5,666.7 874.9,666.8 875.3,667.3 875.7,666.6 876.1,667.5 876.6,667.3 877,668.2 877.4,668.3 877.8,666.9 878.2,668.9 878.7,667.9 879.1,667.4 879.5,667.3 879.9,668.5 880.3,667.9 880.8,668.6 881.2,667.6 881.6,669.2 882,667.8 882.4,669.4 882.9,668.4 883.3,668.4 883.7,668.9 884.1,668.8 884.5,668.9 885,669 885.4,670.1 885.8,669.6 886.2,668 886.6,670.3 887.1,668 887.5,668.1 887.9,670.1 888.3,668.8 888.7,668.3 889.2,668.7 889.6,669.5 890,670.5 890.4,668.5 890.8,668.9 891.3,668.5 891.7,668.7 892.1,669.4 892.5,669.9 892.9,671.1 893.4,670.4 893.8,670.9 894.2,670.3 894.6,671.2" fill="none" stroke="#187c45" stroke-width="2.3" stroke-linejoin="round"/>
<polyline points="895.2,630.5 895.3,634.3 895.7,638.6 896.1,643 896.6,646.3 897,647.7 897.4,651.5 897.8,651.8 898.2,652.2 898.7,653.7 899.1,655.2 899.5,654.4 899.9,655.7 900.3,654.9 900.8,655.6 901.2,655.8 901.6,656.8 902,657.6 902.4,656.6 902.9,658 903.3,658 903.7,658.6 904.1,659.4 904.5,657.9 905,659.8 905.4,658.6 905.8,658.9 906.2,658.2 906.6,658.2 907.1,659.7 907.5,658.6 907.9,658.5 908.3,658.8 908.7,660.1 909.2,659.4 909.6,659.7 910,661.1 910.4,660.5 910.8,659.8 911.3,661.3 911.7,662.2 912.1,661.4 912.5,661.1 912.9,661.5 913.4,662 913.8,662.5 914.2,662.5 914.6,661.2 915,662.7 915.5,661.1 915.9,661.3 916.3,662.3 916.7,661.6 917.1,662.7 917.6,662.1 918,663.9 918.4,662.7 918.8,663.7 919.2,664.2 919.7,663 920.1,663.9 920.5,663.3 920.9,663.2 921.3,662.6 921.8,664 922.2,664.7 922.6,664.2 923,663.4 923.4,664 923.9,663.7 924.3,663.8 924.7,664.8 925.1,663 925.5,664.3 926,664.4 926.4,663.6 926.8,665.1 927.2,664 927.6,664.4 928.1,664.1 928.5,665.1 928.9,664.7 929.3,665.4 929.7,664.8 930.2,665.8 930.6,665.3 931,664.2 931.4,665.2 931.8,664.7 932.3,664.9 932.7,666.5 933.1,665.4 933.5,666.1 933.9,664.7 934.4,665.9 934.8,664.7 935.2,665 935.6,664.8 936,664.6 936.5,666.9 936.9,667.1 937.3,665.6 937.7,664.8 938.1,666.6 938.6,666.5 939,665 939.4,666.8 939.8,665.1 940.2,665.6 940.7,667 941.1,667 941.5,665.7" fill="none" stroke="#187c45" stroke-width="2.3" stroke-linejoin="round"/>
<polyline points="941.9,617.6 942,621.4 942.4,627.9 942.8,631.8 943.3,634.9 943.7,636.6 944.1,638.3 944.5,640.1 944.9,642.1 945.4,643.2 945.8,643.6 946.2,644.7 946.6,645.1 947,645.7 947.5,645.5 947.9,647 948.3,646.5 948.7,647.7 949.1,648.2 949.6,648.1 950,648.2 950.4,648.2 950.8,648.1 951.2,647.6 951.7,647.4 952.1,649.1 952.5,648.2 952.9,649.4 953.3,649.4 953.8,649.7 954.2,649.5 954.6,649.2 955,649.5 955.4,650.7 955.9,651.4 956.3,650.1 956.7,650.3 957.1,650.8 957.5,650.9 958,651.6 958.4,652.1 958.8,652.3 959.2,652.5 959.6,652.5 960.1,653.2 960.5,652.1 960.9,652.2 961.3,652.9 961.7,652.2 962.2,653.6 962.6,652.7 963,653.2 963.4,653.2 963.8,653 964.3,652.2 964.7,653 965.1,653.6 965.5,655 965.9,653 966.4,655.1 966.8,655.4 967.2,655 967.6,653.9 968,653.3 968.5,655.6 968.9,653.7 969.3,654.4 969.7,656.1 970.1,655.5 970.6,656 971,656.1 971.4,654.6 971.8,655.5 972.2,654.6 972.7,655.4 973.1,655.7 973.5,656.6 973.9,655.4 974.3,656.4 974.8,655.2 975.2,655.6 975.6,655.2 976,656.6 976.4,656.7 976.9,657.1 977.3,656.4 977.7,657.8 978.1,657.3 978.5,657 979,657.8 979.4,656.2 979.8,656.5 980.2,657.3 980.6,657.4 981.1,658.4 981.5,657.8 981.9,656.3 982.3,658.6 982.7,657.4 983.2,656.9 983.6,658.3 984,658 984.4,658.7 984.8,658 985.3,657.3 985.7,657.9 986.1,657.9 986.5,657.7 986.9,658.3 987.4,657.3 987.8,657.6 988.2,657.3 988.6,657.1 989,658.4" fill="none" stroke="#187c45" stroke-width="2.3" stroke-linejoin="round"/>
<polyline points="989.5,592 989.6,598.3 990,605.5 990.4,612.9 990.9,616.9 991.3,620.7 991.7,622.7 992.1,626.6 992.5,627 993,629.8 993.4,629.5 993.8,632.3 994.2,632.4 994.6,631.8 995.1,633.8 995.5,632.9 995.9,633.9" fill="none" stroke="#187c45" stroke-width="2.3" stroke-linejoin="round"/>
<line x1="101" y1="700.4" x2="101" y2="698.2" stroke="#2a8753" stroke-width="1.1"/>
<line x1="149.3" y1="700.2" x2="149.3" y2="694.9" stroke="#2a8753" stroke-width="1.1"/>
<line x1="221.8" y1="700.7" x2="221.8" y2="694.2" stroke="#2a8753" stroke-width="1.1"/>
<line x1="269.4" y1="700" x2="269.4" y2="689.1" stroke="#2a8753" stroke-width="1.1"/>
<line x1="317.7" y1="698.2" x2="317.7" y2="687.4" stroke="#2a8753" stroke-width="1.1"/>
<line x1="365.3" y1="694.8" x2="365.3" y2="681.3" stroke="#2a8753" stroke-width="1.1"/>
<line x1="440.3" y1="695.7" x2="440.3" y2="679.7" stroke="#2a8753" stroke-width="1.1"/>
<line x1="487.6" y1="692.7" x2="487.6" y2="676.3" stroke="#2a8753" stroke-width="1.1"/>
<line x1="535.6" y1="690.3" x2="535.6" y2="668.8" stroke="#2a8753" stroke-width="1.1"/>
<line x1="583.2" y1="689.7" x2="583.2" y2="669.5" stroke="#2a8753" stroke-width="1.1"/>
<line x1="631.5" y1="686.7" x2="631.5" y2="656" stroke="#2a8753" stroke-width="1.1"/>
<line x1="676.7" y1="683.5" x2="676.7" y2="650.8" stroke="#2a8753" stroke-width="1.1"/>
<line x1="753.7" y1="685.4" x2="753.7" y2="651.3" stroke="#2a8753" stroke-width="1.1"/>
<line x1="800.4" y1="681.1" x2="800.4" y2="648.7" stroke="#2a8753" stroke-width="1.1"/>
<line x1="847.7" y1="677.2" x2="847.7" y2="641.1" stroke="#2a8753" stroke-width="1.1"/>
<line x1="895" y1="672.2" x2="895" y2="629" stroke="#2a8753" stroke-width="1.1"/>
<line x1="941.7" y1="666.7" x2="941.7" y2="616.1" stroke="#2a8753" stroke-width="1.1"/>
<line x1="989.3" y1="659.4" x2="989.3" y2="590.5" stroke="#2a8753" stroke-width="1.1"/>
<polyline points="996,634 996.3,600 996.5,555.5 996.9,600 997.3,704" fill="none" stroke="#187c45" stroke-width="1.3" stroke-linejoin="round"/>
<line x1="125" y1="698.7" x2="125" y2="697.6" stroke="#187c45" stroke-width="1.6"/>
<line x1="160" y1="697.4" x2="160" y2="696" stroke="#187c45" stroke-width="1.6"/>
<line x1="171" y1="698.6" x2="171" y2="696.6" stroke="#187c45" stroke-width="1.6"/>
<line x1="181" y1="699" x2="181" y2="695.4" stroke="#187c45" stroke-width="1.6"/>
<line x1="201.4" y1="701.3" x2="201.4" y2="692.6" stroke="#187c45" stroke-width="1.6"/>
<line x1="199.5" y1="700.7" x2="199.5" y2="695.4" stroke="#187c45" stroke-width="1.6"/>
<line x1="203.5" y1="699.1" x2="203.5" y2="695" stroke="#187c45" stroke-width="1.6"/>
<line x1="232" y1="696.8" x2="232" y2="694" stroke="#187c45" stroke-width="1.6"/>
<line x1="250" y1="697.1" x2="250" y2="694.4" stroke="#187c45" stroke-width="1.6"/>
<line x1="283" y1="694.7" x2="283" y2="690.6" stroke="#187c45" stroke-width="1.6"/>
<line x1="299" y1="695.6" x2="299" y2="691.6" stroke="#187c45" stroke-width="1.6"/>
<line x1="310" y1="697.3" x2="310" y2="691" stroke="#187c45" stroke-width="1.6"/>
<line x1="333" y1="692.8" x2="333" y2="689.6" stroke="#187c45" stroke-width="1.6"/>
<line x1="348" y1="695.2" x2="348" y2="688.8" stroke="#187c45" stroke-width="1.6"/>
<line x1="415.8" y1="693.1" x2="415.8" y2="681.6" stroke="#187c45" stroke-width="1.6"/>
<line x1="418.6" y1="693.6" x2="418.6" y2="688" stroke="#187c45" stroke-width="1.6"/>
<line x1="444.4" y1="687.2" x2="444.4" y2="681.2" stroke="#187c45" stroke-width="1.6"/>
<line x1="450.5" y1="689.7" x2="450.5" y2="681" stroke="#187c45" stroke-width="1.6"/>
<line x1="459" y1="689.8" x2="459" y2="681.4" stroke="#187c45" stroke-width="1.6"/>
<line x1="467.5" y1="690.7" x2="467.5" y2="681.6" stroke="#187c45" stroke-width="1.6"/>
<line x1="475" y1="691" x2="475" y2="681.8" stroke="#187c45" stroke-width="1.6"/>
<line x1="496.1" y1="685.3" x2="496.1" y2="674.8" stroke="#187c45" stroke-width="1.6"/>
<line x1="526" y1="688.6" x2="526" y2="681.6" stroke="#187c45" stroke-width="1.6"/>
<line x1="563.5" y1="685.6" x2="563.5" y2="674.2" stroke="#187c45" stroke-width="1.6"/>
<line x1="572.7" y1="686.9" x2="572.7" y2="674.8" stroke="#187c45" stroke-width="1.6"/>
<line x1="576.4" y1="687.2" x2="576.4" y2="673.2" stroke="#187c45" stroke-width="1.6"/>
<line x1="601.6" y1="680.9" x2="601.6" y2="666.4" stroke="#187c45" stroke-width="1.6"/>
<line x1="624.7" y1="683.5" x2="624.7" y2="671.6" stroke="#187c45" stroke-width="1.6"/>
<line x1="641" y1="675.3" x2="641" y2="660.6" stroke="#187c45" stroke-width="1.6"/>
<line x1="651.9" y1="678.4" x2="651.9" y2="662.4" stroke="#187c45" stroke-width="1.6"/>
<line x1="658.7" y1="680.1" x2="658.7" y2="670.4" stroke="#187c45" stroke-width="1.6"/>
<line x1="671" y1="682.3" x2="671" y2="665.8" stroke="#187c45" stroke-width="1.6"/>
<line x1="680.8" y1="670.5" x2="680.8" y2="651.2" stroke="#187c45" stroke-width="1.6"/>
<line x1="710.2" y1="678.8" x2="710.2" y2="662.8" stroke="#187c45" stroke-width="1.6"/>
<line x1="727.6" y1="681" x2="727.6" y2="658" stroke="#187c45" stroke-width="1.6"/>
<line x1="730.5" y1="681.3" x2="730.5" y2="674" stroke="#187c45" stroke-width="1.6"/>
<line x1="764.6" y1="674.2" x2="764.6" y2="657.4" stroke="#187c45" stroke-width="1.6"/>
<line x1="796.9" y1="679.6" x2="796.9" y2="660.6" stroke="#187c45" stroke-width="1.6"/>
<line x1="811.9" y1="667" x2="811.9" y2="651" stroke="#187c45" stroke-width="1.6"/>
<line x1="843.2" y1="674.8" x2="843.2" y2="653.2" stroke="#187c45" stroke-width="1.6"/>
<line x1="845.4" y1="674.6" x2="845.4" y2="655" stroke="#187c45" stroke-width="1.6"/>
<line x1="860" y1="663.1" x2="860" y2="660.5" stroke="#187c45" stroke-width="1.6"/>
<line x1="872" y1="665.1" x2="872" y2="664" stroke="#187c45" stroke-width="1.6"/>
<line x1="885" y1="669" x2="885" y2="665.8" stroke="#187c45" stroke-width="1.6"/>
<line x1="900.4" y1="654.9" x2="900.4" y2="632.4" stroke="#187c45" stroke-width="1.6"/>
<line x1="914.2" y1="662.5" x2="914.2" y2="644.6" stroke="#187c45" stroke-width="1.6"/>
<line x1="928.6" y1="665.1" x2="928.6" y2="651" stroke="#187c45" stroke-width="1.6"/>
<line x1="936.6" y1="666.9" x2="936.6" y2="645.2" stroke="#187c45" stroke-width="1.6"/>
<line x1="952.6" y1="648.2" x2="952.6" y2="635.6" stroke="#187c45" stroke-width="1.6"/>
<line x1="963.4" y1="653.2" x2="963.4" y2="626.6" stroke="#187c45" stroke-width="1.6"/>
<line x1="974.3" y1="656.4" x2="974.3" y2="635" stroke="#187c45" stroke-width="1.6"/>
<line x1="984.5" y1="658.7" x2="984.5" y2="650" stroke="#187c45" stroke-width="1.6"/>
<line x1="979.5" y1="656.2" x2="979.5" y2="652.5" stroke="#187c45" stroke-width="1.6"/>
<line x1="968.5" y1="655.6" x2="968.5" y2="648.6" stroke="#187c45" stroke-width="1.6"/>
<path d="M997.3,704 L998.0,696 L998.4,704" fill="none" stroke="#187c45" stroke-width="1"/>
<line x1="102.6" y1="382.5" x2="102.6" y2="398" stroke="#111" stroke-width="1.5"/>
<polygon points="102.6,407 99.4,397 105.8,397" fill="#111"/>
<text x="97.6" y="383.6" font-size="13.6" fill="#222" text-anchor="end" transform="rotate(-90 97.6 383.6)">0.25 mm</text>
<line x1="146.6" y1="382.5" x2="146.6" y2="398" stroke="#111" stroke-width="1.5"/>
<polygon points="146.6,407 143.4,397 149.8,397" fill="#111"/>
<text x="134.1" y="383.6" font-size="13.6" fill="#222" text-anchor="end" transform="rotate(-90 134.1 383.6)">0.5 mm</text>
<line x1="222.7" y1="382.5" x2="222.7" y2="398" stroke="#111" stroke-width="1.5"/>
<polygon points="222.7,407 219.5,397 225.9,397" fill="#111"/>
<text x="214.2" y="383.6" font-size="13.6" fill="#222" text-anchor="end" transform="rotate(-90 214.2 383.6)">0.75 mm</text>
<line x1="271.3" y1="382.5" x2="271.3" y2="398" stroke="#111" stroke-width="1.5"/>
<polygon points="271.3,407 268.1,397 274.5,397" fill="#111"/>
<text x="262.8" y="383.6" font-size="13.6" fill="#222" text-anchor="end" transform="rotate(-90 262.8 383.6)">1 mm</text>
<line x1="315.3" y1="382.5" x2="315.3" y2="398" stroke="#111" stroke-width="1.5"/>
<polygon points="315.3,407 312.1,397 318.5,397" fill="#111"/>
<text x="306.3" y="383.6" font-size="13.6" fill="#222" text-anchor="end" transform="rotate(-90 306.3 383.6)">1.25 mm</text>
<line x1="362.9" y1="382.5" x2="362.9" y2="398" stroke="#111" stroke-width="1.5"/>
<polygon points="362.9,407 359.7,397 366.1,397" fill="#111"/>
<text x="354.4" y="383.6" font-size="13.6" fill="#222" text-anchor="end" transform="rotate(-90 354.4 383.6)">1.5 mm</text>
<line x1="438.9" y1="382.5" x2="438.9" y2="398" stroke="#111" stroke-width="1.5"/>
<polygon points="438.9,407 435.7,397 442.1,397" fill="#111"/>
<text x="430.4" y="383.6" font-size="13.6" fill="#222" text-anchor="end" transform="rotate(-90 430.4 383.6)">1.75 mm</text>
<line x1="485.5" y1="382.5" x2="485.5" y2="398" stroke="#111" stroke-width="1.5"/>
<polygon points="485.5,407 482.3,397 488.7,397" fill="#111"/>
<text x="477" y="383.6" font-size="13.6" fill="#222" text-anchor="end" transform="rotate(-90 477 383.6)">2 mm</text>
<line x1="537" y1="382.5" x2="537" y2="398" stroke="#111" stroke-width="1.5"/>
<polygon points="537,407 533.8,397 540.2,397" fill="#111"/>
<text x="526.7" y="383.6" font-size="13.6" fill="#222" text-anchor="end" transform="rotate(-90 526.7 383.6)">2.25 mm</text>
<line x1="583.3" y1="382.5" x2="583.3" y2="398" stroke="#111" stroke-width="1.5"/>
<polygon points="583.3,407 580.1,397 586.5,397" fill="#111"/>
<text x="573.5" y="383.6" font-size="13.6" fill="#222" text-anchor="end" transform="rotate(-90 573.5 383.6)">2.5 mm</text>
<line x1="630.1" y1="382.5" x2="630.1" y2="398" stroke="#111" stroke-width="1.5"/>
<polygon points="630.1,407 626.9,397 633.3,397" fill="#111"/>
<text x="620.8" y="383.6" font-size="13.6" fill="#222" text-anchor="end" transform="rotate(-90 620.8 383.6)">2.75 mm</text>
<line x1="675.3" y1="382.5" x2="675.3" y2="398" stroke="#111" stroke-width="1.5"/>
<polygon points="675.3,407 672.1,397 678.5,397" fill="#111"/>
<text x="665.6" y="383.6" font-size="13.6" fill="#222" text-anchor="end" transform="rotate(-90 665.6 383.6)">3 mm</text>
<line x1="754" y1="382.5" x2="754" y2="398" stroke="#111" stroke-width="1.5"/>
<polygon points="754,407 750.8,397 757.2,397" fill="#111"/>
<text x="744.7" y="383.6" font-size="13.6" fill="#222" text-anchor="end" transform="rotate(-90 744.7 383.6)">3.25 mm</text>
<line x1="801.3" y1="382.5" x2="801.3" y2="398" stroke="#111" stroke-width="1.5"/>
<polygon points="801.3,407 798.1,397 804.5,397" fill="#111"/>
<text x="791" y="383.6" font-size="13.6" fill="#222" text-anchor="end" transform="rotate(-90 791 383.6)">3.5 mm</text>
<line x1="850.1" y1="382.5" x2="850.1" y2="398" stroke="#111" stroke-width="1.5"/>
<polygon points="850.1,407 846.9,397 853.3,397" fill="#111"/>
<text x="839.3" y="383.6" font-size="13.6" fill="#222" text-anchor="end" transform="rotate(-90 839.3 383.6)">3.75 mm</text>
<line x1="895.4" y1="382.5" x2="895.4" y2="398" stroke="#111" stroke-width="1.5"/>
<polygon points="895.4,407 892.2,397 898.6,397" fill="#111"/>
<text x="885.6" y="383.6" font-size="13.6" fill="#222" text-anchor="end" transform="rotate(-90 885.6 383.6)">4 mm</text>
<line x1="942.2" y1="382.5" x2="942.2" y2="398" stroke="#111" stroke-width="1.5"/>
<polygon points="942.2,407 939,397 945.4,397" fill="#111"/>
<text x="933.4" y="383.6" font-size="13.6" fill="#222" text-anchor="end" transform="rotate(-90 933.4 383.6)">4.75 mm</text>
<rect x="182.4" y="488.5" width="12.6" height="44.8" fill="#e9e9e9"/>
<text x="193.2" y="514.3" font-size="12.2" fill="#222" text-anchor="middle" transform="rotate(-90 193.2 514.3)">WASH</text>
<rect x="398.8" y="488.5" width="12.6" height="44.8" fill="#e9e9e9"/>
<text x="409.6" y="514.3" font-size="12.2" fill="#222" text-anchor="middle" transform="rotate(-90 409.6 514.3)">WASH</text>
<rect x="712.6" y="488.5" width="12.6" height="44.8" fill="#e9e9e9"/>
<text x="723.4" y="514.3" font-size="12.2" fill="#222" text-anchor="middle" transform="rotate(-90 723.4 514.3)">WASH</text>
<text x="76" y="500.4" font-size="16.5" fill="#f8060c" text-anchor="start">IgG</text>
<text x="77.5" y="686" font-size="17.1" fill="#187c45" text-anchor="start"><tspan font-family='&quot;Liberation Serif&quot;, &quot;DejaVu Serif&quot;, serif' font-size="19.8">α</tspan>CSF1R</text>
<text x="942.3" y="514" font-size="11.6" fill="#222" text-anchor="start">baseline</text>
<text x="942.3" y="698" font-size="11.6" fill="#222" text-anchor="start">baseline</text>
<rect x="442.7" y="495.4" width="43.2" height="205.8" fill="none" stroke="#111" stroke-width="1.6" stroke-dasharray="3.4 2.8"/>
<line x1="33.5" y1="732.2" x2="33.5" y2="674.6" stroke="#111" stroke-width="1.9"/>
<polygon points="33.5,648.6 38,675.6 29,675.6" fill="#111"/>
<line x1="32.6" y1="731" x2="89.3" y2="731" stroke="#111" stroke-width="1.9"/>
<polygon points="115.3,731 88.3,735.5 88.3,726.5" fill="#111"/>
<text x="37.5" y="615.3" font-size="20.5" fill="#111" text-anchor="middle" transform="rotate(-90 37.5 615.3)">Force</text>
<text x="124.1" y="736.5" font-size="20.5" fill="#111" text-anchor="start">Recording time</text>
</g>
<g id="panelC">
<text x="0.3" y="782.6" font-size="35.3" fill="#111" text-anchor="start">C</text>
<line x1="47.9" y1="796.8" x2="47.9" y2="983.3" stroke="#111" stroke-width="2.6"/>
<line x1="42.4" y1="982" x2="177" y2="982" stroke="#111" stroke-width="2.6"/>
<line x1="42.4" y1="982" x2="47.9" y2="982" stroke="#111" stroke-width="2.1"/>
<text x="39.8" y="988.1" font-size="17" fill="#222" text-anchor="end">0</text>
<line x1="42.4" y1="945.1" x2="47.9" y2="945.1" stroke="#111" stroke-width="2.1"/>
<text x="39.8" y="951.2" font-size="17" fill="#222" text-anchor="end">5</text>
<line x1="42.4" y1="908.3" x2="47.9" y2="908.3" stroke="#111" stroke-width="2.1"/>
<text x="39.8" y="914.4" font-size="17" fill="#222" text-anchor="end">10</text>
<line x1="42.4" y1="871.5" x2="47.9" y2="871.5" stroke="#111" stroke-width="2.1"/>
<text x="39.8" y="877.6" font-size="17" fill="#222" text-anchor="end">15</text>
<line x1="42.4" y1="834.6" x2="47.9" y2="834.6" stroke="#111" stroke-width="2.1"/>
<text x="39.8" y="840.7" font-size="17" fill="#222" text-anchor="end">20</text>
<line x1="42.4" y1="797.8" x2="47.9" y2="797.8" stroke="#111" stroke-width="2.1"/>
<text x="39.8" y="803.9" font-size="17" fill="#222" text-anchor="end">25</text>
<line x1="66.6" y1="982" x2="66.6" y2="988.3" stroke="#111" stroke-width="2.1"/>
<line x1="158.7" y1="982" x2="158.7" y2="988.3" stroke="#111" stroke-width="2.1"/>
<text x="16.3" y="890.4" font-size="21.8" fill="#222" text-anchor="middle" transform="rotate(-90 16.3 890.4)">Number  of Peaks</text>
<line x1="66.6" y1="900.9" x2="158.7" y2="812.5" stroke="#5a5a5a" stroke-width="1.7"/>
<line x1="66.6" y1="908.3" x2="158.7" y2="878.8" stroke="#5a5a5a" stroke-width="1.7"/>
<line x1="66.6" y1="923" x2="158.7" y2="886.2" stroke="#5a5a5a" stroke-width="1.7"/>
<line x1="66.6" y1="923" x2="158.7" y2="893.6" stroke="#5a5a5a" stroke-width="1.7"/>
<line x1="66.6" y1="934.1" x2="158.7" y2="856.7" stroke="#5a5a5a" stroke-width="1.7"/>
<line x1="66.6" y1="947.4" x2="158.7" y2="864.1" stroke="#5a5a5a" stroke-width="1.7"/>
<line x1="66.6" y1="945.1" x2="158.7" y2="915.7" stroke="#5a5a5a" stroke-width="1.7"/>
<line x1="66.6" y1="952.5" x2="158.7" y2="930.4" stroke="#5a5a5a" stroke-width="1.7"/>
<line x1="66.6" y1="967.3" x2="158.7" y2="982" stroke="#5a5a5a" stroke-width="1.7"/>
<line x1="66.6" y1="974.6" x2="158.7" y2="982" stroke="#5a5a5a" stroke-width="1.7"/>
<circle cx="66.6" cy="900.9" r="5.35" fill="none" stroke="#1a1a1a" stroke-width="1.8"/>
<circle cx="66.6" cy="908.3" r="5.35" fill="none" stroke="#1a1a1a" stroke-width="1.8"/>
<circle cx="66.6" cy="923" r="5.35" fill="none" stroke="#1a1a1a" stroke-width="1.8"/>
<circle cx="66.6" cy="934.1" r="5.35" fill="none" stroke="#1a1a1a" stroke-width="1.8"/>
<circle cx="66.6" cy="945.1" r="5.35" fill="none" stroke="#1a1a1a" stroke-width="1.8"/>
<circle cx="66.6" cy="952.5" r="5.35" fill="none" stroke="#1a1a1a" stroke-width="1.8"/>
<circle cx="66.6" cy="967.3" r="5.35" fill="none" stroke="#1a1a1a" stroke-width="1.8"/>
<circle cx="66.6" cy="974.6" r="5.35" fill="none" stroke="#1a1a1a" stroke-width="1.8"/>
<rect x="153.3" y="807.1" width="10.7" height="10.7" fill="none" stroke="#1a1a1a" stroke-width="1.8"/>
<rect x="153.3" y="851.4" width="10.7" height="10.7" fill="none" stroke="#1a1a1a" stroke-width="1.8"/>
<rect x="153.3" y="858.7" width="10.7" height="10.7" fill="none" stroke="#1a1a1a" stroke-width="1.8"/>
<rect x="153.3" y="873.5" width="10.7" height="10.7" fill="none" stroke="#1a1a1a" stroke-width="1.8"/>
<rect x="153.3" y="880.8" width="10.7" height="10.7" fill="none" stroke="#1a1a1a" stroke-width="1.8"/>
<rect x="153.3" y="888.2" width="10.7" height="10.7" fill="none" stroke="#1a1a1a" stroke-width="1.8"/>
<rect x="153.3" y="910.3" width="10.7" height="10.7" fill="none" stroke="#1a1a1a" stroke-width="1.8"/>
<rect x="153.3" y="925.1" width="10.7" height="10.7" fill="none" stroke="#1a1a1a" stroke-width="1.8"/>
<rect x="153.3" y="976.6" width="10.7" height="10.7" fill="none" stroke="#1a1a1a" stroke-width="1.8"/>
<path d="M59.3,800.6 L59.3,790.1 L162.9,790.1 L162.9,800.6" fill="none" stroke="#111" stroke-width="2.1"/>
<text x="110.1" y="790.3" font-size="21.5" fill="#111" text-anchor="middle">*</text>
<text x="75.5" y="1001" font-size="15.5" fill="#222" text-anchor="end" transform="rotate(-45 75.5 1001)">IgG</text>
<text x="165" y="1000.5" font-size="15.5" fill="#222" text-anchor="end" transform="rotate(-45 165 1000.5)"><tspan font-family='&quot;Liberation Serif&quot;, &quot;DejaVu Serif&quot;, serif' font-size="18">α</tspan>CSF1R</text>
<line x1="247.3" y1="797.4" x2="247.3" y2="983.5" stroke="#111" stroke-width="2.6"/>
<line x1="241.9" y1="982.2" x2="375.4" y2="982.2" stroke="#111" stroke-width="2.6"/>
<line x1="241.9" y1="982.2" x2="247.3" y2="982.2" stroke="#111" stroke-width="2.1"/>
<text x="237.6" y="988.3" font-size="17" fill="#222" text-anchor="end">0</text>
<line x1="241.9" y1="936.3" x2="247.3" y2="936.3" stroke="#111" stroke-width="2.1"/>
<text x="237.6" y="942.4" font-size="17" fill="#222" text-anchor="end">200</text>
<line x1="241.9" y1="890.4" x2="247.3" y2="890.4" stroke="#111" stroke-width="2.1"/>
<text x="237.6" y="896.5" font-size="17" fill="#222" text-anchor="end">400</text>
<line x1="241.9" y1="844.5" x2="247.3" y2="844.5" stroke="#111" stroke-width="2.1"/>
<text x="237.6" y="850.6" font-size="17" fill="#222" text-anchor="end">600</text>
<line x1="241.9" y1="798.6" x2="247.3" y2="798.6" stroke="#111" stroke-width="2.1"/>
<text x="237.6" y="804.7" font-size="17" fill="#222" text-anchor="end">800</text>
<line x1="265.9" y1="982.2" x2="265.9" y2="988.5" stroke="#111" stroke-width="2.1"/>
<line x1="358.2" y1="982.2" x2="358.2" y2="988.5" stroke="#111" stroke-width="2.1"/>
<text x="203" y="890.9" font-size="21.8" fill="#222" text-anchor="middle" transform="rotate(-90 203 890.9)">RMS (% baseline)</text>
<line x1="265.9" y1="861.3" x2="358.2" y2="877.8" stroke="#5a5a5a" stroke-width="1.7"/>
<line x1="265.9" y1="891.8" x2="358.2" y2="819.3" stroke="#5a5a5a" stroke-width="1.7"/>
<line x1="265.9" y1="893.8" x2="358.2" y2="842.7" stroke="#5a5a5a" stroke-width="1.7"/>
<line x1="265.9" y1="899.1" x2="358.2" y2="889.5" stroke="#5a5a5a" stroke-width="1.7"/>
<line x1="265.9" y1="900.7" x2="358.2" y2="877.8" stroke="#5a5a5a" stroke-width="1.7"/>
<line x1="265.9" y1="907.8" x2="358.2" y2="842.7" stroke="#5a5a5a" stroke-width="1.7"/>
<line x1="265.9" y1="910.8" x2="358.2" y2="877.8" stroke="#5a5a5a" stroke-width="1.7"/>
<line x1="265.9" y1="918.4" x2="358.2" y2="914.5" stroke="#5a5a5a" stroke-width="1.7"/>
<line x1="265.9" y1="917.5" x2="358.2" y2="877.3" stroke="#5a5a5a" stroke-width="1.7"/>
<line x1="265.9" y1="931.3" x2="358.2" y2="818.1" stroke="#5a5a5a" stroke-width="1.7"/>
<line x1="265.9" y1="932.2" x2="358.2" y2="924.1" stroke="#5a5a5a" stroke-width="1.7"/>
<line x1="265.9" y1="938.1" x2="358.2" y2="924.1" stroke="#5a5a5a" stroke-width="1.7"/>
<line x1="265.9" y1="942.5" x2="358.2" y2="941.3" stroke="#5a5a5a" stroke-width="1.7"/>
<line x1="265.9" y1="958.6" x2="358.2" y2="941.3" stroke="#5a5a5a" stroke-width="1.7"/>
<circle cx="265.9" cy="861.3" r="5.35" fill="none" stroke="#1a1a1a" stroke-width="1.8"/>
<circle cx="265.9" cy="891.8" r="5.35" fill="none" stroke="#1a1a1a" stroke-width="1.8"/>
<circle cx="265.9" cy="895.2" r="5.35" fill="none" stroke="#1a1a1a" stroke-width="1.8"/>
<circle cx="265.9" cy="899.1" r="5.35" fill="none" stroke="#1a1a1a" stroke-width="1.8"/>
<circle cx="265.9" cy="901.9" r="5.35" fill="none" stroke="#1a1a1a" stroke-width="1.8"/>
<circle cx="265.9" cy="907.8" r="5.35" fill="none" stroke="#1a1a1a" stroke-width="1.8"/>
<circle cx="265.9" cy="910.8" r="5.35" fill="none" stroke="#1a1a1a" stroke-width="1.8"/>
<circle cx="265.9" cy="918.4" r="5.35" fill="none" stroke="#1a1a1a" stroke-width="1.8"/>
<circle cx="265.9" cy="931.3" r="5.35" fill="none" stroke="#1a1a1a" stroke-width="1.8"/>
<circle cx="265.9" cy="938.1" r="5.35" fill="none" stroke="#1a1a1a" stroke-width="1.8"/>
<circle cx="265.9" cy="940.2" r="5.35" fill="none" stroke="#1a1a1a" stroke-width="1.8"/>
<circle cx="265.9" cy="942.5" r="5.35" fill="none" stroke="#1a1a1a" stroke-width="1.8"/>
<circle cx="265.9" cy="958.6" r="5.35" fill="none" stroke="#1a1a1a" stroke-width="1.8"/>
<rect x="352.8" y="812.3" width="10.7" height="10.7" fill="none" stroke="#1a1a1a" stroke-width="1.8"/>
<rect x="352.8" y="816" width="10.7" height="10.7" fill="none" stroke="#1a1a1a" stroke-width="1.8"/>
<rect x="352.8" y="837.1" width="10.7" height="10.7" fill="none" stroke="#1a1a1a" stroke-width="1.8"/>
<rect x="352.8" y="871.5" width="10.7" height="10.7" fill="none" stroke="#1a1a1a" stroke-width="1.8"/>
<rect x="352.8" y="874.3" width="10.7" height="10.7" fill="none" stroke="#1a1a1a" stroke-width="1.8"/>
<rect x="352.8" y="884.1" width="10.7" height="10.7" fill="none" stroke="#1a1a1a" stroke-width="1.8"/>
<rect x="352.8" y="909.1" width="10.7" height="10.7" fill="none" stroke="#1a1a1a" stroke-width="1.8"/>
<rect x="352.8" y="918.8" width="10.7" height="10.7" fill="none" stroke="#1a1a1a" stroke-width="1.8"/>
<rect x="352.8" y="936" width="10.7" height="10.7" fill="none" stroke="#1a1a1a" stroke-width="1.8"/>
<path d="M261.3,799.6 L261.3,788.7 L364.1,788.7 L364.1,799.6" fill="none" stroke="#111" stroke-width="2.1"/>
<text x="313.5" y="789.3" font-size="21.5" fill="#111" text-anchor="middle">**</text>
<text x="275" y="1001" font-size="15.5" fill="#222" text-anchor="end" transform="rotate(-45 275 1001)">IgG</text>
<text x="364.5" y="1000.5" font-size="15.5" fill="#222" text-anchor="end" transform="rotate(-45 364.5 1000.5)"><tspan font-family='&quot;Liberation Serif&quot;, &quot;DejaVu Serif&quot;, serif' font-size="18">α</tspan>CSF1R</text>
</g>
<g id="panelD">
<text x="380.8" y="782" font-size="35.2" fill="#111" text-anchor="start">D</text>
<line x1="444.6" y1="797.1" x2="444.6" y2="983.3" stroke="#111" stroke-width="2.8"/>
<line x1="444.6" y1="981.9" x2="674.8" y2="981.9" stroke="#111" stroke-width="2.8"/>
<line x1="439.2" y1="955.8" x2="444.6" y2="955.8" stroke="#111" stroke-width="2.2"/>
<text x="436.5" y="961.9" font-size="17" fill="#222" text-anchor="end">200</text>
<line x1="439.2" y1="903.3" x2="444.6" y2="903.3" stroke="#111" stroke-width="2.2"/>
<text x="436.5" y="909.4" font-size="17" fill="#222" text-anchor="end">400</text>
<line x1="439.2" y1="850.9" x2="444.6" y2="850.9" stroke="#111" stroke-width="2.2"/>
<text x="436.5" y="857" font-size="17" fill="#222" text-anchor="end">600</text>
<line x1="439.2" y1="798.4" x2="444.6" y2="798.4" stroke="#111" stroke-width="2.2"/>
<text x="436.5" y="804.5" font-size="17" fill="#222" text-anchor="end">800</text>
<line x1="457.4" y1="981.9" x2="457.4" y2="989" stroke="#111" stroke-width="2.2"/>
<text x="462.4" y="1000.5" font-size="15.3" fill="#222" text-anchor="end" transform="rotate(-45 462.4 1000.5)">1.5</text>
<line x1="483.1" y1="981.9" x2="483.1" y2="989" stroke="#111" stroke-width="2.2"/>
<text x="488.1" y="1000.5" font-size="15.3" fill="#222" text-anchor="end" transform="rotate(-45 488.1 1000.5)">1.75</text>
<line x1="508.7" y1="981.9" x2="508.7" y2="989" stroke="#111" stroke-width="2.2"/>
<text x="513.7" y="1000.5" font-size="15.3" fill="#222" text-anchor="end" transform="rotate(-45 513.7 1000.5)">2</text>
<line x1="534.4" y1="981.9" x2="534.4" y2="989" stroke="#111" stroke-width="2.2"/>
<text x="539.4" y="1000.5" font-size="15.3" fill="#222" text-anchor="end" transform="rotate(-45 539.4 1000.5)">2.25</text>
<line x1="559.7" y1="981.9" x2="559.7" y2="989" stroke="#111" stroke-width="2.2"/>
<text x="564.7" y="1000.5" font-size="15.3" fill="#222" text-anchor="end" transform="rotate(-45 564.7 1000.5)">2.5</text>
<line x1="585.4" y1="981.9" x2="585.4" y2="989" stroke="#111" stroke-width="2.2"/>
<text x="590.4" y="1000.5" font-size="15.3" fill="#222" text-anchor="end" transform="rotate(-45 590.4 1000.5)">2.75</text>
<line x1="611" y1="981.9" x2="611" y2="989" stroke="#111" stroke-width="2.2"/>
<text x="616" y="1000.5" font-size="15.3" fill="#222" text-anchor="end" transform="rotate(-45 616 1000.5)">3</text>
<line x1="636.7" y1="981.9" x2="636.7" y2="989" stroke="#111" stroke-width="2.2"/>
<text x="641.7" y="1000.5" font-size="15.3" fill="#222" text-anchor="end" transform="rotate(-45 641.7 1000.5)">3.25</text>
<line x1="662" y1="981.9" x2="662" y2="989" stroke="#111" stroke-width="2.2"/>
<text x="667" y="1000.5" font-size="15.3" fill="#222" text-anchor="end" transform="rotate(-45 667 1000.5)">3.5</text>
<text x="401" y="891.2" font-size="21.8" fill="#222" text-anchor="middle" transform="rotate(-90 401 891.2)">RMS (% baseline)</text>
<text x="561.3" y="1045" font-size="22.4" fill="#222" text-anchor="middle">Stretch length (mm)</text>
<line x1="457.4" y1="957" x2="457.4" y2="972.8" stroke="#111" stroke-width="2"/>
<line x1="451.3" y1="957" x2="463.5" y2="957" stroke="#111" stroke-width="2"/>
<line x1="451.3" y1="972.8" x2="463.5" y2="972.8" stroke="#111" stroke-width="1.9"/>
<line x1="483.1" y1="947.4" x2="483.1" y2="965" stroke="#111" stroke-width="2"/>
<line x1="477" y1="947.4" x2="489.2" y2="947.4" stroke="#111" stroke-width="2"/>
<line x1="477" y1="965" x2="489.2" y2="965" stroke="#111" stroke-width="1.9"/>
<line x1="508.7" y1="937.6" x2="508.7" y2="952.6" stroke="#111" stroke-width="2"/>
<line x1="502.6" y1="937.6" x2="514.8" y2="937.6" stroke="#111" stroke-width="2"/>
<line x1="502.6" y1="952.6" x2="514.8" y2="952.6" stroke="#111" stroke-width="1.9"/>
<line x1="534.4" y1="936.8" x2="534.4" y2="950.2" stroke="#111" stroke-width="2"/>
<line x1="528.3" y1="936.8" x2="540.5" y2="936.8" stroke="#111" stroke-width="2"/>
<line x1="528.3" y1="950.2" x2="540.5" y2="950.2" stroke="#111" stroke-width="1.9"/>
<line x1="559.7" y1="921.9" x2="559.7" y2="937.7" stroke="#111" stroke-width="2"/>
<line x1="553.6" y1="921.9" x2="565.8" y2="921.9" stroke="#111" stroke-width="2"/>
<line x1="553.6" y1="937.7" x2="565.8" y2="937.7" stroke="#111" stroke-width="1.9"/>
<line x1="585.4" y1="888.2" x2="585.4" y2="916.8" stroke="#111" stroke-width="2"/>
<line x1="579.3" y1="888.2" x2="591.5" y2="888.2" stroke="#111" stroke-width="2"/>
<line x1="579.3" y1="916.8" x2="591.5" y2="916.8" stroke="#111" stroke-width="1.9"/>
<line x1="611" y1="899.6" x2="611" y2="926.4" stroke="#111" stroke-width="2"/>
<line x1="604.9" y1="899.6" x2="617.1" y2="899.6" stroke="#111" stroke-width="2"/>
<line x1="604.9" y1="926.4" x2="617.1" y2="926.4" stroke="#111" stroke-width="1.9"/>
<line x1="636.7" y1="893.6" x2="636.7" y2="918" stroke="#111" stroke-width="2"/>
<line x1="630.6" y1="893.6" x2="642.8" y2="893.6" stroke="#111" stroke-width="2"/>
<line x1="630.6" y1="918" x2="642.8" y2="918" stroke="#111" stroke-width="1.9"/>
<line x1="662" y1="887.8" x2="662" y2="912.2" stroke="#111" stroke-width="2"/>
<line x1="655.9" y1="887.8" x2="668.1" y2="887.8" stroke="#111" stroke-width="2"/>
<line x1="655.9" y1="912.2" x2="668.1" y2="912.2" stroke="#111" stroke-width="1.9"/>
<line x1="457.4" y1="941.2" x2="457.4" y2="957.2" stroke="#111" stroke-width="2"/>
<line x1="451.3" y1="941.2" x2="463.5" y2="941.2" stroke="#111" stroke-width="2"/>
<line x1="451.3" y1="957.2" x2="463.5" y2="957.2" stroke="#111" stroke-width="1.9"/>
<line x1="483.1" y1="918.1" x2="483.1" y2="936.9" stroke="#111" stroke-width="2"/>
<line x1="477" y1="918.1" x2="489.2" y2="918.1" stroke="#111" stroke-width="2"/>
<line x1="477" y1="936.9" x2="489.2" y2="936.9" stroke="#111" stroke-width="1.9"/>
<line x1="508.7" y1="901.3" x2="508.7" y2="923.3" stroke="#111" stroke-width="2"/>
<line x1="502.6" y1="901.3" x2="514.8" y2="901.3" stroke="#111" stroke-width="2"/>
<line x1="502.6" y1="923.3" x2="514.8" y2="923.3" stroke="#111" stroke-width="1.9"/>
<line x1="534.4" y1="883.2" x2="534.4" y2="914" stroke="#111" stroke-width="2"/>
<line x1="528.3" y1="883.2" x2="540.5" y2="883.2" stroke="#111" stroke-width="2"/>
<line x1="528.3" y1="914" x2="540.5" y2="914" stroke="#111" stroke-width="1.9"/>
<line x1="559.7" y1="877" x2="559.7" y2="905" stroke="#111" stroke-width="2"/>
<line x1="553.6" y1="877" x2="565.8" y2="877" stroke="#111" stroke-width="2"/>
<line x1="553.6" y1="905" x2="565.8" y2="905" stroke="#111" stroke-width="1.9"/>
<line x1="585.4" y1="842.4" x2="585.4" y2="880.8" stroke="#111" stroke-width="2"/>
<line x1="579.3" y1="842.4" x2="591.5" y2="842.4" stroke="#111" stroke-width="2"/>
<line x1="579.3" y1="880.8" x2="591.5" y2="880.8" stroke="#111" stroke-width="1.9"/>
<line x1="611" y1="848.2" x2="611" y2="880.4" stroke="#111" stroke-width="2"/>
<line x1="604.9" y1="848.2" x2="617.1" y2="848.2" stroke="#111" stroke-width="2"/>
<line x1="604.9" y1="880.4" x2="617.1" y2="880.4" stroke="#111" stroke-width="1.9"/>
<line x1="636.7" y1="837" x2="636.7" y2="873.6" stroke="#111" stroke-width="2"/>
<line x1="630.6" y1="837" x2="642.8" y2="837" stroke="#111" stroke-width="2"/>
<line x1="630.6" y1="873.6" x2="642.8" y2="873.6" stroke="#111" stroke-width="1.9"/>
<line x1="662" y1="826.1" x2="662" y2="860.9" stroke="#111" stroke-width="2"/>
<line x1="655.9" y1="826.1" x2="668.1" y2="826.1" stroke="#111" stroke-width="2"/>
<line x1="655.9" y1="860.9" x2="668.1" y2="860.9" stroke="#111" stroke-width="1.9"/>
<polyline points="457.4,964.9 483.1,956.2 508.7,945.1 534.4,943.5 559.7,929.8 585.4,902.5 611,913 636.7,905.8 662,900" fill="none" stroke="#111" stroke-width="2.5" stroke-linejoin="round"/>
<polyline points="457.4,949.2 483.1,927.5 508.7,912.3 534.4,898.6 559.7,891 585.4,861.6 611,864.3 636.7,855.3 662,843.5" fill="none" stroke="#111" stroke-width="2.5" stroke-linejoin="round"/>
<circle cx="457.4" cy="964.9" r="4.6" fill="#9c9c9c" stroke="#111" stroke-width="2.4"/>
<circle cx="483.1" cy="956.2" r="4.6" fill="#9c9c9c" stroke="#111" stroke-width="2.4"/>
<circle cx="508.7" cy="945.1" r="4.6" fill="#9c9c9c" stroke="#111" stroke-width="2.4"/>
<circle cx="534.4" cy="943.5" r="4.6" fill="#9c9c9c" stroke="#111" stroke-width="2.4"/>
<circle cx="559.7" cy="929.8" r="4.6" fill="#9c9c9c" stroke="#111" stroke-width="2.4"/>
<circle cx="585.4" cy="902.5" r="4.6" fill="#9c9c9c" stroke="#111" stroke-width="2.4"/>
<circle cx="611" cy="913" r="4.6" fill="#9c9c9c" stroke="#111" stroke-width="2.4"/>
<circle cx="636.7" cy="905.8" r="4.6" fill="#9c9c9c" stroke="#111" stroke-width="2.4"/>
<circle cx="662" cy="900" r="4.6" fill="#9c9c9c" stroke="#111" stroke-width="2.4"/>
<rect x="452.2" y="944" width="10.4" height="10.4" fill="#808080" stroke="#111" stroke-width="2.1"/>
<rect x="477.9" y="922.3" width="10.4" height="10.4" fill="#808080" stroke="#111" stroke-width="2.1"/>
<rect x="503.5" y="907.1" width="10.4" height="10.4" fill="#808080" stroke="#111" stroke-width="2.1"/>
<rect x="529.2" y="893.4" width="10.4" height="10.4" fill="#808080" stroke="#111" stroke-width="2.1"/>
<rect x="554.5" y="885.8" width="10.4" height="10.4" fill="#808080" stroke="#111" stroke-width="2.1"/>
<rect x="580.2" y="856.4" width="10.4" height="10.4" fill="#808080" stroke="#111" stroke-width="2.1"/>
<rect x="605.8" y="859.1" width="10.4" height="10.4" fill="#808080" stroke="#111" stroke-width="2.1"/>
<rect x="631.5" y="850.1" width="10.4" height="10.4" fill="#808080" stroke="#111" stroke-width="2.1"/>
<rect x="656.8" y="838.3" width="10.4" height="10.4" fill="#808080" stroke="#111" stroke-width="2.1"/>
<text x="483.1" y="922.1" font-size="19.5" fill="#111" text-anchor="middle">*</text>
<text x="508.7" y="905.3" font-size="19.5" fill="#111" text-anchor="middle">*</text>
<text x="534.4" y="887.2" font-size="19.5" fill="#111" text-anchor="middle">*</text>
<text x="559.7" y="881" font-size="19.5" fill="#111" text-anchor="middle">**</text>
<text x="585.4" y="846.4" font-size="19.5" fill="#111" text-anchor="middle">*</text>
<text x="611" y="852.2" font-size="19.5" fill="#111" text-anchor="middle">*</text>
<text x="636.7" y="841" font-size="19.5" fill="#111" text-anchor="middle">*</text>
<text x="662" y="830.1" font-size="19.5" fill="#111" text-anchor="middle">*</text>
<line x1="451.4" y1="812.3" x2="475" y2="812.3" stroke="#111" stroke-width="2.6"/>
<circle cx="463.4" cy="812.3" r="4.6" fill="#9c9c9c" stroke="#111" stroke-width="2.4"/>
<text x="481.2" y="817.3" font-size="14.8" fill="#222" text-anchor="start">IgG</text>
<line x1="451.4" y1="835" x2="475" y2="835" stroke="#111" stroke-width="2.6"/>
<rect x="458.2" y="829.8" width="10.4" height="10.4" fill="#808080" stroke="#111" stroke-width="2.1"/>
<text x="478.6" y="839.6" font-size="15" fill="#222" text-anchor="start"><tspan font-family='&quot;Liberation Serif&quot;, &quot;DejaVu Serif&quot;, serif' font-size="17.4">α</tspan>CSF1R</text>
<path d="M672.1,845.2 L682.2,845.2 L682.2,897.7 L672.1,897.7" fill="none" stroke="#111" stroke-width="1.9"/>
<text x="679.3" y="872.8" font-size="17.5" fill="#111" text-anchor="middle" transform="rotate(90 679.3 872.8)">***</text>
</g>
<g id="panelE">
<text x="704.2" y="781.8" font-size="35" fill="#111" text-anchor="start">E</text>
<line x1="750.7" y1="796.6" x2="750.7" y2="983.4" stroke="#111" stroke-width="2.6"/>
<line x1="746" y1="982.1" x2="1029" y2="982.1" stroke="#111" stroke-width="2.6"/>
<line x1="745.2" y1="982.1" x2="750.7" y2="982.1" stroke="#111" stroke-width="2.2"/>
<text x="741.2" y="988.2" font-size="17" fill="#222" text-anchor="end">0</text>
<line x1="745.2" y1="929.7" x2="750.7" y2="929.7" stroke="#111" stroke-width="2.2"/>
<text x="741.2" y="935.8" font-size="17" fill="#222" text-anchor="end">2</text>
<line x1="745.2" y1="876.7" x2="750.7" y2="876.7" stroke="#111" stroke-width="2.2"/>
<text x="741.2" y="882.8" font-size="17" fill="#222" text-anchor="end">4</text>
<line x1="745.2" y1="823.9" x2="750.7" y2="823.9" stroke="#111" stroke-width="2.2"/>
<text x="741.2" y="830" font-size="17" fill="#222" text-anchor="end">6</text>
<line x1="745.2" y1="797.7" x2="750.7" y2="797.7" stroke="#111" stroke-width="2.2"/>
<line x1="797.9" y1="982.1" x2="797.9" y2="989.2" stroke="#111" stroke-width="2.2"/>
<text x="795.8" y="1005.2" font-size="15" fill="#222" text-anchor="middle">D1</text>
<line x1="890.1" y1="982.1" x2="890.1" y2="989.2" stroke="#111" stroke-width="2.2"/>
<text x="888.6" y="1005.2" font-size="15" fill="#222" text-anchor="middle">D3</text>
<line x1="982.4" y1="982.1" x2="982.4" y2="989.2" stroke="#111" stroke-width="2.2"/>
<text x="981.3" y="1005.2" font-size="15" fill="#222" text-anchor="middle">D5</text>
<text x="722.4" y="969" font-size="22.6" fill="#222" text-anchor="start" transform="rotate(-90 722.4 969)">Seconds (x10<tspan font-size="12.5" dx="4.5" dy="-8.5">3</tspan><tspan dx="2" dy="8.5">)</tspan></text>
<circle cx="775.1" cy="956.7" r="5.1" fill="#555558"/>
<circle cx="791.4" cy="965" r="5.1" fill="#555558"/>
<circle cx="772.5" cy="971.1" r="5.1" fill="#555558"/>
<circle cx="785.6" cy="969.3" r="5.1" fill="#555558"/>
<circle cx="779.5" cy="973.7" r="5.1" fill="#555558"/>
<circle cx="789.1" cy="971.1" r="5.1" fill="#555558"/>
<circle cx="778.6" cy="977.2" r="5.1" fill="#555558"/>
<circle cx="783" cy="974.6" r="5.1" fill="#555558"/>
<rect x="806.2" y="909.5" width="7" height="7" fill="none" stroke="#6a6a6d" stroke-width="2.4"/>
<rect x="817.4" y="917.4" width="7" height="7" fill="none" stroke="#6a6a6d" stroke-width="2.4"/>
<rect x="811.8" y="940.1" width="7" height="7" fill="none" stroke="#6a6a6d" stroke-width="2.4"/>
<rect x="818.8" y="942.7" width="7" height="7" fill="none" stroke="#6a6a6d" stroke-width="2.4"/>
<rect x="805.4" y="945.7" width="7" height="7" fill="none" stroke="#6a6a6d" stroke-width="2.4"/>
<rect x="812.7" y="948.3" width="7" height="7" fill="none" stroke="#6a6a6d" stroke-width="2.4"/>
<rect x="817.6" y="966.7" width="7" height="7" fill="none" stroke="#6a6a6d" stroke-width="2.4"/>
<rect x="806.2" y="971.1" width="7" height="7" fill="none" stroke="#6a6a6d" stroke-width="2.4"/>
<rect x="811" y="972.8" width="7" height="7" fill="none" stroke="#6a6a6d" stroke-width="2.4"/>
<rect x="815.3" y="971.1" width="7" height="7" fill="none" stroke="#6a6a6d" stroke-width="2.4"/>
<circle cx="873.1" cy="937" r="5.1" fill="#555558"/>
<circle cx="867.8" cy="951.8" r="5.1" fill="#555558"/>
<circle cx="879.2" cy="951" r="5.1" fill="#555558"/>
<circle cx="868.7" cy="958" r="5.1" fill="#555558"/>
<circle cx="878.3" cy="958" r="5.1" fill="#555558"/>
<circle cx="866.9" cy="965" r="5.1" fill="#555558"/>
<circle cx="877.4" cy="965" r="5.1" fill="#555558"/>
<circle cx="875.7" cy="969.3" r="5.1" fill="#555558"/>
<circle cx="869.6" cy="972.8" r="5.1" fill="#555558"/>
<rect x="904.4" y="835.9" width="7" height="7" fill="none" stroke="#6a6a6d" stroke-width="2.4"/>
<rect x="904.4" y="869.7" width="7" height="7" fill="none" stroke="#6a6a6d" stroke-width="2.4"/>
<rect x="898.4" y="921.2" width="7" height="7" fill="none" stroke="#6a6a6d" stroke-width="2.4"/>
<rect x="910.3" y="921.2" width="7" height="7" fill="none" stroke="#6a6a6d" stroke-width="2.4"/>
<rect x="904.2" y="923.8" width="7" height="7" fill="none" stroke="#6a6a6d" stroke-width="2.4"/>
<rect x="898.4" y="949.2" width="7" height="7" fill="none" stroke="#6a6a6d" stroke-width="2.4"/>
<rect x="909.8" y="951.8" width="7" height="7" fill="none" stroke="#6a6a6d" stroke-width="2.4"/>
<rect x="898.1" y="953.6" width="7" height="7" fill="none" stroke="#6a6a6d" stroke-width="2.4"/>
<rect x="904.2" y="962.8" width="7" height="7" fill="none" stroke="#6a6a6d" stroke-width="2.4"/>
<circle cx="965.5" cy="942.6" r="5.1" fill="#555558"/>
<circle cx="960.5" cy="957" r="5.1" fill="#555558"/>
<circle cx="971.2" cy="957" r="5.1" fill="#555558"/>
<circle cx="958.6" cy="962.7" r="5.1" fill="#555558"/>
<circle cx="972.3" cy="962.7" r="5.1" fill="#555558"/>
<circle cx="965.5" cy="960.4" r="5.1" fill="#555558"/>
<circle cx="960.9" cy="968.4" r="5.1" fill="#555558"/>
<circle cx="970.1" cy="968.4" r="5.1" fill="#555558"/>
<circle cx="962.5" cy="974.2" r="5.1" fill="#555558"/>
<circle cx="967.8" cy="971.9" r="5.1" fill="#555558"/>
<rect x="996.7" y="819.4" width="7" height="7" fill="none" stroke="#6a6a6d" stroke-width="2.4"/>
<rect x="991.2" y="899.8" width="7" height="7" fill="none" stroke="#6a6a6d" stroke-width="2.4"/>
<rect x="1002" y="899.8" width="7" height="7" fill="none" stroke="#6a6a6d" stroke-width="2.4"/>
<rect x="996.3" y="919.9" width="7" height="7" fill="none" stroke="#6a6a6d" stroke-width="2.4"/>
<rect x="1003.1" y="940.5" width="7" height="7" fill="none" stroke="#6a6a6d" stroke-width="2.4"/>
<rect x="990.5" y="946.7" width="7" height="7" fill="none" stroke="#6a6a6d" stroke-width="2.4"/>
<rect x="997.4" y="949.6" width="7" height="7" fill="none" stroke="#6a6a6d" stroke-width="2.4"/>
<rect x="990.5" y="963.8" width="7" height="7" fill="none" stroke="#6a6a6d" stroke-width="2.4"/>
<rect x="1003.1" y="963.8" width="7" height="7" fill="none" stroke="#6a6a6d" stroke-width="2.4"/>
<rect x="996.3" y="971.8" width="7" height="7" fill="none" stroke="#6a6a6d" stroke-width="2.4"/>
<line x1="769.3" y1="970.7" x2="792.1" y2="970.7" stroke="#111" stroke-width="2.4"/>
<line x1="780.8" y1="964.6" x2="780.8" y2="976" stroke="#111" stroke-width="2.4"/>
<line x1="774.2" y1="964.6" x2="787.4" y2="964.6" stroke="#111" stroke-width="2.4"/>
<line x1="774.2" y1="976" x2="787.4" y2="976" stroke="#111" stroke-width="2.4"/>
<line x1="804" y1="951.8" x2="826.7" y2="951.8" stroke="#111" stroke-width="2.4"/>
<line x1="815.4" y1="945.2" x2="815.4" y2="959.4" stroke="#111" stroke-width="2.4"/>
<line x1="809.2" y1="945.2" x2="821.5" y2="945.2" stroke="#111" stroke-width="2.4"/>
<line x1="809.2" y1="959.4" x2="821.5" y2="959.4" stroke="#111" stroke-width="2.4"/>
<line x1="861.7" y1="958.3" x2="884.4" y2="958.3" stroke="#111" stroke-width="2.4"/>
<line x1="873.1" y1="948" x2="873.1" y2="968.8" stroke="#111" stroke-width="2.4"/>
<line x1="867" y1="948" x2="879.2" y2="948" stroke="#111" stroke-width="2.4"/>
<line x1="867" y1="968.8" x2="879.2" y2="968.8" stroke="#111" stroke-width="2.4"/>
<line x1="896.3" y1="927.3" x2="918.9" y2="927.3" stroke="#111" stroke-width="2.4"/>
<line x1="907.9" y1="914.7" x2="907.9" y2="940.8" stroke="#111" stroke-width="2.4"/>
<line x1="901.6" y1="914.7" x2="914.2" y2="914.7" stroke="#111" stroke-width="2.4"/>
<line x1="901.6" y1="940.8" x2="914.2" y2="940.8" stroke="#111" stroke-width="2.4"/>
<line x1="954.1" y1="962.3" x2="976.9" y2="962.3" stroke="#111" stroke-width="2.4"/>
<line x1="965.2" y1="954.1" x2="965.2" y2="970" stroke="#111" stroke-width="2.4"/>
<line x1="958.6" y1="954.1" x2="971.9" y2="954.1" stroke="#111" stroke-width="2.4"/>
<line x1="958.6" y1="970" x2="971.9" y2="970" stroke="#111" stroke-width="2.4"/>
<line x1="988.8" y1="931" x2="1011.6" y2="931" stroke="#111" stroke-width="2.4"/>
<line x1="1000" y1="916.6" x2="1000" y2="944.9" stroke="#111" stroke-width="2.4"/>
<line x1="993.4" y1="916.6" x2="1006.6" y2="916.6" stroke="#111" stroke-width="2.4"/>
<line x1="993.4" y1="944.9" x2="1006.6" y2="944.9" stroke="#111" stroke-width="2.4"/>
<path d="M779,892.6 L779,881.9 L819.7,881.9 L819.7,892.6" fill="none" stroke="#111" stroke-width="2.2"/>
<text x="799.6" y="883.7" font-size="19.5" fill="#111" text-anchor="middle">*</text>
<path d="M871.4,816 L871.4,805.6 L912.3,805.6 L912.3,816" fill="none" stroke="#111" stroke-width="2.2"/>
<text x="891.9" y="807" font-size="19.5" fill="#111" text-anchor="middle">*</text>
<path d="M963.9,816 L963.9,805.6 L1004.8,805.6 L1004.8,816" fill="none" stroke="#111" stroke-width="2.2"/>
<text x="984.7" y="807" font-size="19.5" fill="#111" text-anchor="middle">*</text>
<circle cx="767" cy="802.9" r="5.1" fill="#555558"/>
<text x="773.2" y="808" font-size="15.5" fill="#222" text-anchor="start">IgG</text>
<rect x="763.4" y="819.9" width="7" height="7" fill="none" stroke="#6a6a6d" stroke-width="2.4"/>
<text x="774.6" y="828.3" font-size="14.8" fill="#222" text-anchor="start"><tspan font-family='&quot;Liberation Serif&quot;, &quot;DejaVu Serif&quot;, serif' font-size="17.2">α</tspan>CSF1R</text>
</g>
</svg></body></html>
